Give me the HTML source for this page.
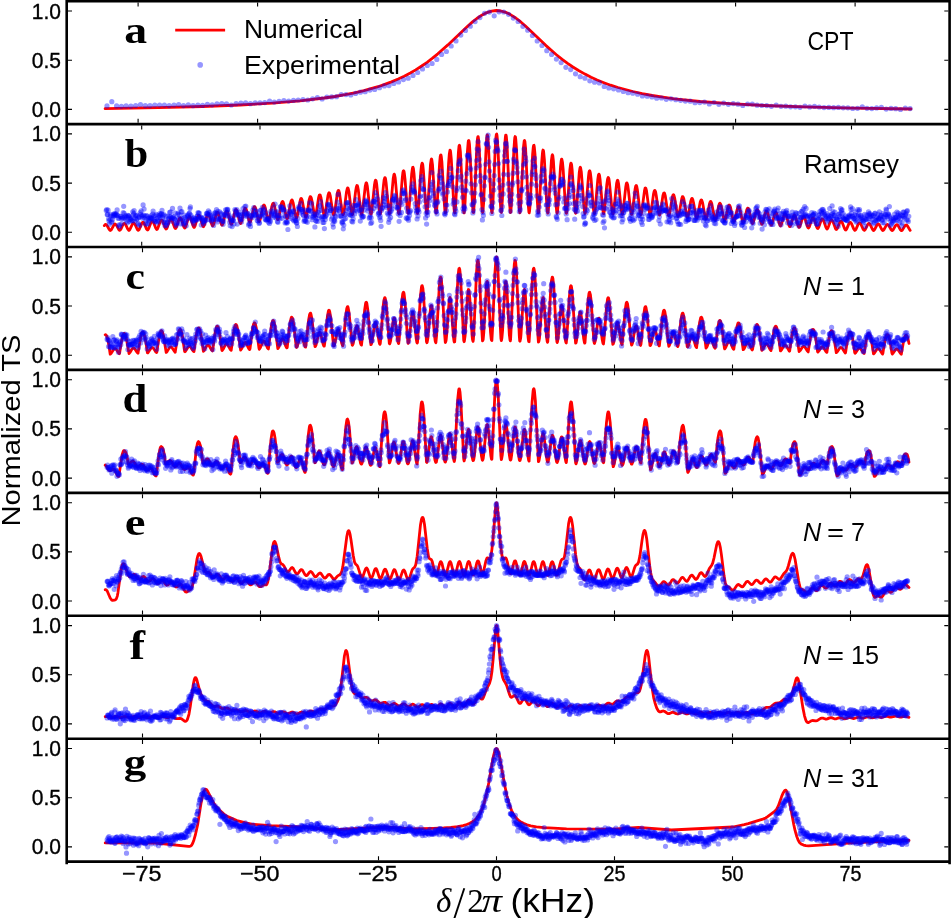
<!DOCTYPE html><html><head><meta charset="utf-8"><style>html,body{margin:0;padding:0;background:#fff;overflow:hidden;width:951px;height:918px}svg{display:block;will-change:transform}text{font-family:"Liberation Sans",sans-serif;}</style></head><body>
<svg width="951" height="918" viewBox="0 0 951 918">
<rect width="951" height="918" fill="#fff"/>
<defs>
<clipPath id="c0"><rect x="66.7" y="1.2" width="882.9" height="122.9"/></clipPath>
<clipPath id="c1"><rect x="66.7" y="124.1" width="882.9" height="122.9"/></clipPath>
<clipPath id="c2"><rect x="66.7" y="247.0" width="882.9" height="122.9"/></clipPath>
<clipPath id="c3"><rect x="66.7" y="369.9" width="882.9" height="122.9"/></clipPath>
<clipPath id="c4"><rect x="66.7" y="492.9" width="882.9" height="122.9"/></clipPath>
<clipPath id="c5"><rect x="66.7" y="615.8" width="882.9" height="122.9"/></clipPath>
<clipPath id="c6"><rect x="66.7" y="738.7" width="882.9" height="122.9"/></clipPath>
</defs>
<g clip-path="url(#c0)">
<g transform="scale(0.1)">
<path fill="none" stroke="#ff0000" stroke-width="28.0" stroke-linejoin="round" stroke-linecap="round" d="M1051 1087l531-10 444-12 376-15 323-19 275-23 242-28 108-15 101-18 94-19 94-21 141-40 67-23 68-25 67-29 60-28 61-32 54-31 60-39 54-37 54-41 53-44 101-89 202-192 47-41 40-31 54-36 47-23 47-15 47-6 47 5 47 13 47 23 54 34 47 37 47 41 208 198 101 89 61 48 54 40 53 37 61 37 60 34 61 31 60 28 68 27 67 25 74 23 148 40 94 21 100 19 108 17 114 16 256 27 295 22 343 18 404 14 483 12 585 9"/>
<path d="M1070 1059h0m574-8h0m574-14h0m573-24h0m574-46h0m573-133h0m574-374h0m574-317h0m573 530h0m574 242h0m573 88h0m574 39h0m574 26h0m573 17h0m574 1h0" stroke="#0000ff" stroke-opacity="0.410" stroke-width="52.0" stroke-linecap="round" fill="none"/>
<path d="M1118 1017h0m574 39h0m573-18h0m574-33h0m573-60h0m574-125h0m574-411h0m573-228h0m574 515h0m574 231h0m573 84h0m574 44h0m573 18h0m574 10h0" stroke="#0000ff" stroke-opacity="0.410" stroke-width="52.0" stroke-linecap="round" fill="none"/>
<path d="M1166 1059h0m574-9h0m573 0h0m574-39h0m573-65h0m574-150h0m574-445h0m573-136h0m574 523h0m573 194h0m574 80h0m574 28h0m573 20h0m574 9h0" stroke="#0000ff" stroke-opacity="0.410" stroke-width="52.0" stroke-linecap="round" fill="none"/>
<path d="M1214 1063h0m573-18h0m574-8h0m574-33h0m573-54h0m574-168h0m573-478h0m574-41h0m573 504h0m574 175h0m574 85h0m573 14h0m574 28h0m573 14h0" stroke="#0000ff" stroke-opacity="0.410" stroke-width="52.0" stroke-linecap="round" fill="none"/>
<path d="M1261 1059h0m574-3h0m574-24h0m573-32h0m574-66h0m574-180h0m573-492h0m574 40h0m573 480h0m574 178h0m574 66h0m573 26h0m574 12h0m573 22h0" stroke="#0000ff" stroke-opacity="0.410" stroke-width="52.0" stroke-linecap="round" fill="none"/>
<path d="M1309 1062h0m574-13h0m573-20h0m574-33h0m574-74h0m573-197h0m574-509h0m573 139h0m574 453h0m574 154h0m573 59h0m574 34h0m573 15h0m574 9h0" stroke="#0000ff" stroke-opacity="0.410" stroke-width="52.0" stroke-linecap="round" fill="none"/>
<path d="M1357 1055h0m574 2h0m573-20h0m574-37h0m574-83h0m573-228h0m574-513h0m573 234h0m574 412h0m574 147h0m573 70h0m574 17h0m573 20h0m574-3h0" stroke="#0000ff" stroke-opacity="0.410" stroke-width="52.0" stroke-linecap="round" fill="none"/>
<path d="M1405 1047h0m574 5h0m573-23h0m574-41h0m573-87h0m574-246h0m573-522h0m574 322h0m574 374h0m573 153h0m574 43h0m573 38h0m574 11h0m574 17h0" stroke="#0000ff" stroke-opacity="0.410" stroke-width="52.0" stroke-linecap="round" fill="none"/>
<path d="M1453 1057h0m573-3h0m574-25h0m574-53h0m573-82h0m574-259h0m573-514h0m574 386h0m574 357h0m573 116h0m574 63h0m573 9h0m574 25h0m574 7h0" stroke="#0000ff" stroke-opacity="0.410" stroke-width="52.0" stroke-linecap="round" fill="none"/>
<path d="M1500 1057h0m574-13h0m574-18h0m573-37h0m574-112h0m573-283h0m574-436h0m574 386h0m573 335h0m574 114h0m574 38h0m573 32h0m574 11h0m573 13h0" stroke="#0000ff" stroke-opacity="0.410" stroke-width="52.0" stroke-linecap="round" fill="none"/>
<path d="M1548 1050h0m574-2h0m574-36h0m573-42h0m574-111h0m573-315h0m574-426h0m574 473h0m573 297h0m574 100h0m573 55h0m574 19h0m574 16h0m573 17h0" stroke="#0000ff" stroke-opacity="0.410" stroke-width="52.0" stroke-linecap="round" fill="none"/>
<path d="M1596 1050h0m574-12h0m573-17h0m574-52h0m573-113h0m574-341h0m574-395h0m573 506h0m574 273h0m573 98h0m574 39h0m574 32h0m573 10h0m574 2h0" stroke="#0000ff" stroke-opacity="0.410" stroke-width="52.0" stroke-linecap="round" fill="none"/>
</g></g>
<g clip-path="url(#c1)">
<g transform="scale(0.1)">
<path fill="none" stroke="#ff0000" stroke-width="28.0" stroke-linejoin="round" stroke-linecap="round" d="M1043 2256l10-11 4 0 6 2 10 13 21 37 6 7 4 1 10-9 27-50 6-6 7 1 10 11 24 45 6 7 4 0 10-11 23-49 7-8 7-1 10 9 23 48 10 12 4-1 6-7 27-58 7-8 7 0 10 11 23 52 7 9 3 1 4-1 7-9 26-62 7-7 3-1 4 1 7 7 26 60 7 8 4 1 3-3 7-11 23-61 7-10 7-3 3 1 7 9 23 58 10 15 4-1 6-9 27-72 7-10 7-2 3 2 7 10 23 64 7 11 3 2 4-1 6-11 27-78 7-10 3-1 4 1 6 8 27 75 7 11 3 1 4-2 6-14 24-74 7-13 6-4 7 5 7 14 23 73 7 10 3 0 10-19 24-79 7-13 6-3 4 2 6 12 24 77 7 14 3 3 3-1 7-13 27-94 7-12 3-2 7 4 7 14 23 81 7 14 3 2 3-3 7-15 27-98 7-11 3-2 4 2 6 11 27 94 7 13 3 0 4-4 6-17 24-93 6-15 4-4 3-1 4 3 6 13 24 89 7 18 3 4 3-1 7-14 23-97 7-20 7-8 3 0 4 3 6 16 24 94 7 16 3 3 3-2 7-17 27-112 7-14 3-2 3 1 7 12 27 109 7 15 3 2 3-5 7-19 24-106 6-18 4-5 3-1 7 8 6 20 24 102 7 13 3 0 3-6 7-21 24-110 6-17 4-4 3 0 3 4 7 17 24 105 6 19 4 4 3-2 7-18 27-126 6-16 4-3 3 1 3 4 7 20 24 110 6 18 4 3 3-4 7-21 23-120 7-22 3-5 4-2 3 2 7 16 27 128 6 17 4 0 3-5 7-24 23-126 7-20 4-5 3 0 3 3 7 19 23 121 7 23 4 6 3-2 7-19 23-129 7-26 7-11 3 0 3 5 7 21 24 127 6 23 4 3 3-3 7-23 27-149 6-17 4-3 3 2 7 17 27 146 6 20 4 2 3-5 7-26 23-143 7-24 3-6 4-1 6 11 7 28 24 139 6 19 4-1 3-7 7-30 23-149 7-24 3-4 4 0 3 5 7 23 23 148 7 27 3 5 4-3 6-25 27-174 7-22 3-4 4 2 3 6 7 28 23 156 7 26 3 4 4-5 7-30 26-188 7-21 3-2 4 3 7 23 26 191 7 25 4 1 3-8 7-35 23-186 7-31 3-7 4 0 3 5 7 29 23 187 7 36 3 9 4-3 6-29 24-201 7-41 6-17 4 1 3 8 7 34 23 204 7 36 3 6 4-5 6-37 27-242 7-28 3-4 4 4 6 28 27 244 7 35 3 3 4-10 6-43 24-236 7-40 3-10 3-1 4 6 6 35 24 236 7 48 3 12 3-1 7-35 24-252 6-52 7-23 3 0 4 9 6 42 24 255 7 47 3 9 3-5 7-43 27-305 7-38 3-6 3 4 7 33 27 307 7 45 3 6 4-10 6-52 24-298 6-53 4-13 3-3 4 6 3 17 7 58 23 301 7 43 3 1 4-15 6-61 24-321 7-51 3-11 3-1 4 11 6 50 24 323 7 63 3 13 3-4 7-52 23-347 7-69 4-20 3-9 3 3 4 14 6 60 24 353 7 61 3 10 3-10 7-63 27-417 7-47 3-6 3 6 7 50 27 422 7 59 3 4 3-17 7-75 24-405 6-67 4-16 3-2 3 11 7 60 24 408 6 81 4 20 3-2 7-62 23-435 7-90 7-39 3 2 3 16 7 73 24 443 6 80 4 15 3-10 7-75 27-522 6-62 4-9 3 6 7 59 27 526 6 77 4 9 3-18 7-90 23-504 7-87 3-22 4-4 3 12 4 29 6 100 24 507 7 72 3 1 3-26 7-104 23-529 7-83 4-16 3 0 3 19 7 87 23 533 7 99 4 21 3-8 7-83 27-601 6-74 4-11 3 7 7 66 27 600 6 91 4 14 3-17 7-95 23-549 7-97 3-23 4-6 3 13 3 30 7 108 24 547 6 81 4 5 3-24 7-104 23-542 7-85 3-18 4 0 3 19 7 85 23 542 7 104 3 24 4-4 6-78 24-533 7-104 3-29 3-12 4 6 3 24 7 94 23 531 7 92 3 16 4-12 7-85 26-561 7-61 3-5 4 11 7 70 26 558 7 77 3 9 4-19 7-89 23-476 7-75 3-16 4-1 3 16 7 73 23 469 7 93 3 23 4 0 6-62 24-442 7-87 3-25 3-11 4 4 3 19 7 75 23 438 7 79 3 16 4-7 6-66 27-453 7-51 3-6 4 8 6 53 27 449 7 65 3 9 4-12 6-69 24-381 7-63 3-15 3-1 7 33 7 76 23 376 7 53 3 3 4-17 6-70 24-351 7-52 3-10 3 2 4 13 6 58 24 348 7 65 3 15 3-3 7-50 27-359 7-43 3-6 3 5 7 40 27 354 7 55 3 9 3-8 7-51 24-302 6-52 4-12 3-3 3 7 4 17 7 59 23 297 7 45 3 4 4-11 6-53 24-278 6-43 4-9 3 0 4 10 6 44 24 274 7 54 3 13 3-1 7-36 23-256 7-49 4-14 3-6 3 3 4 10 6 45 24 253 7 45 3 9 3-4 7-39 27-263 7-29 3-3 3 4 7 32 27 262 7 37 3 5 3-7 7-41 24-221 6-36 4-8 3 0 7 20 6 45 24 218 7 30 3 1 3-10 7-40 24-203 6-30 4-5 3 1 3 8 7 34 24 202 6 37 4 9 3-3 7-29 27-208 6-24 4-3 3 3 7 24 27 206 6 31 4 5 3-5 7-30 23-172 7-29 3-7 4-1 7 14 6 35 24 169 6 26 4 2 3-7 7-30 23-156 7-24 4-4 3 0 3 6 7 25 23 157 7 31 4 7 3 0 7-21 23-147 7-29 3-8 4-3 3 2 3 7 7 26 24 150 6 26 4 6 3-3 7-23 27-154 6-17 4-1 3 3 7 19 27 158 6 23 4 3 3-5 7-24 23-132 7-21 3-5 4 0 6 12 7 28 24 134 6 19 4 1 3-6 7-26 23-126 7-18 3-4 4 1 3 6 7 21 23 130 7 24 3 6 4-2 6-18 27-135 7-16 3-2 4 3 7 16 26 138 7 22 3 3 4-3 7-20 23-116 7-20 3-4 3-1 7 11 7 24 23 119 7 18 4 1 3-4 7-21 23-110 7-17 3-3 4 1 3 4 7 18 23 114 7 22 3 6 4-1 6-15 24-105 7-20 6-8 4 1 3 5 7 20 23 110 7 19 3 4 4-2 6-17 27-112 7-12 3-1 4 3 6 14 27 118 7 17 3 2 4-4 6-18 24-98 7-15 3-3 3 0 4 3 6 16 24 101 10 25 3 1 7-13 24-93 6-19 7-7 3 0 4 5 6 16 24 97 7 18 3 4 3-1 7-14 27-99 7-11 3-2 3 2 7 12 27 103 7 15 3 3 3-3 7-15 24-85 6-14 4-3 3-1 7 8 7 18 23 88 7 13 3 1 4-3 6-16 24-81 7-12 3-2 7 4 6 14 24 84 7 16 3 4 3-1 7-11 27-85 7-10 3-1 3 1 7 10 27 88 7 13 3 3 3-2 7-12 24-73 6-13 7-3 3 1 7 11 27 83 7 11 3 1 3-2 7-13 24-68 6-11 4-2 6 3 7 11 24 70 10 17 3 0 7-9 23-64 7-12 7-5 6 4 7 11 24 66 6 12 4 2 3-1 7-9 27-66 6-7 4 0 3 1 7 8 27 68 6 10 4 1 3-2 7-9 23-55 7-9 7-2 10 11 23 55 11 14 3 0 7-7 23-52 7-10 7-5 6 2 7 9 23 52 11 12 3-1 7-7 27-54 6-7 4-1 3 1 7 6 27 54 6 8 4 2 3-2 7-7 23-46 7-8 7-2 10 7 23 45 10 13 7-2 7-8 23-42 7-7 7-1 10 8 23 42 10 11 4 0 6-6 24-42 7-8 6-3 7 2 7 7 23 42 10 9 4-1 7-7 26-44 10-5 7 2 7 8 27 44"/>
<path d="M1062 2106h0m57 109h0m57-61h0m56-28h0m57 34h0m57 51h0m57-84h0m57 71h0m56-19h0m57 6h0m57-32h0m57 41h0m57-7h0m56-105h0m57 146h0m57-42h0m57-26h0m56 46h0m57-98h0m57 61h0m57-50h0m57-21h0m56 110h0m57-112h0m57 45h0m57-3h0m56-62h0m57 150h0m57-33h0m57-81h0m57 48h0m56 23h0m57 112h0m57-180h0m57-39h0m57 25h0m56-21h0m57 131h0m57-46h0m57-125h0m56 231h0m57-190h0m57 66h0m57-72h0m57-79h0m56 161h0m57-115h0m57-28h0m57 113h0m57-115h0m56 106h0m57-87h0m57 93h0m57 63h0m56-348h0m57 256h0m57-137h0m57 13h0m57 61h0m56-254h0m57 273h0m57-183h0m57-161h0m56 355h0m57-460h0m57 246h0m57 103h0m57-505h0m56 633h0m57-570h0m57 234h0m57 220h0m57-457h0m56 513h0m57-251h0m57-22h0m57 365h0m56-364h0m57 298h0m57-148h0m57-41h0m57 283h0m56-284h0m57 254h0m57 27h0m57-181h0m57 250h0m56-329h0m57 121h0m57 154h0m57-160h0m56 203h0m57-130h0m57 54h0m57 11h0m57-68h0m56 117h0m57-79h0m57-61h0m57 129h0m56-147h0m57 121h0m57 3h0m57-22h0m57 56h0m56-57h0m57 62h0m57-14h0m57-97h0m57 156h0m56-84h0m57 24h0m57 80h0m57-93h0m56 30h0m57-20h0m57-46h0m57 94h0m57-35h0m56-42h0m57 92h0m57-77h0m57 109h0m57-193h0m56 104h0m57 35h0m57-79h0m57 10h0m56-22h0m57 31h0m57 47h0m57-30h0m57-44h0m56 37h0m57 39h0m57-36h0m57 30h0m57 39h0m56-62h0m57 6h0m57 15h0m57-73h0" stroke="#0000ff" stroke-opacity="0.410" stroke-width="52.0" stroke-linecap="round" fill="none"/>
<path d="M1067 2095h0m57 99h0m56-12h0m57-119h0m57 152h0m57-32h0m57-38h0m56 11h0m57 30h0m57 17h0m57 21h0m56-43h0m57 16h0m57 41h0m57 20h0m57-86h0m56-11h0m57 59h0m57-25h0m57-61h0m57 60h0m56-37h0m57 37h0m57 47h0m57-155h0m56 165h0m57-101h0m57 6h0m57 42h0m57-56h0m56-25h0m57-43h0m57 65h0m57 70h0m56-124h0m57 121h0m57-95h0m57 32h0m57 49h0m56-133h0m57 152h0m57-101h0m57 29h0m57 12h0m56-92h0m57 115h0m57-65h0m57-25h0m56 46h0m57-147h0m57 191h0m57-180h0m57 49h0m56 72h0m57-223h0m57 227h0m57-113h0m57-109h0m56 219h0m57-292h0m57 95h0m57 122h0m56-398h0m57 431h0m57-395h0m57 87h0m57 176h0m56-510h0m57 594h0m57-391h0m57-21h0m56 398h0m57-506h0m57 396h0m57-31h0m57-155h0m56 407h0m57-421h0m57 296h0m57-65h0m57-105h0m56 274h0m57-137h0m57-6h0m57 213h0m56-224h0m57 188h0m57-60h0m57 12h0m57 83h0m56-250h0m57 205h0m57-50h0m57 113h0m57 0h0m56-115h0m57 91h0m57-99h0m57 40h0m56 111h0m57-74h0m57 13h0m57 58h0m57-152h0m56 140h0m57-60h0m57-43h0m57 133h0m57-94h0m56 67h0m57 30h0m57-74h0m57 60h0m56-103h0m57 30h0m57-10h0m57 21h0m57 85h0m56-59h0m57 10h0m57-29h0m57 19h0m56-51h0m57 0h0m57 31h0m57 76h0m57-147h0m56 107h0m57-6h0m57-56h0m57 57h0m57-128h0m56 153h0m57-47h0m57-16h0m57-4h0m56 36h0m57-9h0m57 72h0m57-55h0m57 61h0m56-153h0" stroke="#0000ff" stroke-opacity="0.410" stroke-width="52.0" stroke-linecap="round" fill="none"/>
<path d="M1072 2146h0m56 10h0m57 95h0m57-117h0m57 41h0m56-18h0m57-48h0m57 134h0m57-102h0m57 74h0m56-68h0m57-23h0m57 8h0m57-13h0m57 74h0m56 10h0m57-78h0m57 92h0m57-93h0m56 3h0m57 54h0m57-56h0m57 141h0m57-114h0m56 2h0m57 83h0m57-90h0m57-42h0m57 24h0m56 27h0m57 60h0m57-103h0m57 51h0m56-12h0m57-23h0m57 86h0m57-178h0m57 149h0m56 38h0m57-173h0m57 147h0m57-141h0m56 127h0m57-56h0m57-18h0m57 54h0m57-79h0m56-73h0m57 165h0m57-251h0m57 183h0m57-39h0m56-133h0m57 240h0m57-262h0m57 105h0m56 48h0m57-157h0m57 202h0m57-274h0m57 18h0m56 142h0m57-384h0m57 474h0m57-394h0m57-15h0m56 415h0m57-712h0m57 458h0m57-42h0m56-244h0m57 558h0m57-503h0m57 299h0m57 30h0m56-331h0m57 541h0m57-344h0m57 96h0m56 146h0m57-250h0m57 400h0m57-323h0m57 162h0m56 129h0m57-310h0m57 262h0m57-101h0m57-65h0m56 142h0m57-56h0m57 89h0m57 62h0m56-258h0m57 162h0m57-6h0m57 87h0m57-43h0m56-80h0m57 151h0m57-101h0m57 145h0m57-52h0m56-130h0m57 40h0m57 106h0m57-65h0m56 55h0m57-83h0m57 44h0m57-30h0m57 29h0m56 62h0m57-119h0m57 59h0m57 71h0m57-139h0m56 67h0m57-56h0m57 89h0m57-35h0m56 21h0m57 51h0m57-78h0m57 39h0m57 50h0m56-106h0m57 19h0m57 2h0m57 10h0m56-7h0m57-63h0m57 60h0m57 36h0m57-8h0m56 54h0m57-120h0m57 29h0m57 63h0m57-37h0m56 58h0m57-31h0" stroke="#0000ff" stroke-opacity="0.410" stroke-width="52.0" stroke-linecap="round" fill="none"/>
<path d="M1076 2144h0m57 22h0m57 16h0m57-11h0m56 21h0m57-34h0m57 6h0m57-3h0m57-50h0m56 46h0m57 64h0m57-54h0m57 73h0m56-55h0m57-17h0m57 50h0m57-88h0m57 106h0m56-93h0m57 1h0m57-11h0m57-39h0m57 113h0m56-67h0m57-3h0m57 57h0m57-84h0m56-9h0m57 101h0m57-73h0m57 94h0m57-126h0m56 15h0m57 73h0m57-152h0m57 145h0m57 19h0m56 17h0m57-45h0m57-122h0m57 166h0m56-50h0m57-59h0m57 108h0m57-163h0m57 21h0m56 3h0m57-58h0m57 147h0m57-105h0m56 5h0m57 12h0m57-165h0m57 293h0m57-288h0m56 56h0m57 209h0m57-334h0m57 295h0m57-197h0m56-89h0m57 171h0m57-387h0m57 262h0m56-62h0m57-233h0m57 594h0m57-848h0m57 549h0m56-23h0m57-366h0m57 533h0m57-411h0m57 258h0m56 94h0m57-340h0m57 426h0m57-191h0m56-44h0m57 328h0m57-372h0m57 251h0m57-139h0m56 46h0m57 296h0m57-286h0m57 236h0m57-157h0m56-117h0m57 204h0m57-115h0m57 88h0m56 87h0m57-220h0m57 256h0m57-171h0m57 101h0m56-34h0m57-16h0m57 61h0m57-100h0m56 52h0m57 32h0m57-48h0m57 53h0m57 20h0m56-45h0m57 64h0m57-122h0m57 95h0m57 32h0m56-76h0m57 107h0m57-114h0m57 7h0m56 48h0m57 24h0m57-58h0m57 44h0m57-64h0m56 68h0m57-9h0m57 8h0m57-97h0m57 41h0m56 63h0m57-93h0m57 89h0m57-30h0m56 38h0m57 4h0m57-62h0m57 75h0m57 3h0m56-94h0m57 106h0m57-41h0m57-37h0m56 42h0m57-67h0m57 33h0m57 61h0" stroke="#0000ff" stroke-opacity="0.410" stroke-width="52.0" stroke-linecap="round" fill="none"/>
<path d="M1081 2102h0m57 42h0m57 124h0m56-79h0m57 4h0m57 2h0m57-40h0m57 32h0m56 19h0m57-32h0m57 82h0m57-137h0m56 136h0m57-138h0m57 42h0m57 41h0m57-20h0m56 22h0m57-49h0m57 47h0m57-56h0m56-40h0m57 100h0m57-56h0m57-31h0m57 117h0m56-80h0m57 9h0m57 29h0m57-76h0m57 39h0m56-55h0m57-42h0m57 149h0m57-115h0m56 69h0m57 0h0m57-38h0m57 102h0m57-95h0m56 31h0m57-4h0m57-127h0m57 124h0m57-107h0m56 119h0m57 16h0m57-183h0m57 205h0m56-241h0m57 126h0m57-1h0m57-189h0m57 226h0m56-196h0m57 31h0m57 173h0m57-407h0m56 302h0m57-99h0m57-94h0m57 302h0m57-539h0m56 214h0m57 116h0m57-439h0m57 635h0m57-651h0m56 282h0m57 199h0m57-516h0m57 562h0m56-326h0m57 98h0m57 253h0m57-353h0m57 312h0m56-95h0m57-122h0m57 407h0m57-333h0m57 242h0m56-48h0m57-137h0m57 330h0m57-207h0m56 73h0m57-11h0m57-174h0m57 271h0m57-95h0m56-28h0m57 156h0m57-135h0m57 89h0m57-89h0m56 57h0m57 70h0m57-108h0m57 57h0m56 1h0m57-9h0m57 18h0m57-34h0m57 49h0m56-3h0m57-81h0m57 142h0m57-90h0m56-73h0m57 137h0m57-144h0m57 131h0m57-12h0m56-44h0m57 46h0m57-92h0m57 122h0m57-138h0m56 56h0m57 29h0m57-18h0m57 26h0m56-8h0m57 49h0m57 23h0m57-123h0m57 66h0m56-58h0m57-36h0m57 117h0m57-43h0m57-63h0m56 111h0m57-69h0m57-4h0m57 35h0m56-80h0m57 151h0m57-37h0m57-82h0m57 41h0" stroke="#0000ff" stroke-opacity="0.410" stroke-width="52.0" stroke-linecap="round" fill="none"/>
<path d="M1086 2188h0m57-53h0m56 114h0m57-94h0m57 27h0m57-30h0m56 30h0m57 52h0m57-76h0m57-21h0m57 62h0m56-28h0m57 57h0m57-22h0m57-57h0m57 92h0m56-111h0m57 72h0m57-40h0m57-65h0m56 113h0m57-117h0m57 108h0m57-79h0m57-56h0m56 199h0m57-153h0m57 29h0m57 49h0m56-114h0m57 99h0m57-17h0m57-36h0m57 84h0m56-110h0m57 127h0m57-49h0m57-19h0m57 131h0m56-201h0m57 86h0m57-12h0m57-132h0m56 192h0m57-158h0m57 40h0m57 72h0m57-248h0m56 338h0m57-187h0m57-67h0m57 129h0m57-201h0m56 218h0m57-118h0m57-232h0m57 436h0m56-373h0m57 148h0m57-139h0m57-64h0m57 334h0m56-346h0m57 107h0m57 136h0m57-504h0m57 614h0m56-536h0m57 27h0m57 361h0m57-574h0m56 511h0m57-217h0m57-3h0m57 311h0m57-452h0m56 427h0m57-85h0m57-153h0m57 422h0m56-345h0m57 131h0m57 112h0m57-240h0m57 383h0m56-175h0m57-33h0m57 121h0m57-171h0m57 132h0m56 18h0m57-43h0m57 69h0m57-122h0m56 215h0m57-89h0m57-65h0m57 77h0m57-63h0m56 122h0m57-43h0m57-76h0m57 95h0m57-90h0m56 3h0m57 69h0m57-129h0m57 138h0m56-61h0m57-1h0m57 82h0m57-58h0m57 119h0m56-82h0m57-106h0m57 108h0m57-59h0m56 109h0m57-70h0m57-1h0m57 50h0m57-97h0m56-10h0m57 102h0m57-69h0m57 47h0m57-69h0m56-42h0m57 134h0m57-91h0m57 73h0m56-115h0m57 80h0m57 58h0m57-75h0m57-18h0m56 21h0m57-53h0m57 128h0m57-75h0m57 11h0" stroke="#0000ff" stroke-opacity="0.410" stroke-width="52.0" stroke-linecap="round" fill="none"/>
<path d="M1090 2209h0m57-55h0m57 10h0m57 3h0m57 41h0m56-20h0m57-139h0m57 160h0m57-17h0m57-41h0m56 9h0m57 23h0m57 48h0m57-43h0m56-9h0m57 2h0m57 9h0m57-24h0m57 46h0m56-80h0m57 80h0m57-83h0m57 111h0m57-86h0m56-37h0m57 39h0m57-13h0m57-69h0m56 107h0m57-9h0m57-18h0m57 76h0m57-47h0m56 45h0m57-114h0m57 53h0m57-25h0m56-35h0m57 62h0m57-65h0m57-7h0m57 122h0m56-170h0m57 139h0m57-158h0m57 18h0m57 101h0m56-94h0m57 48h0m57 27h0m57-134h0m56 75h0m57-146h0m57 193h0m57-43h0m57-226h0m56 270h0m57-299h0m57 88h0m57 81h0m57-242h0m56 337h0m57-323h0m57-24h0m57 314h0m56-636h0m57 581h0m57-286h0m57-196h0m57 592h0m56-640h0m57 383h0m57-31h0m57-169h0m57 393h0m56-378h0m57 314h0m57 71h0m57-259h0m56 250h0m57-226h0m57 138h0m57 240h0m57-324h0m56 263h0m57-112h0m57 19h0m57 187h0m56-190h0m57 140h0m57-15h0m57-106h0m57 62h0m56-57h0m57 135h0m57 0h0m57-115h0m57 1h0m56 20h0m57 0h0m57 78h0m57-161h0m56 177h0m57 8h0m57-90h0m57 136h0m57-55h0m56-72h0m57 78h0m57-130h0m57 149h0m57-159h0m56 100h0m57 53h0m57-135h0m57 214h0m56-186h0m57 18h0m57 90h0m57-71h0m57 94h0m56 0h0m57-61h0m57-6h0m57-21h0m56 6h0m57-8h0m57 17h0m57 14h0m57-73h0m56 68h0m57-8h0m57-14h0m57 30h0m57-45h0m56 67h0m57-47h0m57 9h0m57 45h0m56-78h0m57-9h0" stroke="#0000ff" stroke-opacity="0.410" stroke-width="52.0" stroke-linecap="round" fill="none"/>
<path d="M1095 2242h0m57-98h0m57 20h0m57 47h0m56-6h0m57 38h0m57-93h0m57 49h0m56 15h0m57-32h0m57 75h0m57-45h0m57-68h0m56 99h0m57-108h0m57 69h0m57-32h0m57 30h0m56 4h0m57 14h0m57 23h0m57-74h0m56-15h0m57 39h0m57-132h0m57 105h0m57 39h0m56-78h0m57 95h0m57-65h0m57 29h0m57-23h0m56-27h0m57 93h0m57-118h0m57-10h0m56 59h0m57-102h0m57 136h0m57-91h0m57 27h0m56 102h0m57-147h0m57-31h0m57 46h0m57-88h0m56 223h0m57-276h0m57 125h0m57-29h0m56-59h0m57 217h0m57-274h0m57 166h0m57 4h0m56-344h0m57 388h0m57-194h0m57-68h0m56 244h0m57-323h0m57 300h0m57-243h0m57-319h0m56 580h0m57-628h0m57 356h0m57-56h0m57-400h0m56 699h0m57-488h0m57 216h0m57 129h0m56-467h0m57 535h0m57-279h0m57 16h0m57 287h0m56-271h0m57 349h0m57-108h0m57 16h0m57 64h0m56-222h0m57 214h0m57-33h0m57 22h0m56 71h0m57-148h0m57 123h0m57-59h0m57 29h0m56 55h0m57-88h0m57-8h0m57 105h0m56-138h0m57 218h0m57-135h0m57-121h0m57 230h0m56-82h0m57 56h0m57 15h0m57-53h0m57 28h0m56-37h0m57 19h0m57 46h0m57-101h0m56 87h0m57-97h0m57 124h0m57-48h0m57-48h0m56 82h0m57-24h0m57-70h0m57 56h0m57-13h0m56 4h0m57-25h0m57-24h0m57 135h0m56-99h0m57 0h0m57 15h0m57 30h0m57-1h0m56-95h0m57 113h0m57-20h0m57-78h0m56 33h0m57 22h0m57 44h0m57-6h0m57-56h0m56 32h0m57-1h0m57 3h0" stroke="#0000ff" stroke-opacity="0.410" stroke-width="52.0" stroke-linecap="round" fill="none"/>
<path d="M1100 2196h0m57-58h0m57 49h0m56-13h0m57-56h0m57 115h0m57-142h0m56 83h0m57-18h0m57-14h0m57 97h0m57-155h0m56 46h0m57 102h0m57-100h0m57 53h0m56-13h0m57-35h0m57 42h0m57-66h0m57 99h0m56-55h0m57-62h0m57 101h0m57-33h0m57-11h0m56 28h0m57-28h0m57 35h0m57-45h0m56-72h0m57 152h0m57-77h0m57 120h0m57-115h0m56-41h0m57 29h0m57-76h0m57 97h0m57 33h0m56-111h0m57 136h0m57-190h0m57 81h0m56-5h0m57-57h0m57 132h0m57-150h0m57 48h0m56 70h0m57-165h0m57 145h0m57-122h0m57-13h0m56 136h0m57-329h0m57 323h0m57-189h0m56-178h0m57 394h0m57-464h0m57 221h0m57 0h0m56-337h0m57 537h0m57-513h0m57 186h0m56 183h0m57-538h0m57 732h0m57-542h0m57 119h0m56 304h0m57-503h0m57 445h0m57-193h0m57 36h0m56 281h0m57-361h0m57 249h0m57-9h0m56-67h0m57 113h0m57-74h0m57 30h0m57 189h0m56-194h0m57 232h0m57-90h0m57-80h0m57 13h0m56-20h0m57 162h0m57-38h0m57-25h0m56 61h0m57-119h0m57 49h0m57-9h0m57 62h0m56-41h0m57 3h0m57 55h0m57-60h0m56-33h0m57 158h0m57-98h0m57 25h0m57 24h0m56-123h0m57 169h0m57-96h0m57 17h0m57 102h0m56-214h0m57 106h0m57 13h0m57-71h0m56 24h0m57-17h0m57 105h0m57-6h0m57-52h0m56-5h0m57-31h0m57-14h0m57 61h0m57-12h0m56 72h0m57-64h0m57 11h0m57-3h0m56-85h0m57 167h0m57-43h0m57-39h0m57 13h0m56-4h0m57 1h0m57-27h0m57-5h0" stroke="#0000ff" stroke-opacity="0.410" stroke-width="52.0" stroke-linecap="round" fill="none"/>
<path d="M1105 2144h0m56 10h0m57 81h0m57-7h0m57-78h0m57 18h0m56 12h0m57 2h0m57 31h0m57-78h0m57 86h0m56-46h0m57 10h0m57-35h0m57-65h0m56 107h0m57 58h0m57-119h0m57 58h0m57 0h0m56-32h0m57 65h0m57-114h0m57 67h0m57-31h0m56 31h0m57 35h0m57-105h0m57 130h0m56-195h0m57 23h0m57 152h0m57-98h0m57 67h0m56-31h0m57-54h0m57 170h0m57-254h0m56 136h0m57-66h0m57-63h0m57 266h0m57-192h0m56 43h0m57 72h0m57-209h0m57 222h0m57-236h0m56 59h0m57 176h0m57-270h0m57 202h0m56-165h0m57-63h0m57 263h0m57-305h0m57 170h0m56-41h0m57-127h0m57 244h0m57-349h0m57 237h0m56-46h0m57-422h0m57 474h0m57-369h0m56 114h0m57 293h0m57-644h0m57 648h0m57-320h0m56-155h0m57 524h0m57-481h0m57 317h0m56-98h0m57-44h0m57 168h0m57-212h0m57 205h0m56 116h0m57-243h0m57 271h0m57-106h0m57 97h0m56 79h0m57-264h0m57 357h0m57-151h0m56-20h0m57 48h0m57-76h0m57 18h0m57 50h0m56-100h0m57 104h0m57-78h0m57 9h0m57 136h0m56-179h0m57 203h0m57-200h0m57 25h0m56 136h0m57-100h0m57 108h0m57-34h0m57-32h0m56-33h0m57 55h0m57 66h0m57-108h0m56 27h0m57 6h0m57-42h0m57 97h0m57-125h0m56 2h0m57 97h0m57-54h0m57 120h0m57-28h0m56-133h0m57 64h0m57 39h0m57-21h0m56 11h0m57-37h0m57 47h0m57-62h0m57 26h0m56 27h0m57-3h0m57 8h0m57-40h0m57 18h0m56 58h0m57-88h0m57 71h0m57 11h0m56-74h0" stroke="#0000ff" stroke-opacity="0.410" stroke-width="52.0" stroke-linecap="round" fill="none"/>
<path d="M1109 2161h0m57-21h0m57 37h0m57-24h0m57-19h0m56 41h0m57-15h0m57 24h0m57-40h0m56-40h0m57 123h0m57-62h0m57 28h0m57-20h0m56-104h0m57 132h0m57-21h0m57-45h0m57 60h0m56-4h0m57-46h0m57 112h0m57-115h0m56 78h0m57-63h0m57-56h0m57 67h0m57-75h0m56 110h0m57-83h0m57-25h0m57 136h0m57-131h0m56-10h0m57 123h0m57-186h0m57 143h0m56-66h0m57 3h0m57 63h0m57-226h0m57 307h0m56-109h0m57-47h0m57 46h0m57-115h0m56 82h0m57-36h0m57-99h0m57 220h0m57-230h0m56 61h0m57 155h0m57-309h0m57 235h0m57-208h0m56 84h0m57 70h0m57-272h0m57 271h0m56-273h0m57 105h0m57 205h0m57-533h0m57 455h0m56-252h0m57-114h0m57 420h0m57-583h0m57 371h0m56-14h0m57-215h0m57 455h0m57-503h0m56 411h0m57-26h0m57-251h0m57 432h0m57-370h0m56 95h0m57 214h0m57-308h0m57 301h0m56-85h0m57 44h0m57 107h0m57-252h0m57 127h0m56 66h0m57-41h0m57 181h0m57-186h0m57 173h0m56-85h0m57-63h0m57 23h0m57 51h0m56-16h0m57-28h0m57-29h0m57 100h0m57-43h0m56 15h0m57 49h0m57-2h0m57-41h0m57 47h0m56-19h0m57 58h0m57-104h0m57 53h0m56 57h0m57-58h0m57 55h0m57-99h0m57 40h0m56 50h0m57-57h0m57 88h0m57-145h0m56 19h0m57 47h0m57-10h0m57 58h0m57-78h0m56 54h0m57-30h0m57-104h0m57 138h0m57-16h0m56-11h0m57-22h0m57 11h0m57 34h0m56-22h0m57 32h0m57-69h0m57 15h0m57-8h0m56 0h0m57-11h0" stroke="#0000ff" stroke-opacity="0.410" stroke-width="52.0" stroke-linecap="round" fill="none"/>
<path d="M1114 2225h0m57-126h0m57 81h0m57-21h0m56-52h0m57 147h0m57-18h0m57-79h0m56 72h0m57-52h0m57-16h0m57 24h0m57-36h0m56 67h0m57-64h0m57 46h0m57-10h0m56-44h0m57 110h0m57-76h0m57-35h0m57 37h0m56-59h0m57 70h0m57-57h0m57 4h0m57 96h0m56-84h0m57 65h0m57-36h0m57-100h0m56 141h0m57-23h0m57-131h0m57 133h0m57-86h0m56 95h0m57-30h0m57-67h0m57 130h0m57-142h0m56 93h0m57-42h0m57-96h0m57 42h0m56-81h0m57 15h0m57 112h0m57-125h0m57 121h0m56-128h0m57-15h0m57 86h0m57-178h0m56 257h0m57-264h0m57 111h0m57 54h0m57-349h0m56 393h0m57-335h0m57 0h0m57 344h0m57-534h0m56 350h0m57-116h0m57-379h0m57 700h0m56-636h0m57 440h0m57-40h0m57-405h0m57 604h0m56-488h0m57 231h0m57 312h0m57-467h0m57 331h0m56-147h0m57-22h0m57 232h0m57-246h0m56 242h0m57-10h0m57-139h0m57 221h0m57-76h0m56 8h0m57 80h0m57-94h0m57 90h0m56-68h0m57-41h0m57 107h0m57-62h0m57 61h0m56-126h0m57 52h0m57 60h0m57-60h0m57 161h0m56-167h0m57 91h0m57-12h0m57-45h0m56 100h0m57-6h0m57-97h0m57 126h0m57-105h0m56 38h0m57 90h0m57-81h0m57 63h0m57-59h0m56 72h0m57-26h0m57-91h0m57 52h0m56-52h0m57 45h0m57 27h0m57-57h0m57 64h0m56-32h0m57-71h0m57 113h0m57-85h0m57 128h0m56-79h0m57-36h0m57 52h0m57 3h0m56-52h0m57 44h0m57-53h0m57 28h0m57-105h0m56 116h0m57-27h0m57 45h0" stroke="#0000ff" stroke-opacity="0.410" stroke-width="52.0" stroke-linecap="round" fill="none"/>
</g></g>
<g clip-path="url(#c2)">
<g transform="scale(0.1)">
<path fill="none" stroke="#ff0000" stroke-width="28.0" stroke-linejoin="round" stroke-linecap="round" d="M1052 3348l3-2 7 5 7 13 7 23 13 66 13 89 10-10 24-38 7-6 6-2 7 3 7 6 23 36 7 7 3-6 14-91 13-68 10-30 7-8 3 0 3 2 7 11 10 35 27 153 10-12 20-33 7-7 7-3 6 1 7 5 23 36 10 10 27-163 10-36 7-11 3-2 4 0 6 10 10 32 14 72 13 93 4 1 6-8 24-37 7-7 6-2 7 2 7 6 23 36 7 7 3-2 14-97 13-75 10-34 7-10 3-1 3 2 7 12 10 38 27 165 10-10 23-38 7-5 7-2 7 3 6 7 20 32 10 11 21-134 10-54 10-33 6-7 4 0 3 3 7 16 10 42 23 159 4 4 3-3 27-42 6-7 7-2 7 1 7 7 23 36 7 7 3 0 17-125 10-60 10-39 7-11 3-2 3 2 7 13 10 40 27 180 10-11 23-43 7-6 7-2 6 3 7 8 20 36 10 11 4-11 16-129 10-60 11-38 6-9 4 0 6 10 10 38 10 61 17 128 3 6 11-13 20-41 6-9 7-4 7 2 6 8 24 45 7 9 3 1 27-198 10-44 7-14 3-2 3 1 7 14 10 45 27 195 3-2 7-10 23-51 7-9 7-3 3 1 7 7 23 50 10 13 4-7 26-205 10-44 7-11 4-1 6 11 10 42 27 203 3 9 10-15 24-57 7-9 3-2 7 3 6 9 24 56 7 9 3 2 30-233 10-43 7-9 3 2 3 5 11 40 30 234 3-2 7-11 27-75 6-9 4-1 3 1 7 9 23 66 10 16 4-3 20-182 10-74 10-42 3-6 3 0 7 11 10 50 27 231 3 11 4-3 6-15 24-84 7-14 3-3 3 0 4 3 6 14 24 82 6 14 4 2 3-16 27-256 10-55 7-13 3 1 3 6 10 49 31 278 3 0 7-13 23-101 7-20 7-8 3 2 7 14 23 99 7 19 3 4 3 0 4-27 27-269 10-54 3-7 3-2 4 4 3 10 10 59 24 240 3 31 3 14 4-4 6-17 27-129 7-13 3 0 4 4 6 19 24 116 6 17 4 4 3-12 3-31 24-263 10-68 7-17 3 1 3 7 10 57 31 320 3 2 7-16 26-155 7-21 3-3 4 2 3 7 7 27 23 138 4 11 3 6 3 2 7-63 24-285 10-68 3-10 3-3 4 4 3 11 10 71 23 286 7 53 4-3 3-9 7-31 23-158 7-20 3-1 3 5 7 26 24 158 6 24 4 5 3-9 3-35 27-349 7-51 7-22 3 0 3 8 10 67 30 381 4 5 3-6 7-29 23-187 7-30 3-5 4 1 3 9 7 36 23 183 4 14 3 9 3 2 7-66 23-344 10-85 4-13 3-5 4 4 3 13 10 85 23 343 7 66 3-4 4-10 3-17 27-249 7-30 3-3 3 6 7 36 24 226 6 35 4 7 3-6 3-39 27-431 10-86 3-10 4-1 7 27 6 64 30 470 4 10 3-7 7-39 23-271 7-46 3-9 4 1 6 34 24 269 6 50 4 12 3 5 7-74 27-489 6-68 4-18 3-7 3 4 4 15 10 108 23 440 7 87 3-3 4-13 3-22 7-73 20-287 7-47 3-5 3 7 7 51 23 326 7 51 3 10 4-2 3-45 20-430 10-175 7-67 3-15 4-3 3 10 3 23 7 81 30 604 4 16 3-8 7-50 23-380 7-69 3-15 4 1 3 15 7 71 23 377 3 30 4 18 3 7 3-22 4-57 27-607 6-88 4-25 3-11 3 4 4 18 10 131 23 542 7 109 3-1 4-14 6-67 24-436 6-67 4-9 3 8 7 65 23 435 7 67 3 14 4 2 6-109 24-563 10-140 3-19 4-5 3 10 3 26 7 90 27 629 3 58 4 24 3-7 3-19 7-77 23-433 7-53 3-1 4 15 7 79 23 433 7 57 3 9 3-15 31-660 6-91 4-26 3-12 3 2 4 16 6 73 10 193 20 471 4 48 3 4 7-33 3-34 24-381 6-61 4-9 3 5 7 54 20 335 7 85 3 26 3 15 4 4 6-93 24-495 10-124 3-18 4-6 3 8 3 20 7 76 27 552 6 84 4-5 3-14 4-24 26-359 7-42 3-2 4 10 6 55 24 327 7 47 3 9 3-9 30-536 7-74 7-33 3 0 4 12 10 98 26 492 4 44 3 8 3-8 7-40 24-270 6-45 4-8 3 3 7 35 27 299 3 20 3 13 4 4 6-70 24-385 10-98 3-15 3-5 4 5 3 14 10 96 24 385 6 75 4-3 3-10 3-17 27-248 7-30 3-3 4 6 6 36 24 226 7 36 3 7 3-4 30-418 10-76 4-9 3-1 7 24 7 56 26 383 4 38 3 11 3-5 7-27 24-185 6-31 4-6 3 1 7 22 23 185 7 36 3 10 4 4 6-54 24-312 10-80 3-12 3-5 4 3 3 10 10 74 24 311 6 69 4-2 6-18 27-174 7-22 3-2 4 3 6 24 27 176 7 17 3-1 30-348 10-64 4-8 3-2 7 19 6 44 27 318 4 34 3 14 3-4 7-20 23-139 7-25 4-5 3 0 7 16 26 155 7 21 3 4 4-13 3-31 24-261 10-67 3-11 3-5 4 1 3 8 10 58 27 294 3 28 4 1 3-5 7-21 23-115 7-16 3-3 4 2 3 7 7 23 23 115 7 15 3 1 30-294 10-53 4-8 3-2 3 4 4 10 10 59 23 240 7 48 3-3 7-15 27-110 6-11 4 0 3 3 7 17 23 101 7 17 3 4 4-10 3-28 24-226 10-57 6-14 4 1 3 6 10 46 10 83 17 170 3 29 4 4 3-3 7-16 23-82 7-12 3-1 3 1 7 10 27 94 7 13 3 2 30-251 10-45 4-7 3-2 3 3 4 7 10 47 30 252 3-2 7-10 27-73 6-8 4 0 3 2 7 10 23 68 10 17 4-7 26-214 10-46 7-12 4 0 3 4 10 36 10 66 20 170 3 8 10-14 24-55 7-8 3-2 7 3 6 10 24 58 7 10 3 2 30-219 10-38 3-6 4-2 3 2 7 14 10 48 27 205 3-2 7-8 23-51 7-8 7-3 6 4 7 10 20 45 7 12 3 3 4-5 26-196 10-41 7-12 3 0 7 10 10 39 10 64 17 133 3 12 10-12 24-45 10-8 7 2 6 7 24 47 10 12 27-185 10-43 6-14 4-2 3 1 7 12 10 40 10 63 17 130 3 0 10-12 20-36 7-7 7-2 6 3 7 7 27 47 3 4 3-3 17-123 10-59 10-37 7-11 3-1 4 3 6 14 10 42 27 179 10-10 24-36 6-5 7-1 7 3 7 8 20 33 10 11 27-171 10-39 6-13 4-2 3 0 7 10 10 36 10 56 17 121 3 4 10-12 20-31 7-7 6-2 7 3 7 6 23 38 7 7 3 1 17-117 10-54 10-35 7-10 3-1 4 2 6 12 10 37 27 169 10-9 24-36 6-6 7-1 7 3 7 7 20 33 10 12 3-11 13-92 10-55 11-36 6-13 4-2 3 0 7 9 10 31 13 71 13 93 4 7 7-6 23-37 7-6 6-2 7 2 7 6 23 37 10 10 14-89 13-70 10-32 7-9 3-2 4 2 6 10 10 33 10 50 17 110 10-10 24-36 6-5 7-2 7 3 6 7 24 37 7 8 3-8 13-87 10-51 10-34 7-12 3-2 4 0 7 7 10 27 10 45 16 105 4 10 6-7 24-35 7-7 6-2 7 1 7 5 27 40 6 6 24-136 10-36 10-17 6-1 11 16 6 21 10 46"/>
<path d="M1071 3393h0m57-28h0m56 158h0m57-160h0m57 88h0m56-34h0m57-103h0m56 114h0m57-18h0m57-77h0m56 81h0m57 45h0m57-30h0m56-80h0m57 108h0m57-71h0m56-50h0m57 90h0m57-26h0m56 10h0m57-37h0m56-46h0m57 113h0m57-129h0m56 141h0m57-42h0m57-121h0m56 126h0m57-14h0m57-85h0m56 49h0m57-47h0m56 33h0m57-65h0m57 131h0m56-18h0m57-159h0m57 170h0m56-6h0m57-163h0m57 209h0m56-127h0m57-3h0m57-61h0m56 3h0m57 53h0m56-175h0m57 181h0m57 20h0m56-259h0m57 262h0m57-36h0m56-206h0m57 230h0m57-214h0m56 150h0m57-180h0m56 81h0m57 135h0m57-415h0m56 376h0m57-168h0m57-338h0m56 521h0m57-352h0m57 19h0m56 83h0m57-195h0m57 414h0m56-602h0m57 406h0m56 171h0m57-514h0m57 506h0m56-125h0m57-203h0m57 288h0m56-243h0m57 267h0m57-248h0m56 183h0m57 244h0m56-462h0m57 418h0m57-48h0m56-181h0m57 287h0m57-177h0m56-32h0m57 17h0m57 32h0m56 111h0m57-190h0m57 128h0m56 64h0m57-192h0m56 251h0m57 28h0m57-247h0m56 159h0m57-23h0m57 58h0m56-151h0m57 139h0m57 24h0m56-119h0m57 144h0m56-15h0m57-118h0m57 121h0m56-9h0m57-79h0m57 55h0m56 29h0m57 6h0m57-56h0m56 122h0m57-23h0m57-106h0m56 89h0m57-59h0m56-66h0m57 89h0m57 0h0m56-51h0m57-9h0m57 137h0m56-4h0m57-116h0m57 10h0m56 78h0m57-61h0m56 95h0m57-14h0m57-89h0m56 29h0m57 43h0m57 4h0m56-37h0m57 6h0m57 60h0m56-101h0" stroke="#0000ff" stroke-opacity="0.410" stroke-width="52.0" stroke-linecap="round" fill="none"/>
<path d="M1076 3375h0m56 100h0m57-36h0m57-54h0m56 61h0m57-26h0m57-71h0m56 140h0m57-88h0m56-56h0m57 73h0m57 20h0m56 4h0m57-104h0m57 9h0m56 110h0m57-133h0m57 128h0m56-54h0m57-28h0m57 59h0m56 1h0m57-46h0m56-69h0m57 129h0m57-28h0m56-120h0m57 89h0m57 39h0m56-134h0m57 40h0m57 14h0m56 12h0m57-56h0m56 51h0m57 27h0m57-102h0m56 68h0m57 8h0m57-145h0m56 257h0m57-189h0m57-74h0m56 167h0m57-164h0m57 91h0m56-76h0m57 42h0m56 66h0m57-311h0m57 272h0m56 46h0m57-301h0m57 335h0m56-201h0m57-5h0m57-50h0m56 33h0m57 161h0m56-436h0m57 332h0m57 6h0m56-407h0m57 522h0m57-283h0m56-257h0m57 331h0m57-306h0m56 295h0m57-415h0m57 290h0m56 199h0m57-587h0m56 646h0m57-127h0m57-257h0m56 446h0m57-461h0m57 293h0m56-106h0m57-21h0m57 355h0m56-373h0m57 301h0m56 38h0m57-330h0m57 376h0m56-167h0m57-60h0m57 115h0m56-34h0m57 115h0m57-133h0m56 97h0m57 96h0m57-222h0m56 161h0m57 37h0m56-169h0m57 168h0m57-50h0m56-7h0m57-12h0m57-2h0m56 117h0m57-175h0m57 156h0m56 9h0m57-138h0m56 163h0m57-21h0m57-101h0m56 9h0m57 71h0m57 34h0m56-147h0m57 152h0m57-23h0m56-88h0m57 70h0m57 15h0m56-36h0m57 15h0m56 48h0m57-48h0m57-42h0m56 53h0m57 28h0m57-98h0m56 136h0m57-28h0m57-114h0m56 157h0m57-64h0m56-58h0m57 59h0m57 43h0m56-17h0m57-15h0m57 62h0m56-20h0m57-79h0" stroke="#0000ff" stroke-opacity="0.410" stroke-width="52.0" stroke-linecap="round" fill="none"/>
<path d="M1080 3401h0m57 3h0m57 71h0m56-133h0m57 112h0m57-55h0m56-57h0m57 96h0m57-3h0m56-88h0m57 11h0m56 59h0m57 13h0m57-142h0m56 137h0m57 60h0m57-145h0m56 57h0m57 26h0m57-126h0m56 133h0m57-21h0m57-19h0m56-45h0m57 57h0m56 22h0m57-203h0m57 190h0m56-14h0m57-154h0m57 152h0m56-11h0m57-94h0m57-2h0m56 82h0m57 30h0m56-109h0m57 57h0m57 62h0m56-253h0m57 257h0m57-66h0m56-171h0m57 217h0m57-106h0m56 48h0m57-105h0m57 25h0m56 85h0m57-306h0m56 269h0m57 36h0m57-339h0m56 341h0m57-212h0m57 4h0m56 43h0m57-126h0m57 208h0m56-322h0m57 190h0m56 118h0m57-464h0m57 529h0m56-219h0m57-295h0m57 482h0m56-384h0m57 76h0m57-116h0m56 28h0m57 385h0m57-579h0m56 495h0m57-84h0m56-318h0m57 487h0m57-268h0m56 90h0m57 71h0m57-106h0m56 277h0m57-274h0m57 153h0m56 99h0m57-297h0m56 361h0m57-56h0m57-259h0m56 254h0m57-77h0m57 27h0m56-73h0m57 65h0m57 91h0m56-216h0m57 209h0m57 47h0m56-115h0m57 140h0m56-51h0m57 5h0m57-16h0m56 7h0m57 9h0m57-141h0m56 160h0m57 51h0m57-215h0m56 127h0m57 43h0m56-99h0m57 112h0m57-2h0m56-42h0m57-27h0m57 93h0m56-16h0m57-101h0m57 137h0m56-55h0m57-120h0m57 157h0m56 7h0m57-118h0m56 158h0m57-61h0m57 25h0m56-112h0m57 94h0m57 51h0m56-137h0m57 105h0m57 23h0m56-88h0m57 19h0m56 30h0m57 39h0m57-88h0m56 33h0m57 94h0m57-175h0" stroke="#0000ff" stroke-opacity="0.410" stroke-width="52.0" stroke-linecap="round" fill="none"/>
<path d="M1085 3466h0m57-71h0m56 32h0m57-74h0m57 58h0m56-4h0m57-66h0m57 84h0m56 2h0m57-72h0m57 58h0m56-18h0m57-46h0m56 38h0m57 23h0m57 12h0m56-111h0m57 176h0m57-79h0m56-62h0m57 63h0m57-43h0m56-20h0m57-6h0m57 35h0m56 44h0m57-100h0m56 93h0m57 28h0m57-125h0m56 86h0m57-42h0m57-44h0m56 44h0m57-50h0m57 11h0m56-118h0m57 106h0m56 87h0m57-195h0m57 139h0m56 16h0m57-109h0m57 167h0m56-139h0m57-24h0m57 36h0m56-32h0m57 120h0m57-289h0m56 265h0m57-69h0m56-265h0m57 400h0m57-199h0m56-209h0m57 194h0m57-136h0m56 155h0m57-262h0m57 155h0m56 239h0m57-600h0m56 468h0m57-133h0m57-345h0m56 479h0m57-364h0m57 102h0m56 48h0m57-195h0m57 434h0m56-516h0m57 356h0m57 150h0m56-457h0m57 560h0m56-270h0m57-40h0m57 195h0m56-156h0m57 156h0m57-149h0m56 165h0m57 97h0m57-305h0m56 298h0m57-87h0m56-66h0m57 174h0m57-76h0m56-21h0m57 54h0m57-60h0m56 88h0m57-183h0m57 197h0m56 31h0m57-200h0m57 230h0m56-99h0m57-28h0m56 94h0m57-70h0m57 67h0m56-99h0m57 85h0m57 31h0m56-132h0m57 133h0m57-37h0m56-32h0m57 48h0m56 56h0m57-76h0m57-13h0m56 41h0m57 91h0m57-151h0m56 84h0m57-18h0m57-113h0m56 137h0m57 10h0m57-105h0m56 73h0m57 39h0m56 20h0m57-64h0m57 12h0m56 23h0m57-71h0m57 96h0m56-6h0m57-69h0m57 53h0m56 16h0m57-48h0m56-23h0m57 56h0m57-32h0m56-19h0" stroke="#0000ff" stroke-opacity="0.410" stroke-width="52.0" stroke-linecap="round" fill="none"/>
<path d="M1090 3401h0m57 80h0m56-67h0m57-58h0m56 84h0m57 18h0m57-134h0m56 116h0m57-77h0m57 2h0m56 53h0m57 7h0m57-37h0m56-71h0m57 129h0m56 23h0m57-181h0m57 131h0m56 1h0m57-98h0m57 129h0m56-46h0m57-93h0m57 72h0m56-7h0m57-2h0m57-60h0m56 75h0m57 4h0m56-158h0m57 125h0m57 0h0m56-118h0m57 106h0m57 12h0m56 34h0m57-26h0m57-81h0m56 109h0m57-215h0m56 159h0m57 44h0m57-248h0m56 241h0m57-136h0m57-32h0m56 117h0m57-117h0m57 162h0m56-247h0m57 174h0m57 98h0m56-385h0m57 346h0m56-104h0m57-261h0m57 350h0m56-212h0m57-52h0m57-50h0m56 77h0m57 200h0m57-511h0m56 385h0m57-40h0m56-387h0m57 479h0m57-390h0m56-26h0m57 178h0m57-170h0m56 405h0m57-411h0m57 213h0m56 293h0m57-591h0m57 501h0m56-68h0m57-260h0m56 317h0m57-139h0m57 74h0m56-69h0m57 87h0m57 136h0m56-288h0m57 278h0m57 28h0m56-236h0m57 308h0m56-192h0m57 21h0m57 68h0m56-72h0m57 141h0m57-208h0m56 183h0m57 36h0m57-174h0m56 185h0m57-12h0m57-107h0m56 146h0m57-69h0m56-22h0m57 32h0m57 1h0m56 49h0m57-160h0m57 164h0m56-25h0m57-77h0m57 67h0m56-29h0m57-16h0m56 63h0m57 27h0m57 18h0m56-96h0m57 67h0m57-13h0m56-71h0m57 90h0m57-39h0m56-38h0m57 128h0m57-33h0m56-19h0m57-54h0m56 53h0m57-22h0m57-21h0m56 111h0m57-35h0m57-106h0m56 80h0m57-45h0m57-16h0m56-15h0m57 91h0m56-38h0m57-42h0" stroke="#0000ff" stroke-opacity="0.410" stroke-width="52.0" stroke-linecap="round" fill="none"/>
<path d="M1095 3411h0m56 63h0m57-27h0m57-56h0m56 51h0m57 7h0m56-120h0m57 141h0m57-46h0m56-79h0m57 61h0m57 13h0m56-24h0m57 15h0m57 15h0m56 7h0m57-60h0m56-22h0m57 33h0m57-84h0m56 101h0m57 29h0m57-140h0m56 105h0m57-33h0m57 6h0m56-51h0m57 44h0m57 75h0m56-225h0m57 233h0m56-16h0m57-180h0m57 211h0m56-120h0m57 23h0m57-36h0m56 13h0m57-5h0m57-133h0m56 146h0m57 47h0m56-250h0m57 247h0m57-63h0m56-171h0m57 146h0m57-71h0m56 57h0m57-85h0m57 93h0m56 18h0m57-281h0m57 326h0m56-149h0m57-203h0m56 306h0m57-189h0m57-105h0m56 18h0m57-84h0m57 366h0m56-518h0m57 277h0m57 179h0m56-652h0m57 670h0m56-334h0m57-125h0m57 299h0m56-393h0m57 451h0m57-354h0m56 175h0m57 239h0m57-484h0m56 501h0m57-107h0m57-286h0m56 396h0m57-200h0m56 86h0m57 55h0m57 34h0m56 79h0m57-256h0m57 150h0m56 84h0m57-246h0m57 345h0m56-79h0m57-198h0m56 227h0m57-149h0m57 89h0m56-66h0m57 99h0m57 54h0m56-162h0m57 214h0m57-78h0m56-117h0m57 144h0m57 14h0m56-25h0m57-25h0m56 50h0m57 81h0m57-208h0m56 143h0m57 51h0m57-142h0m56 136h0m57 29h0m57-183h0m56 103h0m57 0h0m56 36h0m57-110h0m57 117h0m56-24h0m57-74h0m57 76h0m56 6h0m57-105h0m57 120h0m56-108h0m57 69h0m57-13h0m56 22h0m57-14h0m56-45h0m57 108h0m57-25h0m56-106h0m57 176h0m57-20h0m56-87h0m57 34h0m57 18h0m56-34h0" stroke="#0000ff" stroke-opacity="0.410" stroke-width="52.0" stroke-linecap="round" fill="none"/>
<path d="M1099 3471h0m57-64h0m57-65h0m56 7h0m57 95h0m57 35h0m56-83h0m57 57h0m56-45h0m57-90h0m57 84h0m56-13h0m57-49h0m57 63h0m56 45h0m57-74h0m57-62h0m56 110h0m57-14h0m56-139h0m57 142h0m57 38h0m56-111h0m57 119h0m57-107h0m56-6h0m57 31h0m57-2h0m56 16h0m57-129h0m57 169h0m56-38h0m57-171h0m56 163h0m57-10h0m57-51h0m56-23h0m57 71h0m57 16h0m56-136h0m57 76h0m57 21h0m56-162h0m57 153h0m56 15h0m57-191h0m57 214h0m56-151h0m57 23h0m57-59h0m56 58h0m57 66h0m57-277h0m56 272h0m57-41h0m57-313h0m56 400h0m57-230h0m56-112h0m57 145h0m57-153h0m56 175h0m57-348h0m57 160h0m56 283h0m57-620h0m57 555h0m56-147h0m57-306h0m56 436h0m57-339h0m57 187h0m56-82h0m57-28h0m57 343h0m56-521h0m57 406h0m57 138h0m56-456h0m57 538h0m57-278h0m56 17h0m57 133h0m56-65h0m57 132h0m57-258h0m56 264h0m57 17h0m57-220h0m56 208h0m57-49h0m57-116h0m56 225h0m57-109h0m56-50h0m57 56h0m57-3h0m56 92h0m57-203h0m57 240h0m56 32h0m57-246h0m57 214h0m56-68h0m57-46h0m57 25h0m56 41h0m57 23h0m56-60h0m57 38h0m57 62h0m56-151h0m57 151h0m57-4h0m56-125h0m57 103h0m57 24h0m56-10h0m57-89h0m56 87h0m57 48h0m57-136h0m56 96h0m57 9h0m57-97h0m56 132h0m57-35h0m57-89h0m56 69h0m57 2h0m57-30h0m56-8h0m57 39h0m56 105h0m57-171h0m57 80h0m56 60h0m57-152h0m57 104h0m56-64h0m57 24h0" stroke="#0000ff" stroke-opacity="0.410" stroke-width="52.0" stroke-linecap="round" fill="none"/>
<path d="M1104 3432h0m57 8h0m56-91h0m57 45h0m57 10h0m56-29h0m57-51h0m57 139h0m56-13h0m57-93h0m56 94h0m57-71h0m57-91h0m56 99h0m57-7h0m57 26h0m56-16h0m57 16h0m57 32h0m56-129h0m57 99h0m56-10h0m57-136h0m57 162h0m56-48h0m57-52h0m57 32h0m56 2h0m57-2h0m57-84h0m56 125h0m57-12h0m57-135h0m56 162h0m57-65h0m56-76h0m57 85h0m57-47h0m56 33h0m57-29h0m57-23h0m56 108h0m57-259h0m57 236h0m56 4h0m57-223h0m56 204h0m57-132h0m57-67h0m56 87h0m57-64h0m57 151h0m56-220h0m57 128h0m57 69h0m56-326h0m57 321h0m57-201h0m56-121h0m57 259h0m56-249h0m57 143h0m57-208h0m56 129h0m57 211h0m57-697h0m56 565h0m57-46h0m57-496h0m56 657h0m57-378h0m56 59h0m57 92h0m57-112h0m56 381h0m57-449h0m57 262h0m56 195h0m57-473h0m57 493h0m56-118h0m57-208h0m57 332h0m56-205h0m57 129h0m56-96h0m57 38h0m57 124h0m56-228h0m57 240h0m57 4h0m56-195h0m57 235h0m57-103h0m56-33h0m57 56h0m56-20h0m57 105h0m57-175h0m56 109h0m57 111h0m57-178h0m56 99h0m57 40h0m57-119h0m56 119h0m57-34h0m57 45h0m56-136h0m57 90h0m56 38h0m57-107h0m57 127h0m56-18h0m57-130h0m57 175h0m56-104h0m57 41h0m57-27h0m56 102h0m57-43h0m56-106h0m57 145h0m57 9h0m56-104h0m57 83h0m57 41h0m56-135h0m57 56h0m57-1h0m56 38h0m57-94h0m57 122h0m56 50h0m57-173h0m56 119h0m57-13h0m57-80h0m56 117h0m57-98h0m57 24h0" stroke="#0000ff" stroke-opacity="0.410" stroke-width="52.0" stroke-linecap="round" fill="none"/>
<path d="M1109 3470h0m56-53h0m57-71h0m57 149h0m56-60h0m57-40h0m57-14h0m56 35h0m57 23h0m57-131h0m56 85h0m57 9h0m56-70h0m57 80h0m57 7h0m56-78h0m57 51h0m57-8h0m56 112h0m57-177h0m57 74h0m56-3h0m57-81h0m56 140h0m57-52h0m57-63h0m56-6h0m57 110h0m57-1h0m56-132h0m57 93h0m57 8h0m56-112h0m57 108h0m57-55h0m56-108h0m57 185h0m56-154h0m57 78h0m57-90h0m56 58h0m57 102h0m57-183h0m56 143h0m57-33h0m57-207h0m56 274h0m57-136h0m56-100h0m57 109h0m57-100h0m56 103h0m57-191h0m57 96h0m56 116h0m57-366h0m57 331h0m56-105h0m57-345h0m57 432h0m56-246h0m57 36h0m56-34h0m57-87h0m57 416h0m56-654h0m57 357h0m57 209h0m56-671h0m57 580h0m57-247h0m56-62h0m57 353h0m56-352h0m57 297h0m57-208h0m56 146h0m57 199h0m57-422h0m56 408h0m57-72h0m57-139h0m56 305h0m57-248h0m57 84h0m56-6h0m57 0h0m56 144h0m57-315h0m57 224h0m56 137h0m57-228h0m57 242h0m56-103h0m57-39h0m57 35h0m56 14h0m57 40h0m56-98h0m57 103h0m57 13h0m56-197h0m57 234h0m57-65h0m56-49h0m57 77h0m57 50h0m56-126h0m57 21h0m57 52h0m56 72h0m57-147h0m56 143h0m57 23h0m57-178h0m56 147h0m57-39h0m57-19h0m56 25h0m57 27h0m57-2h0m56-65h0m57 72h0m56-15h0m57-74h0m57 59h0m56 59h0m57-97h0m57 43h0m56-18h0m57-36h0m57 0h0m56 105h0m57 32h0m57-123h0m56 101h0m57-20h0m56-124h0m57 104h0m57-44h0m56 20h0" stroke="#0000ff" stroke-opacity="0.410" stroke-width="52.0" stroke-linecap="round" fill="none"/>
<path d="M1113 3473h0m57-75h0m57 0h0m56 50h0m57 22h0m57-117h0m56 37h0m57 5h0m57 97h0m56-124h0m57 49h0m57-25h0m56-99h0m57 135h0m56-31h0m57-25h0m57 64h0m56-9h0m57-44h0m57-41h0m56 50h0m57-9h0m57-59h0m56 109h0m57-1h0m56-98h0m57 40h0m57-30h0m56 1h0m57 13h0m57-7h0m56 15h0m57-166h0m57 188h0m56 14h0m57-171h0m57 173h0m56-91h0m57-61h0m56 62h0m57-27h0m57 175h0m56-221h0m57 91h0m57 21h0m56-173h0m57 179h0m57-54h0m56-168h0m57 214h0m56-127h0m57 36h0m57-113h0m56-12h0m57 176h0m57-371h0m56 287h0m57-8h0m57-333h0m56 438h0m57-256h0m57-97h0m56 130h0m57-285h0m56 409h0m57-472h0m57 245h0m56 237h0m57-655h0m57 641h0m56-171h0m57-320h0m57 436h0m56-311h0m57 285h0m56-123h0m57 1h0m57 341h0m56-508h0m57 352h0m57 99h0m56-270h0m57 280h0m57-95h0m56-13h0m57 43h0m57-20h0m56 66h0m57-215h0m56 228h0m57 6h0m57-168h0m56 255h0m57 37h0m57-286h0m56 220h0m57-84h0m57-25h0m56-23h0m57 98h0m56 73h0m57-162h0m57 217h0m56-106h0m57-90h0m57 127h0m56 0h0m57-59h0m57-11h0m56 17h0m57 62h0m57-154h0m56 180h0m57-28h0m56-73h0m57 157h0m57-138h0m56 20h0m57-23h0m57 116h0m56-43h0m57-33h0m57 30h0m56 13h0m57-72h0m56 123h0m57-40h0m57-101h0m56 70h0m57 18h0m57-29h0m56 37h0m57-61h0m57 26h0m56-25h0m57 83h0m57-18h0m56-91h0m57 86h0m56 32h0m57-109h0" stroke="#0000ff" stroke-opacity="0.410" stroke-width="52.0" stroke-linecap="round" fill="none"/>
<path d="M1118 3440h0m57 6h0m56-77h0m57 78h0m57-44h0m56-13h0m57-52h0m57 49h0m56 42h0m57-31h0m57 26h0m56 21h0m57-106h0m57 144h0m56-46h0m57-141h0m56 43h0m57 63h0m57-39h0m56-73h0m57 137h0m57-2h0m56-124h0m57 117h0m57 17h0m56-156h0m57 123h0m56-90h0m57 42h0m57-27h0m56 50h0m57-13h0m57-93h0m56 96h0m57 29h0m57-172h0m56 147h0m57-33h0m57-80h0m56 59h0m57-23h0m56 50h0m57-69h0m57 20h0m56 89h0m57-261h0m57 282h0m56-100h0m57-228h0m57 286h0m56-158h0m57-14h0m56 42h0m57-109h0m57 251h0m56-396h0m57 253h0m57 118h0m56-550h0m57 515h0m57-195h0m56-205h0m57 233h0m57-299h0m56 217h0m57-160h0m56-49h0m57 375h0m57-625h0m56 547h0m57-95h0m57-267h0m56 466h0m57-337h0m57 149h0m56-13h0m57-22h0m56 204h0m57-284h0m57 283h0m56 78h0m57-398h0m57 402h0m56-87h0m57-86h0m57 71h0m56-14h0m57 87h0m57-98h0m56 165h0m57 102h0m56-361h0m57 197h0m57 86h0m56-197h0m57 100h0m57-7h0m56 33h0m57-30h0m57 51h0m56 86h0m57-112h0m56 46h0m57 44h0m57-131h0m56 134h0m57 3h0m57-86h0m56 85h0m57-67h0m57 37h0m56-93h0m57 129h0m57-21h0m56-99h0m57 92h0m56 62h0m57-129h0m57 60h0m56-35h0m57 63h0m57-43h0m56 17h0m57 58h0m57-112h0m56 99h0m57 25h0m56-115h0m57 117h0m57-30h0m56-49h0m57 56h0m57-42h0m56 37h0m57-20h0m57-5h0m56 31h0m57-34h0m57 70h0m56-5h0m57-65h0" stroke="#0000ff" stroke-opacity="0.410" stroke-width="52.0" stroke-linecap="round" fill="none"/>
<path d="M1123 3456h0m57 14h0m56-101h0m57 47h0m56 29h0m57-16h0m57-53h0m56 62h0m57-62h0m57 8h0m56 23h0m57 38h0m57-105h0m56 80h0m57 15h0m57-145h0m56 127h0m57-42h0m56 19h0m57-73h0m57 87h0m56-11h0m57-52h0m57 58h0m56 24h0m57-153h0m57 130h0m56-57h0m57 9h0m56-3h0m57-41h0m57 92h0m56-166h0m57 78h0m57 134h0m56-253h0m57 155h0m57-73h0m56-71h0m57 236h0m57-69h0m56-18h0m57-63h0m56 20h0m57 66h0m57-224h0m56 187h0m57 9h0m57-250h0m56 269h0m57-111h0m57-140h0m56 52h0m57-74h0m56 185h0m57-184h0m57 61h0m56 152h0m57-542h0m57 421h0m56-64h0m57-240h0m57 434h0m56-480h0m57 111h0m57-87h0m56 3h0m57 366h0m56-602h0m57 548h0m57-51h0m56-426h0m57 556h0m57-360h0m56 47h0m57 125h0m57-93h0m56 225h0m57-255h0m56 192h0m57 223h0m57-445h0m56 445h0m57-154h0m57-169h0m56 255h0m57-73h0m57 58h0m56-130h0m57 118h0m57 138h0m56-291h0m57 201h0m56 35h0m57-173h0m57 220h0m56-107h0m57-39h0m57 70h0m56 0h0m57 39h0m57-28h0m56 48h0m57 5h0m56-162h0m57 192h0m57-24h0m56-105h0m57 86h0m57 42h0m56-1h0m57-59h0m57 11h0m56 85h0m57-166h0m57 162h0m56-50h0m57-105h0m56 151h0m57-81h0m57-23h0m56 105h0m57-82h0m57 48h0m56-67h0m57 81h0m57 14h0m56-164h0m57 158h0m56-5h0m57-125h0m57 132h0m56 34h0m57-18h0m57-76h0m56 27h0m57-14h0m57-7h0m56 38h0m57-6h0m57-83h0" stroke="#0000ff" stroke-opacity="0.410" stroke-width="52.0" stroke-linecap="round" fill="none"/>
</g></g>
<g clip-path="url(#c3)">
<g transform="scale(0.1)">
<path fill="none" stroke="#ff0000" stroke-width="28.0" stroke-linejoin="round" stroke-linecap="round" d="M1052 4651l10 9 24 36 10 9 10 0 23-13 10 2 10 13 27 51 7 6 6-1 21-145 13-76 10-30 3-5 7 0 10 8 10 24 10 43 10 59 7-2 7-4 20-20 10-3 7 2 6 7 24 38 6 7 7 4 10-2 27-24 10 0 10 9 24 38 10 10 10 0 20-14 6-2 11 4 10 14 23 48 7 7 6 1 31-232 10-47 3-8 7-7 10 8 10 23 10 45 13 93 4 4 10-6 20-23 10-5 6 3 7 6 24 39 6 9 7 4 7 0 6-5 24-26 10-2 7 5 6 9 24 41 10 8 10-2 23-21 7 0 3 2 10 14 24 53 7 8 6 2 4-15 26-244 11-56 3-11 7-9 6 5 4 5 10 30 10 54 13 108 4 14 10-7 20-29 10-8 6 1 7 7 27 51 10 11 3 0 7-3 27-37 7-4 3 1 10 8 23 48 7 10 7 6 3 0 7-3 23-28 7-2 7 4 10 17 20 52 7 11 6 4 4-5 16-185 14-120 6-40 4-13 7-13 6 5 7 15 10 45 23 194 10-7 24-40 7-6 3-1 3 1 7 7 27 58 7 10 6 4 4-1 6-6 24-41 6-5 7 0 10 13 24 55 10 12 3 1 7-3 27-40 6-2 4 2 10 17 23 68 7 10 3 2 4-1 20-243 10-101 10-63 3-11 3-4 4-1 6 11 4 11 10 55 10 87 13 151 7-4 7-11 23-58 7-6 3 0 7 7 7 15 23 71 7 10 3 2 4-1 10-16 20-58 6-11 4-2 3 0 3 3 7 13 27 87 7 10 3 2 3-2 7-10 23-66 7-8 4 0 6 9 7 19 23 91 7 13 3 1 4-25 27-350 10-75 3-13 3-7 4-2 6 13 4 13 10 66 10 102 13 171 4 11 3-4 7-16 23-87 7-12 3-1 7 6 7 19 23 98 7 14 3 3 3-1 4-4 6-17 24-95 7-12 3-1 7 8 6 21 24 103 7 14 3 2 3-1 7-14 23-97 7-16 3-3 4 1 7 13 26 126 7 19 3 3 4-11 20-300 10-116 10-67 3-9 4-3 6 14 4 16 10 76 23 308 4 25 3-4 7-19 23-117 7-19 3-4 3 1 4 5 6 21 21 108 6 27 7 13 3 0 4-5 6-21 24-124 7-19 3-4 3 2 4 5 6 24 24 129 6 20 4 4 3-1 4-6 6-24 24-128 6-18 4-2 3 3 3 7 7 28 24 136 6 18 4 1 26-417 10-97 4-19 3-12 4-4 3 3 7 28 10 88 26 392 4-4 7-21 26-164 7-17 3-1 4 4 6 23 27 167 7 18 3 1 4-4 10-44 20-138 6-27 4-6 3 0 4 5 6 26 24 160 6 27 4 5 3 0 3-5 7-28 24-167 6-27 4-5 3 0 7 19 27 184 6 26 4 4 3-34 27-469 10-96 3-16 3-6 4 2 7 29 10 104 26 467 4 4 6-24 24-183 7-37 3-10 3-4 4 3 3 10 7 35 23 183 7 24 3 3 4-3 10-50 23-192 7-25 3-3 3 4 7 28 27 211 7 24 3 2 3-6 7-30 27-224 7-24 3-2 3 6 7 31 23 200 7 35 3 8 4-19 20-430 10-172 10-94 3-12 4 0 6 31 10 121 27 550 4 20 3-9 7-39 23-225 7-36 3-7 4 1 3 9 7 40 23 222 7 34 3 6 3-2 4-11 7-44 23-238 7-36 3-6 3 3 4 11 6 45 24 235 7 34 3 5 3-5 4-12 6-49 24-252 6-35 4-4 3 4 4 14 6 49 24 249 6 32 4 0 30-659 10-116 3-16 4-4 3 9 3 20 10 129 27 602 4 38 3-7 7-38 26-276 7-28 3-1 4 8 7 40 23 253 7 44 3 9 3 1 4-8 6-40 24-236 7-39 3-8 3 1 4 9 6 41 20 210 10 67 4 8 3-1 7-25 27-246 6-34 4-6 3 2 7 27 27 249 6 33 4 6 30-591 10-110 3-17 4-6 3 5 3 15 10 105 30 604 4-3 3-11 7-39 23-199 7-26 3-3 4 4 6 30 24 202 7 38 3 9 3 3 4-5 6-28 24-191 7-35 3-8 3-2 4 6 6 30 24 194 6 34 4 8 3 1 7-17 7-40 20-161 6-32 4-7 3 0 3 6 7 31 24 184 6 31 4 6 3-25 27-464 10-95 6-23 4 1 3 10 10 82 10 145 20 370 4 12 3-7 7-30 23-166 7-26 3-4 4 2 6 21 24 164 7 34 3 10 3 3 4-2 6-21 24-158 6-32 4-8 3-4 3 3 7 21 24 156 6 30 4 8 3 2 3-3 7-22 24-150 6-29 4-8 3-2 3 4 7 21 23 148 7 27 4 6 3-9 17-265 10-130 10-82 6-22 4 0 6 21 11 86 26 414 4 27 3-3 7-22 27-151 6-16 4-1 3 4 7 21 23 129 7 21 3 4 3-1 7-15 27-143 7-20 3-4 3 0 4 5 6 22 21 109 10 33 3 3 3-1 7-16 27-136 7-19 3-3 3 1 7 15 23 115 7 23 3 7 4 2 17-233 10-112 10-71 6-21 4 0 3 4 7 30 10 92 27 378 3-1 7-14 26-127 7-17 4-3 3 0 7 13 23 97 7 17 3 4 3 0 7-11 7-22 20-91 7-19 3-4 3-1 4 2 6 15 24 95 7 15 3 3 3-1 4-4 6-17 24-97 6-17 4-4 3 0 7 8 27 96 6 14 4 3 16-198 11-98 10-60 3-11 7-10 6 13 10 65 10 109 21 278 3 7 3-3 7-14 27-102 6-12 4-2 3 1 7 10 20 58 7 13 3 3 3 0 4-2 6-12 24-78 7-16 6-6 4 1 6 8 24 65 6 11 4 3 6-3 7-12 24-72 6-13 7-6 3 1 7 8 24 58 10 13 3-15 13-149 10-83 10-50 4-10 7-9 6 10 4 12 10 70 26 313 4 20 6-3 7-12 20-59 10-21 7-4 7 3 23 37 7 5 3 0 10-10 27-60 10-12 4 0 6 4 24 40 10 10 6-2 7-8 24-53 6-11 7-5 7 1 6 7 24 39 7 6 3-3 13-128 10-70 10-41 4-8 6-8 7 7 3 10 11 58 30 300 6-2 7-9 24-59 10-16 3-2 7 1 6 6 17 21 7 5 7-1 10-11 23-48 10-12 3-1 7 3 27 36 7 5 3 0 7-4 6-9 27-51 10-6 10 6 24 32 10 6 13-108 10-59 10-35 7-11 7-3 6 13 4 12 6 37 14 108 17 164 3 1 7-3 6-10 20-46 11-16 6-5 7 2 23 21 10 1 10-9 24-42 10-11 7-1 6 3 24 26 7 4 6 0 10-10 27-44 7-5 7-1 10 6 20 22 10 5 13-85 10-50 10-27 7-8 7-3 6 9 4 10 6 31 14 93 17 140 3 11 7-2 6-8 24-48 10-13 10-3 23 16 10 0 10-8 24-37 7-9 6-4 7 0 7 3 23 22 10 1 7-4 7-8 23-37 7-6 6-2 10 4 21 20 10 5 3-6 10-60 10-41 10-20 10-7 4 0 6 7 10 34 34 216 7-1 6-6 24-47 10-14 10-4 6 2 21 12 10-2 10-9 23-36 10-9 10 0 27 21 10 2 7-4 7-8 23-35 7-6 6-3 10 3 21 17 13 6 7-37 10-40 6-16 10-11 10-1 7 5 4 7 6 22 10 50"/>
<path d="M1071 4673h0m57 14h0m56 63h0m57-180h0m57 88h0m56 4h0m57-3h0m56 36h0m57 32h0m57-119h0m56-49h0m57 67h0m57 38h0m56 10h0m57 38h0m57-11h0m56-200h0m57 120h0m57-3h0m56 21h0m57 28h0m56-25h0m57-3h0m57-134h0m56 85h0m57 47h0m57-48h0m56 76h0m57 5h0m57-196h0m56 120h0m57-38h0m56 65h0m57-32h0m57-18h0m56 122h0m57-274h0m57 167h0m56 19h0m57-51h0m57 36h0m56 10h0m57-159h0m57 25h0m56 25h0m57 41h0m56-9h0m57-36h0m57 161h0m56-422h0m57 341h0m57-85h0m56-23h0m57 73h0m57-126h0m56 10h0m57-148h0m56 150h0m57 135h0m57-185h0m56 100h0m57-9h0m57-419h0m56 447h0m57-170h0m57 66h0m56 108h0m57-295h0m57 231h0m56-475h0m57 445h0m56 45h0m57-173h0m57 285h0m56-223h0m57-188h0m57 256h0m56-71h0m57 195h0m57-91h0m56 33h0m57 99h0m56-432h0m57 422h0m57 1h0m56-51h0m57 90h0m57-117h0m56-15h0m57-79h0m57 85h0m56 137h0m57-45h0m57-29h0m56-1h0m57-242h0m56 372h0m57-122h0m57 59h0m56 54h0m57-138h0m57 12h0m56-104h0m57 217h0m57-51h0m56-90h0m57 88h0m56 65h0m57-237h0m57 220h0m56-16h0m57 50h0m57-38h0m56-28h0m57 19h0m57-174h0m56 225h0m57-18h0m57 17h0m56 8h0m57-52h0m56-118h0m57 128h0m57 1h0m56-14h0m57 29h0m57 2h0m56 22h0m57-162h0m57 219h0m56-32h0m57 16h0m56-79h0m57 1h0m57-8h0m56-17h0m57 44h0m57 30h0m56-97h0m57 115h0m57-136h0m56 8h0" stroke="#0000ff" stroke-opacity="0.410" stroke-width="52.0" stroke-linecap="round" fill="none"/>
<path d="M1076 4651h0m56 0h0m57 82h0m57-178h0m56 102h0m57 16h0m57 6h0m56 26h0m57-30h0m56-28h0m57-70h0m57 44h0m56 30h0m57-19h0m57 44h0m56-14h0m57-166h0m57 138h0m56 3h0m57-3h0m57 40h0m56-36h0m57-41h0m56-65h0m57 22h0m57 102h0m56-32h0m57-58h0m57 128h0m56-250h0m57 183h0m57-42h0m56 35h0m57 20h0m56-56h0m57 41h0m57-278h0m56 225h0m57 29h0m57-50h0m56 60h0m57-55h0m57-153h0m56 108h0m57 11h0m57 12h0m56-5h0m57-38h0m56 61h0m57-278h0m57 289h0m56-102h0m57 20h0m57 125h0m56-185h0m57-14h0m57-92h0m56 119h0m57 135h0m56-224h0m57 136h0m57 40h0m56-510h0m57 494h0m57-130h0m56 46h0m57 62h0m57-225h0m56 100h0m57-423h0m57 344h0m56 232h0m57-207h0m56 187h0m57-83h0m57-278h0m56 334h0m57-133h0m57 207h0m56-30h0m57-74h0m57 123h0m56-360h0m57 303h0m56 26h0m57-39h0m57 118h0m56-179h0m57-46h0m57 151h0m56-56h0m57 82h0m57-29h0m56-41h0m57 98h0m57-302h0m56 418h0m57-195h0m56 90h0m57 13h0m57-79h0m56-59h0m57-45h0m57 191h0m56 43h0m57-132h0m57 86h0m56-60h0m57-81h0m56 261h0m57-90h0m57-30h0m56 67h0m57-102h0m57-23h0m56-37h0m57 163h0m57-31h0m56-32h0m57 24h0m57-31h0m56-124h0m57 163h0m56 11h0m57-27h0m57-36h0m56 89h0m57-36h0m57-156h0m56 266h0m57-73h0m57-30h0m56 52h0m57-113h0m56-103h0m57 197h0m57-4h0m56 36h0m57-100h0m57 43h0m56-39h0m57-17h0" stroke="#0000ff" stroke-opacity="0.410" stroke-width="52.0" stroke-linecap="round" fill="none"/>
<path d="M1080 4673h0m57 7h0m57 68h0m56-185h0m57 89h0m57 32h0m56-9h0m57 38h0m57 11h0m56-144h0m57 43h0m56 36h0m57-10h0m57 21h0m56-38h0m57 93h0m57-244h0m56 139h0m57 10h0m57 42h0m56 0h0m57-25h0m57-47h0m56-73h0m57 23h0m56 70h0m57-15h0m57 42h0m56 19h0m57-260h0m57 219h0m56-44h0m57-1h0m57 37h0m56-16h0m57-33h0m56-173h0m57 146h0m57 58h0m56-82h0m57 160h0m57-44h0m56-253h0m57 198h0m57-70h0m56 91h0m57-30h0m57-83h0m56 156h0m57-330h0m56 242h0m57 7h0m57-81h0m56 64h0m57-85h0m57-105h0m56 37h0m57 15h0m57 134h0m56-153h0m57 140h0m56 7h0m57-399h0m57 430h0m56-133h0m57-120h0m57 202h0m56-310h0m57-7h0m57-149h0m56 212h0m57 216h0m57-256h0m56 265h0m57-15h0m56-371h0m57 446h0m57-224h0m56 158h0m57 34h0m57-97h0m56 6h0m57-208h0m57 287h0m56 49h0m57-223h0m56 325h0m57-153h0m57-170h0m56 206h0m57-94h0m57 144h0m56-71h0m57 75h0m57-1h0m56-222h0m57 253h0m57-30h0m56 0h0m57 32h0m56-91h0m57 14h0m57-65h0m56 182h0m57-22h0m57-42h0m56 7h0m57-14h0m57-143h0m56 261h0m57-72h0m56-39h0m57 18h0m57-46h0m56-32h0m57-34h0m57 164h0m56 20h0m57-80h0m57 4h0m56-1h0m57-93h0m57 190h0m56 8h0m57-31h0m56-77h0m57-2h0m57 79h0m56-167h0m57 172h0m57 23h0m56-92h0m57 43h0m57-41h0m56-44h0m57 79h0m56 7h0m57 53h0m57-19h0m56-67h0m57 24h0m57-23h0" stroke="#0000ff" stroke-opacity="0.410" stroke-width="52.0" stroke-linecap="round" fill="none"/>
<path d="M1085 4677h0m57-16h0m56-15h0m57-129h0m57 125h0m56 36h0m57-38h0m57 14h0m56 42h0m57-149h0m57 85h0m56 67h0m57-30h0m56-10h0m57-9h0m57 60h0m56-227h0m57 167h0m57-4h0m56-32h0m57 71h0m57-6h0m56-117h0m57-18h0m57 40h0m56 64h0m57-38h0m56 21h0m57 84h0m57-312h0m56 155h0m57 28h0m57 26h0m56 21h0m57-52h0m57-37h0m56-47h0m57 83h0m56 83h0m57-171h0m57 106h0m56-34h0m57-258h0m57 313h0m56-145h0m57 86h0m57 15h0m56-142h0m57 156h0m57-251h0m56 143h0m57 84h0m56-144h0m57 131h0m57-124h0m56-149h0m57 194h0m57-173h0m56 194h0m57-26h0m57-99h0m56 200h0m57-550h0m56 502h0m57-110h0m57-127h0m56 230h0m57-321h0m57-101h0m56 94h0m57 23h0m57 253h0m56-145h0m57 161h0m57 5h0m56-413h0m57 468h0m56-85h0m57-88h0m57 162h0m56-128h0m57 28h0m57-136h0m56 205h0m57 90h0m57-142h0m56 78h0m57 33h0m56-263h0m57 279h0m57-91h0m56 57h0m57 43h0m57-87h0m56 139h0m57-297h0m57 266h0m56 52h0m57-117h0m57 50h0m56-49h0m57-105h0m56 117h0m57 21h0m57 92h0m56-66h0m57-1h0m57 35h0m56-170h0m57 231h0m57-12h0m56-81h0m57 19h0m56-34h0m57-26h0m57-4h0m56 102h0m57 41h0m57-71h0m56 71h0m57-82h0m57-166h0m56 269h0m57-67h0m57 34h0m56-27h0m57-31h0m56 6h0m57-91h0m57 148h0m56 9h0m57-31h0m57 35h0m56-100h0m57-69h0m57 169h0m56-11h0m57-22h0m56-5h0m57-33h0m57 21h0m56-44h0" stroke="#0000ff" stroke-opacity="0.410" stroke-width="52.0" stroke-linecap="round" fill="none"/>
<path d="M1090 4700h0m57-52h0m56 2h0m57-92h0m56 34h0m57 69h0m57 35h0m56-19h0m57-1h0m57-132h0m56 139h0m57-71h0m57 9h0m56 92h0m57-36h0m56 26h0m57-163h0m57 107h0m56-50h0m57 30h0m57 65h0m56 18h0m57-206h0m57 87h0m56-28h0m57 35h0m57 33h0m56 20h0m57 61h0m56-287h0m57 236h0m57-47h0m56-54h0m57 95h0m57-77h0m56-38h0m57-80h0m57 79h0m56 63h0m57-63h0m56 103h0m57-24h0m57-285h0m56 230h0m57-5h0m57-14h0m56 15h0m57-117h0m57 57h0m56-184h0m57 230h0m57 65h0m56-186h0m57 163h0m56-103h0m57-244h0m57 308h0m56-192h0m57 207h0m57-118h0m56-95h0m57 183h0m57-503h0m56 439h0m57-83h0m56-112h0m57 228h0m57-300h0m56-111h0m57 121h0m57 10h0m56 280h0m57-155h0m57-18h0m56 215h0m57-471h0m57 379h0m56-77h0m57 34h0m56 152h0m57-170h0m57-22h0m56-150h0m57 247h0m57 137h0m56-143h0m57 129h0m57-49h0m56-251h0m57 336h0m56-149h0m57 5h0m57 91h0m56-15h0m57-37h0m57-197h0m56 247h0m57 13h0m57-36h0m56 96h0m57-69h0m57-151h0m56 167h0m57 0h0m56 12h0m57 20h0m57-41h0m56 76h0m57-266h0m57 290h0m56-60h0m57-31h0m57 85h0m56-72h0m57-95h0m56 57h0m57 103h0m57-51h0m56 23h0m57-4h0m57-37h0m56-91h0m57 239h0m57-4h0m56-123h0m57 34h0m57-36h0m56-6h0m57-56h0m56 167h0m57-47h0m57-20h0m56 11h0m57-44h0m57-88h0m56 192h0m57-114h0m57 39h0m56 23h0m57-33h0m56 13h0m57-57h0" stroke="#0000ff" stroke-opacity="0.410" stroke-width="52.0" stroke-linecap="round" fill="none"/>
<path d="M1095 4690h0m56 19h0m57-119h0m57 29h0m56 42h0m57-29h0m56 48h0m57 3h0m57 20h0m56-138h0m57 75h0m57-45h0m56 37h0m57 0h0m57 19h0m56 24h0m57-191h0m56 125h0m57 53h0m57-72h0m56 79h0m57-8h0m57-155h0m56 90h0m57-45h0m57 49h0m56 25h0m57-35h0m57 76h0m56-216h0m57 139h0m56 4h0m57 14h0m57 51h0m56-32h0m57-168h0m57 63h0m56 17h0m57 97h0m57-57h0m56-68h0m57 152h0m56-271h0m57 194h0m57-95h0m56 44h0m57 60h0m57-126h0m56 57h0m57-208h0m57 131h0m56 133h0m57-105h0m57 21h0m56-25h0m57-174h0m56 216h0m57-52h0m57 89h0m56-22h0m57-180h0m57 160h0m56-454h0m57 358h0m57 80h0m56-252h0m57 258h0m56-242h0m57-325h0m57 459h0m56-212h0m57 268h0m57-39h0m56 31h0m57 82h0m57-398h0m56 389h0m57-50h0m57-47h0m56 140h0m57-142h0m56-46h0m57-14h0m57 92h0m56 154h0m57-142h0m57 76h0m56-4h0m57-251h0m57 287h0m56-32h0m57-20h0m56 92h0m57-136h0m57 65h0m56-209h0m57 221h0m57 38h0m56-28h0m57 65h0m57-47h0m56-166h0m57 221h0m57-35h0m56 40h0m57-31h0m56 18h0m57-38h0m57-98h0m56 221h0m57-87h0m57-17h0m56 32h0m57-18h0m57-107h0m56 116h0m57 55h0m56-42h0m57-22h0m57-34h0m56 32h0m57-115h0m57 224h0m56-63h0m57-6h0m57-8h0m56-59h0m57-22h0m57 57h0m56 56h0m57 65h0m56-121h0m57 4h0m57-5h0m56 10h0m57 77h0m57 19h0m56-36h0m57-15h0m57 52h0m56-98h0" stroke="#0000ff" stroke-opacity="0.410" stroke-width="52.0" stroke-linecap="round" fill="none"/>
<path d="M1099 4695h0m57 2h0m57-52h0m56-75h0m57 92h0m57-22h0m56 37h0m57-26h0m56 87h0m57-232h0m57 122h0m56 49h0m57-58h0m57 43h0m56 6h0m57-38h0m57-75h0m56 101h0m57 50h0m56-66h0m57 39h0m57-17h0m56-118h0m57 65h0m57-11h0m56 61h0m57 9h0m57-29h0m56 64h0m57-238h0m57 112h0m56-4h0m57 28h0m56 87h0m57-59h0m57-185h0m56 61h0m57 43h0m57 65h0m56-48h0m57-11h0m57 139h0m56-424h0m57 229h0m56 30h0m57 27h0m57 0h0m56-32h0m57-129h0m57 55h0m56 3h0m57 127h0m57-95h0m56-4h0m57-37h0m57-289h0m56 383h0m57-99h0m56-52h0m57 193h0m57-155h0m56-35h0m57-149h0m57 104h0m56 195h0m57-239h0m57 172h0m56-151h0m57-432h0m56 505h0m57-171h0m57 208h0m56-18h0m57-134h0m57 198h0m56-323h0m57 337h0m57 4h0m56-173h0m57 258h0m57-125h0m56-173h0m57 132h0m56 36h0m57 47h0m57-52h0m56-3h0m57 158h0m57-308h0m56 275h0m57-4h0m57-74h0m56 87h0m57-97h0m56 23h0m57-24h0m57 78h0m56 102h0m57-38h0m57-22h0m56 32h0m57-198h0m57 230h0m56-82h0m57 66h0m57-32h0m56-70h0m57 34h0m56-91h0m57 198h0m57-46h0m56 5h0m57-29h0m57-5h0m56-123h0m57 156h0m57 17h0m56 43h0m57-65h0m56 23h0m57-45h0m57-173h0m56 303h0m57-65h0m57-40h0m56-18h0m57-3h0m57-91h0m56 109h0m57 37h0m57 88h0m56-106h0m57-39h0m56 45h0m57-95h0m57 64h0m56 34h0m57 24h0m57 13h0m56-54h0m57-17h0" stroke="#0000ff" stroke-opacity="0.410" stroke-width="52.0" stroke-linecap="round" fill="none"/>
<path d="M1104 4671h0m57 40h0m56-77h0m57 14h0m57-35h0m56 67h0m57-17h0m57 32h0m56 29h0m57-158h0m56 91h0m57 5h0m57-9h0m56 28h0m57-21h0m57-21h0m56-99h0m57 94h0m57 18h0m56 14h0m57-11h0m56 27h0m57-217h0m57 145h0m56-13h0m57-5h0m57 41h0m56-32h0m57-6h0m57-126h0m56 110h0m57 17h0m57-21h0m56 79h0m57-25h0m56-224h0m57 168h0m57-58h0m56 84h0m57-20h0m57 8h0m56 0h0m57-271h0m57 266h0m56-7h0m57-108h0m56 156h0m57-63h0m57-209h0m56 117h0m57 1h0m57 116h0m56-128h0m57 77h0m57 17h0m56-369h0m57 375h0m57-55h0m56-84h0m57 104h0m56-105h0m57-90h0m57-90h0m56 121h0m57 197h0m57-264h0m56 216h0m57-71h0m57-625h0m56 615h0m57-193h0m56 221h0m57 27h0m57-112h0m56 128h0m57-355h0m57 362h0m56 24h0m57-122h0m57 165h0m56-177h0m57-214h0m57 245h0m56-28h0m57 169h0m56-25h0m57-46h0m57 50h0m56-253h0m57 291h0m57-34h0m56-59h0m57 77h0m57-84h0m56-28h0m57 62h0m56 42h0m57 113h0m57-179h0m56 21h0m57 87h0m57-232h0m56 313h0m57-88h0m57-28h0m56 35h0m57-17h0m57-48h0m56-73h0m57 211h0m56-34h0m57-18h0m57 15h0m56-17h0m57-140h0m57 194h0m56-16h0m57 46h0m57-33h0m56-52h0m57 44h0m56-95h0m57 117h0m57 27h0m56-64h0m57 2h0m57 10h0m56-102h0m57 90h0m57 31h0m56-15h0m57 21h0m57-78h0m56 50h0m57-137h0m56 197h0m57-48h0m57 17h0m56-5h0m57-26h0m57-46h0" stroke="#0000ff" stroke-opacity="0.410" stroke-width="52.0" stroke-linecap="round" fill="none"/>
<path d="M1109 4695h0m56 12h0m57-128h0m57 48h0m56 47h0m57 8h0m57 25h0m56-49h0m57 75h0m57-216h0m56 144h0m57-19h0m56-29h0m57 57h0m57 56h0m56-96h0m57-134h0m57 96h0m56 62h0m57-18h0m57 27h0m56 28h0m57-166h0m56 125h0m57-61h0m57 37h0m56 58h0m57-28h0m57-67h0m56-135h0m57 56h0m57 112h0m56-2h0m57 28h0m57 25h0m56-304h0m57 244h0m56-30h0m57-24h0m57 40h0m56-80h0m57 37h0m57-162h0m56 121h0m57 21h0m57-47h0m56 97h0m57-57h0m56-173h0m57 197h0m57-72h0m56 103h0m57-97h0m57-89h0m56 261h0m57-471h0m57 413h0m56-56h0m57-199h0m57 151h0m56-162h0m57-20h0m56-36h0m57 14h0m57 155h0m56-118h0m57 10h0m57 39h0m56-578h0m57 702h0m57-261h0m56 118h0m57 164h0m56-219h0m57 104h0m57-252h0m56 242h0m57 151h0m57-167h0m56 144h0m57-88h0m57-228h0m56 336h0m57-135h0m57 136h0m56-37h0m57-67h0m56 106h0m57-269h0m57 278h0m56 96h0m57-167h0m57 59h0m56-66h0m57-45h0m57 62h0m56 67h0m57 48h0m56-27h0m57 25h0m57 11h0m56-273h0m57 291h0m57-12h0m56-60h0m57 56h0m57-63h0m56-32h0m57-26h0m57 111h0m56 30h0m57 9h0m56-52h0m57 5h0m57-123h0m56 282h0m57-177h0m57 84h0m56-29h0m57 6h0m57-33h0m56-98h0m57 213h0m56-56h0m57-3h0m57-2h0m56 11h0m57-114h0m57 102h0m56 59h0m57-50h0m57-4h0m56-33h0m57 41h0m57-50h0m56 76h0m57-30h0m56-85h0m57 107h0m57-56h0m56-73h0" stroke="#0000ff" stroke-opacity="0.410" stroke-width="52.0" stroke-linecap="round" fill="none"/>
<path d="M1113 4660h0m57 103h0m57-144h0m56 63h0m57-38h0m57-4h0m56 6h0m57 29h0m57 55h0m56-235h0m57 150h0m57-16h0m56 39h0m57 4h0m56 42h0m57-201h0m57 73h0m56 41h0m57 20h0m57 23h0m56 42h0m57-18h0m57-281h0m56 263h0m57-56h0m56-46h0m57 65h0m57-10h0m56-61h0m57-88h0m57 57h0m56 146h0m57-97h0m57-15h0m56 79h0m57-234h0m57 185h0m56-36h0m57-17h0m56 85h0m57-67h0m57 31h0m56-204h0m57 130h0m57 10h0m56-44h0m57 139h0m57-70h0m56-207h0m57 167h0m56-98h0m57 176h0m57-46h0m56-61h0m57 100h0m57-397h0m56 338h0m57-28h0m57-123h0m56 137h0m57-155h0m57-210h0m56 210h0m57 13h0m56 140h0m57-204h0m57 52h0m56 54h0m57-601h0m57 611h0m56-96h0m57-42h0m57 226h0m56-287h0m57 71h0m56-125h0m57 227h0m57 159h0m56-152h0m57 137h0m57-50h0m56-331h0m57 409h0m57-129h0m56 44h0m57 55h0m57-80h0m56 5h0m57-172h0m56 207h0m57 65h0m57-85h0m56 90h0m57-61h0m57-122h0m56 178h0m57 26h0m57-5h0m56-14h0m57-29h0m56 68h0m57-254h0m57 316h0m56-116h0m57 51h0m57 60h0m56-32h0m57-122h0m57-33h0m56 141h0m57-25h0m57 19h0m56-7h0m57 1h0m56-114h0m57 198h0m57-95h0m56 37h0m57 46h0m57-74h0m56-110h0m57 95h0m57 74h0m56 18h0m57-39h0m56 15h0m57-31h0m57-148h0m56 213h0m57 11h0m57-17h0m56 4h0m57-64h0m57 25h0m56-103h0m57 167h0m57-1h0m56-75h0m57 16h0m56 10h0m57-101h0" stroke="#0000ff" stroke-opacity="0.410" stroke-width="52.0" stroke-linecap="round" fill="none"/>
<path d="M1118 4732h0m57-4h0m56-169h0m57 111h0m57-62h0m56 97h0m57-17h0m57 14h0m56 0h0m57-102h0m57 29h0m56 12h0m57-11h0m57 10h0m56 40h0m57-147h0m56 36h0m57 67h0m57 55h0m56-50h0m57 10h0m57 53h0m56-255h0m57 164h0m57 26h0m56-45h0m57 49h0m56 11h0m57-150h0m57 10h0m56 31h0m57 52h0m57-18h0m56 0h0m57 87h0m57-277h0m56 199h0m57 4h0m57-88h0m56 192h0m57-169h0m56-65h0m57-24h0m57 98h0m56 40h0m57-125h0m57 119h0m56 15h0m57-277h0m57 264h0m56-169h0m57 165h0m56-35h0m57-64h0m57 100h0m56-305h0m57 278h0m57-100h0m56-118h0m57 259h0m57-185h0m56-192h0m57 158h0m57 63h0m56 40h0m57-67h0m56-95h0m57 146h0m57-641h0m56 601h0m57-67h0m57-17h0m56 226h0m57-146h0m57-208h0m56 104h0m57-3h0m56 333h0m57-221h0m57 54h0m56 22h0m57-347h0m57 455h0m56-88h0m57-24h0m57 51h0m56-109h0m57 89h0m57-192h0m56 216h0m57 20h0m56-71h0m57 114h0m57-42h0m56-243h0m57 315h0m57-75h0m56 77h0m57-16h0m57-54h0m56 22h0m57-181h0m56 263h0m57-29h0m57-94h0m56 105h0m57-83h0m57-120h0m56 80h0m57 111h0m57 7h0m56 4h0m57-68h0m57 42h0m56-97h0m57 177h0m56-37h0m57-44h0m57 4h0m56 46h0m57-170h0m57 87h0m56 103h0m57-67h0m57 40h0m56-48h0m57 49h0m56-143h0m57 190h0m57-22h0m56-48h0m57 3h0m57-22h0m56 10h0m57-23h0m57 121h0m56-11h0m57-64h0m57 9h0m56-15h0m57-72h0" stroke="#0000ff" stroke-opacity="0.410" stroke-width="52.0" stroke-linecap="round" fill="none"/>
<path d="M1123 4651h0m57 83h0m56-153h0m57 29h0m56 34h0m57 20h0m57 26h0m56-29h0m57-15h0m57-98h0m56 76h0m57 2h0m57 88h0m56-44h0m57 41h0m57-227h0m56 164h0m57-2h0m56-33h0m57 75h0m57-76h0m56 54h0m57-208h0m57 167h0m56 27h0m57-45h0m57 29h0m56-8h0m57-163h0m56 50h0m57 76h0m57 2h0m56 48h0m57-2h0m57 49h0m56-285h0m57 187h0m57-27h0m56-21h0m57 97h0m57-88h0m56-84h0m57-27h0m56 17h0m57 134h0m57-65h0m56 47h0m57 17h0m57-250h0m56 157h0m57 0h0m57 37h0m56 25h0m57-116h0m56 29h0m57-208h0m57 138h0m56 87h0m57-88h0m57 85h0m56-32h0m57-355h0m57 411h0m56-180h0m57 83h0m57-16h0m56-105h0m57 169h0m56-650h0m57 552h0m57 53h0m56-61h0m57 116h0m57-69h0m56-170h0m57 127h0m57 13h0m56 150h0m57-122h0m56 63h0m57 66h0m57-370h0m56 397h0m57-87h0m57-27h0m56 122h0m57-114h0m57-25h0m56-78h0m57 175h0m57 73h0m56-135h0m57 97h0m56-14h0m57-226h0m57 308h0m56-107h0m57 79h0m57-14h0m56-56h0m57 37h0m57-161h0m56 220h0m57-17h0m56-37h0m57 15h0m57-41h0m56-65h0m57 119h0m57 36h0m56 48h0m57-65h0m57-19h0m56 27h0m57-163h0m57 300h0m56-93h0m57-28h0m56 0h0m57 12h0m57-131h0m56 80h0m57 81h0m57 8h0m56-8h0m57-111h0m57 59h0m56-115h0m57 207h0m56-91h0m57 6h0m57 74h0m56-99h0m57-24h0m57 27h0m56 84h0m57-2h0m57-70h0m56 75h0m57-42h0m57-112h0" stroke="#0000ff" stroke-opacity="0.410" stroke-width="52.0" stroke-linecap="round" fill="none"/>
</g></g>
<g clip-path="url(#c4)">
<g transform="scale(0.1)">
<path fill="none" stroke="#ff0000" stroke-width="28.0" stroke-linejoin="round" stroke-linecap="round" d="M1052 5897l7-1 3 2 10 12 30 70 14 19 10 5 17-2 13-5 7-8 10-28 6-32 27-196 10-59 7-24 3-8 7-6 7 5 6 12 34 92 10 18 7 5 6 1 7-2 24-20 10-3 6 3 7 7 23 32 7 6 7 1 10-4 23-23 10-1 10 7 27 37 10 5 10-2 27-25 10-1 10 8 24 33 6 6 7 2 10-4 24-23 10-4 10 6 27 36 10 6 10-2 23-23 7-4 7-1 6 3 7 7 23 32 10 6 11-3 23-22 10-1 7 4 6 9 21 40 10 16 6 6 10 1 44-30 7-10 6-17 14-60 33-211 7-29 7-19 3-6 7-4 6 6 10 24 31 119 6 20 7 14 10 8 20-2 10 5 27 37 10 8 10 0 7-4 20-21 7-3 6 0 10 8 24 33 10 7 10-1 27-25 10-3 10 6 27 36 10 7 10-2 23-23 7-4 7-1 6 4 7 7 23 32 7 5 7 0 10-5 20-21 7-4 6 0 10 7 27 36 10 5 10-4 24-23 10-4 7 3 6 6 27 36 7 4 10 0 30-19 7-1 13 2 7-1 6-8 7-17 14-71 33-269 10-49 3-10 7-9 4 0 3 4 10 26 27 130 13 46 10 16 17 9 10 11 27 52 10 11 3 1 7-3 27-38 10-5 10 8 23 43 7 9 7 4 6-1 7-6 24-33 6-3 4 0 10 8 23 42 10 10 7 1 7-5 23-31 7-5 6-1 10 8 24 38 10 8 10-2 27-33 10-5 10 6 23 35 10 9 7 2 7-3 23-28 7-5 7-2 6 4 7 7 24 32 6 5 7 1 10-7 23-26 21-12 6-6 7-11 7-18 10-43 6-41 34-263 10-47 7-12 3 0 3 4 10 34 10 61 21 148 13 66 10 21 17 16 6 11 27 85 10 20 4 2 3-1 7-8 23-68 7-13 7-4 3 2 7 10 26 79 7 9 4 1 3-2 10-18 20-61 7-12 6-2 4 2 6 12 24 72 7 12 6 2 4-2 6-12 24-69 7-10 3-2 7 4 6 13 24 71 6 11 4 2 3-1 10-16 24-68 6-10 4-1 6 5 7 15 24 70 6 9 4 1 3-1 7-10 26-76 7-8 4-1 3 2 7 11 26 78 7 8 3 0 4-3 6-12 27-83 10-16 17-15 10-26 14-82 33-315 10-54 7-17 3-2 4 2 6 15 10 54 27 237 13 83 4 11 7 12 16 7 10 19 27 114 7 19 3 4 4 1 6-8 7-21 20-85 7-17 3-4 3 0 4 3 7 16 23 98 7 16 3 4 3-1 7-11 27-108 7-15 3-3 3 1 7 12 27 108 6 14 4 2 3-1 7-13 23-97 7-20 3-5 4-2 3 2 7 14 23 97 7 19 3 4 4 1 3-2 7-15 23-98 7-18 3-4 4-1 3 3 7 15 23 97 7 17 3 3 3 0 4-4 7-17 23-100 7-16 3-4 3 0 7 10 27 103 7 13 3 1 3-2 7-14 23-106 10-29 4-5 7-1 13 13 3 1 4-2 6-15 4-14 10-65 10-95 27-327 6-43 4-4 3 9 7 51 27 328 10 91 6 45 7 28 7 12 6-1 14-12 6 3 4 5 10 32 20 94 7 18 3 5 3 0 4-2 6-16 24-93 7-14 3-2 3 1 4 5 6 19 24 100 6 14 4 2 3-1 4-5 6-18 24-97 6-13 4-1 6 7 7 20 24 98 6 12 4 1 3-2 7-15 27-108 6-11 4 0 3 3 7 15 23 99 7 16 3 4 3 0 4-4 7-16 23-98 7-16 3-3 3 1 7 11 27 108 7 15 3 3 3-1 7-12 23-98 7-19 7-8 3 2 4 5 6 19 24 97 6 12 4 1 3-2 10-27 17-77 10-36 10-16 13-4 4-3 6-15 4-13 10-61 30-262 10-49 7-13 3 0 3 4 7 20 10 59 30 288 14 90 10 32 7 8 13 11 7 11 6 16 20 66 7 15 7 5 3-1 7-9 23-70 7-14 7-5 3 1 7 10 23 69 7 13 3 3 4 0 6-6 7-15 20-63 7-12 7-4 3 2 7 11 23 69 7 11 3 2 4 0 3-3 7-12 23-72 7-12 3-2 7 3 6 12 24 68 7 10 3 1 3-1 10-17 24-72 7-10 3-2 7 5 6 13 24 68 6 8 4 1 3-2 7-11 27-79 6-9 4-1 3 2 7 10 27 75 6 6 4 0 3-3 7-13 20-66 10-26 7-9 16-11 10-20 14-66 20-148 10-62 10-35 3-4 4 0 3 4 7 20 10 58 30 270 10 70 7 33 6 23 10 20 24 25 20 28 7 7 6 3 7-2 7-5 23-34 7-6 7-3 10 4 23 27 7 4 7 0 10-9 23-38 10-8 7 0 6 5 24 28 7 3 6-1 10-10 24-40 10-7 7 0 6 6 24 30 10 3 7-5 6-9 24-41 10-7 10 5 27 35 6 3 4-1 10-10 26-49 11-8 10 5 23 30 7 4 6-3 10-14 27-62 24-34 10-21 13-51 27-133 10-27 3-4 4 0 3 3 7 15 10 45 10 67 27 215 13 73 7 19 7 10 26 11 20 21 10 7 7 1 10-7 27-41 10-9 7-1 7 3 23 19 7 2 6-2 10-11 24-36 10-6 7 1 6 4 24 25 10 2 10-6 23-31 10-7 7 0 7 3 23 25 10 5 7-2 7-5 23-31 10-7 7 0 7 4 20 22 10 6 6-1 7-5 27-39 10-8 7 0 6 3 24 21 7 1 6-3 10-11 27-43 24-24 10-17 13-39 27-100 10-20 7-4 6 6 4 6 13 50 34 208 10 49 6 22 10 17 27 12 20 21 10 7 7 1 10-7 24-34 6-8 7-3 10 1 27 24 7 1 6-2 10-11 20-30 7-7 7-3 10 3 23 21 7 3 7-1 10-8 23-33 10-7 10 2 27 25 10 3 10-5 24-33 6-7 7-3 10 2 24 24 10 5 6-2 7-5 23-33 7-6 7-3 10 3 27 26 6 2 7-2 34-34 10-3 20 4 10-8 13-31 24-82 6-16 7-8 3 1 4 3 3 6 10 35 37 220 10 42 10 19 4 2 6-2 14-10 10-4 10 3 16 10 11 1 6-5 7-8 23-42 10-12 7-3 7 1 23 18 7 2 7-1 10-9 23-35 10-9 10 1 27 22 10 2 7-4 7-7 23-33 7-6 6-1 10 5 17 19 10 8"/>
<path d="M1071 5815h0m57-12h0m56-9h0m57-175h0m57 124h0m56 60h0m57 21h0m56-10h0m57 36h0m57-23h0m56-8h0m57-14h0m57 45h0m56 16h0m57-9h0m57-69h0m56-112h0m57 11h0m57 46h0m56 18h0m57 38h0m56-33h0m57 59h0m57-45h0m56 58h0m57-30h0m57-19h0m56 69h0m57-46h0m57-180h0m56-41h0m57 149h0m56 22h0m57 30h0m57 68h0m56-28h0m57 5h0m57 24h0m56-5h0m57 6h0m57-38h0m56 14h0m57-92h0m57-104h0m56 170h0m57 1h0m56 32h0m57 4h0m57-27h0m56 11h0m57 0h0m57-10h0m56 35h0m57-27h0m57-61h0m56-58h0m57-210h0m56 157h0m57 30h0m57 60h0m56-5h0m57-11h0m57 60h0m56-76h0m57 73h0m57-40h0m56 8h0m57 9h0m57-314h0m56-269h0m57 474h0m56 70h0m57 5h0m57 21h0m56 19h0m57-42h0m57 34h0m56-1h0m57-29h0m57 5h0m56-40h0m57-70h0m56-256h0m57 340h0m57 38h0m56 70h0m57-5h0m57 16h0m56 20h0m57-34h0m57 4h0m56-14h0m57 9h0m57-16h0m56-44h0m57-188h0m56 211h0m57 168h0m57-16h0m56-20h0m57 26h0m57-34h0m56-9h0m57 2h0m57-13h0m56-24h0m57-47h0m56-27h0m57-130h0m57 236h0m56 88h0m57-5h0m57-21h0m56 10h0m57-13h0m57 9h0m56-12h0m57 37h0m57-74h0m56-12h0m57-89h0m56-101h0m57 190h0m57 47h0m56 9h0m57-58h0m57-76h0m56 29h0m57 45h0m57-58h0m56 17h0m57-23h0m56 37h0m57-46h0m57-71h0m56 147h0m57 39h0m57-14h0m56-59h0m57 39h0m57-66h0m56-12h0" stroke="#0000ff" stroke-opacity="0.410" stroke-width="52.0" stroke-linecap="round" fill="none"/>
<path d="M1076 5811h0m56 27h0m57-40h0m57-144h0m56 100h0m57 29h0m57 25h0m56-15h0m57-22h0m56 34h0m57-7h0m57-29h0m56 60h0m57-20h0m57 51h0m56-37h0m57-143h0m57-26h0m56 64h0m57 20h0m57 69h0m56-55h0m57 51h0m56-4h0m57-46h0m57 66h0m56-2h0m57 9h0m57-62h0m56-225h0m57 65h0m57 141h0m56-12h0m57 32h0m56 77h0m57 43h0m57-61h0m56 12h0m57 31h0m57-22h0m56 11h0m57 44h0m57-206h0m56-21h0m57 142h0m57 21h0m56-37h0m57 7h0m56 27h0m57-44h0m57 75h0m56-63h0m57 70h0m57-41h0m56-60h0m57-153h0m57-123h0m56 185h0m57 75h0m56 36h0m57-34h0m57-44h0m56 22h0m57 10h0m57 15h0m56-36h0m57 2h0m57 16h0m56-311h0m57-238h0m57 445h0m56 104h0m57 11h0m56 3h0m57-15h0m57-24h0m56 24h0m57 4h0m57-4h0m56-7h0m57-24h0m57-84h0m56-243h0m57 295h0m56 94h0m57 5h0m57 49h0m56 34h0m57-28h0m57-31h0m56 0h0m57 34h0m57-9h0m56-27h0m57-32h0m57-196h0m56 246h0m57 91h0m56 15h0m57-33h0m57 40h0m56-54h0m57 27h0m57 11h0m56 34h0m57-84h0m57-131h0m56 7h0m57-83h0m56 229h0m57 71h0m57-8h0m56 18h0m57 1h0m57-48h0m56-1h0m57 49h0m57-65h0m56-8h0m57-51h0m57-32h0m56-104h0m57 202h0m56 36h0m57-22h0m57-61h0m56-24h0m57-40h0m57 35h0m56 45h0m57-37h0m57-15h0m56 17h0m57-23h0m56-103h0m57 152h0m57 76h0m56-43h0m57-20h0m57 10h0m56-38h0m57 16h0" stroke="#0000ff" stroke-opacity="0.410" stroke-width="52.0" stroke-linecap="round" fill="none"/>
<path d="M1080 5817h0m57-13h0m57-55h0m56-90h0m57 100h0m57 5h0m56 40h0m57-8h0m57 8h0m56 10h0m57 35h0m56-30h0m57-14h0m57 4h0m56 43h0m57-59h0m57-92h0m56 1h0m57 53h0m57 16h0m56-32h0m57 39h0m57-14h0m56 34h0m57-11h0m56-13h0m57 3h0m57 31h0m56-19h0m57-206h0m57 94h0m56 32h0m57 63h0m57 35h0m56 17h0m57 7h0m56 16h0m57 32h0m57 4h0m56 22h0m57-84h0m57 52h0m56-188h0m57 43h0m57 44h0m56 42h0m57 38h0m57-22h0m56 34h0m57-39h0m56 0h0m57 9h0m57-31h0m56-9h0m57 2h0m57-223h0m56-43h0m57 168h0m57 45h0m56-6h0m57 17h0m56 5h0m57-31h0m57-2h0m56 17h0m57-42h0m57 50h0m56 5h0m57-391h0m57-86h0m56 388h0m57 40h0m57 23h0m56 8h0m57 3h0m56 22h0m57-15h0m57 29h0m56-78h0m57 39h0m57 20h0m56-171h0m57-174h0m57 300h0m56 73h0m57 11h0m56-27h0m57 75h0m57-20h0m56 6h0m57 35h0m57-57h0m56-21h0m57-11h0m57-51h0m56-151h0m57 243h0m57 77h0m56-7h0m57 46h0m56 6h0m57-15h0m57-28h0m56-15h0m57-34h0m57-35h0m56-14h0m57-22h0m57-55h0m56 135h0m57 122h0m56-22h0m57-14h0m57-17h0m56 87h0m57-44h0m57-50h0m56-1h0m57-43h0m57-61h0m56-65h0m57-39h0m57 210h0m56 18h0m57-33h0m56-28h0m57-36h0m57 11h0m56 15h0m57-10h0m57 10h0m56-3h0m57-74h0m57 33h0m56-83h0m57 125h0m56 43h0m57-20h0m57-3h0m56-38h0m57 24h0m57-56h0" stroke="#0000ff" stroke-opacity="0.410" stroke-width="52.0" stroke-linecap="round" fill="none"/>
<path d="M1085 5847h0m57 46h0m56-115h0m57-75h0m57 73h0m56-23h0m57 51h0m57 20h0m56-5h0m57-13h0m57-23h0m56 38h0m57 7h0m56 27h0m57 11h0m57-78h0m56-161h0m57 73h0m57 78h0m56-22h0m57 17h0m57-5h0m56 29h0m57 40h0m57-2h0m56-14h0m57-31h0m56 11h0m57-49h0m57-211h0m56 122h0m57 65h0m57 36h0m56 26h0m57 71h0m57 21h0m56-82h0m57 98h0m56-11h0m57-26h0m57-7h0m56-8h0m57-158h0m57 42h0m56 41h0m57 96h0m57-39h0m56-9h0m57 6h0m57-33h0m56 47h0m57-11h0m56 0h0m57 35h0m57-82h0m56-196h0m57-5h0m57 105h0m56 45h0m57 22h0m57 26h0m56-15h0m57-5h0m56 0h0m57-23h0m57 21h0m56-11h0m57-42h0m57-388h0m56 47h0m57 370h0m57-26h0m56 32h0m57 0h0m57-6h0m56 14h0m57 8h0m56-2h0m57 5h0m57-43h0m56-2h0m57-195h0m57-96h0m56 281h0m57 69h0m57 5h0m56 33h0m57 34h0m56-11h0m57-21h0m57 24h0m56-113h0m57 114h0m57-50h0m56-45h0m57-154h0m57 218h0m56 66h0m57-23h0m57-1h0m56 72h0m57-7h0m56 10h0m57 21h0m57-97h0m56 42h0m57-64h0m57-67h0m56-92h0m57 223h0m57 47h0m56 17h0m57-27h0m56 18h0m57-26h0m57 24h0m56-53h0m57-19h0m57 22h0m56-11h0m57-84h0m57-120h0m56 239h0m57 50h0m57-46h0m56-22h0m57-85h0m56 33h0m57-43h0m57 112h0m56-71h0m57-7h0m57 24h0m56-47h0m57-54h0m57 148h0m56 19h0m57 1h0m56-42h0m57-3h0m57-25h0m56-51h0" stroke="#0000ff" stroke-opacity="0.410" stroke-width="52.0" stroke-linecap="round" fill="none"/>
<path d="M1090 5860h0m57-71h0m56-66h0m57-44h0m56 58h0m57 57h0m57 3h0m56-41h0m57 20h0m57 4h0m56 24h0m57 11h0m57-8h0m56 19h0m57 52h0m56-74h0m57-199h0m57 122h0m56-10h0m57 44h0m57 68h0m56-43h0m57-28h0m57 39h0m56 8h0m57-6h0m57-32h0m56 87h0m57-74h0m56-254h0m57 146h0m57 23h0m56 59h0m57 61h0m57-15h0m56 64h0m57 8h0m57-3h0m56 14h0m57-49h0m56 55h0m57-41h0m57-239h0m56 141h0m57 61h0m57-9h0m56 32h0m57-20h0m57 6h0m56-13h0m57 25h0m57-48h0m56 46h0m57 69h0m56-95h0m57-278h0m57 34h0m56 187h0m57 14h0m57-27h0m56 45h0m57-29h0m57 6h0m56-8h0m57-15h0m56 55h0m57-59h0m57-29h0m56-423h0m57 91h0m57 304h0m56 54h0m57-3h0m57-29h0m56 29h0m57 13h0m57-25h0m56 26h0m57-20h0m56 1h0m57-23h0m57-155h0m56-51h0m57 225h0m57 77h0m56 12h0m57 17h0m57-12h0m56 9h0m57-24h0m56 35h0m57-51h0m57 60h0m56-32h0m57-108h0m57 8h0m56 143h0m57 62h0m57-5h0m56 25h0m57-110h0m57 41h0m56 8h0m57 9h0m56-32h0m57 28h0m57-93h0m56-73h0m57-35h0m57 204h0m56 64h0m57-12h0m57 9h0m56 5h0m57 6h0m56 35h0m57-77h0m57 51h0m56-53h0m57-79h0m57-39h0m56-33h0m57 149h0m57 21h0m56-48h0m57-104h0m57 68h0m56 6h0m57 4h0m56-8h0m57 7h0m57 20h0m56-5h0m57-34h0m57-67h0m56 159h0m57 1h0m57-31h0m56-29h0m57 3h0m56-39h0m57-16h0" stroke="#0000ff" stroke-opacity="0.410" stroke-width="52.0" stroke-linecap="round" fill="none"/>
<path d="M1095 5852h0m56-41h0m57-85h0m57-43h0m56 81h0m57 11h0m56-31h0m57 87h0m57-7h0m56-10h0m57-11h0m57 16h0m56-17h0m57 82h0m57-3h0m56-81h0m57-164h0m56 91h0m57 25h0m57-14h0m56 69h0m57-12h0m57 25h0m56-28h0m57-8h0m57 41h0m56 14h0m57-11h0m57-84h0m56-266h0m57 218h0m56 59h0m57 24h0m57 20h0m56 78h0m57-28h0m57-12h0m56 25h0m57-31h0m57 59h0m56-7h0m57-60h0m56-216h0m57 146h0m57 20h0m56 25h0m57 26h0m57-6h0m56-4h0m57-42h0m57 55h0m56 5h0m57-10h0m57-26h0m56-25h0m57-302h0m56 184h0m57 81h0m57 15h0m56-35h0m57 67h0m57-23h0m56-40h0m57 37h0m57-64h0m56 27h0m57 28h0m56-132h0m57-408h0m57 218h0m56 234h0m57 68h0m57-54h0m56 52h0m57 38h0m57-30h0m56 5h0m57-8h0m57-11h0m56 32h0m57-42h0m56-230h0m57 79h0m57 151h0m56 25h0m57 138h0m57-22h0m56-32h0m57 47h0m57-20h0m56-29h0m57 0h0m56 0h0m57-19h0m57-102h0m56-55h0m57 187h0m57 77h0m56-37h0m57 79h0m57-36h0m56 14h0m57-24h0m57-49h0m56 35h0m57-21h0m56-61h0m57-84h0m57 6h0m56 195h0m57 35h0m57 38h0m56-47h0m57-10h0m57-35h0m56 21h0m57 2h0m56-31h0m57-54h0m57 4h0m56-68h0m57-17h0m57 143h0m56 52h0m57-61h0m57-67h0m56-11h0m57-29h0m57 10h0m56 41h0m57 28h0m56 0h0m57-35h0m57 6h0m56-131h0m57 181h0m57 64h0m56-60h0m57-4h0m57-36h0m56 19h0" stroke="#0000ff" stroke-opacity="0.410" stroke-width="52.0" stroke-linecap="round" fill="none"/>
<path d="M1099 5845h0m57-35h0m57-120h0m56 37h0m57 37h0m57 13h0m56 41h0m57-24h0m56-12h0m57 74h0m57-31h0m56-3h0m57-13h0m57 68h0m56 26h0m57-89h0m57-141h0m56 5h0m57 92h0m56-22h0m57 65h0m57 2h0m56 10h0m57-60h0m57 27h0m56 24h0m57-43h0m57 43h0m56-77h0m57-271h0m57 226h0m56 21h0m57 77h0m56-28h0m57 87h0m57 2h0m56-4h0m57-51h0m57 61h0m56 13h0m57-5h0m57-47h0m56-274h0m57 205h0m56 27h0m57 10h0m57 54h0m56 3h0m57 8h0m57-22h0m56 8h0m57-47h0m57 33h0m56-4h0m57-46h0m57-317h0m56 207h0m57 85h0m56-18h0m57-10h0m57 4h0m56-1h0m57 22h0m57-22h0m56-3h0m57-2h0m57 13h0m56-103h0m57-439h0m56 268h0m57 227h0m57-12h0m56 32h0m57 40h0m57 29h0m56-30h0m57 7h0m57-18h0m56 21h0m57 12h0m57-78h0m56-221h0m57 111h0m56 196h0m57 76h0m57-11h0m56-9h0m57-3h0m57-32h0m56 97h0m57-73h0m57 25h0m56-59h0m57 18h0m56-123h0m57-30h0m57 218h0m56-2h0m57-8h0m57 42h0m56 1h0m57 11h0m57-53h0m56 0h0m57-14h0m57 59h0m56-130h0m57-68h0m56 27h0m57 213h0m57 14h0m56-32h0m57 13h0m57-12h0m56 0h0m57 54h0m57-89h0m56 38h0m57-38h0m56-69h0m57-67h0m57 31h0m56 138h0m57 5h0m57-33h0m56-15h0m57-51h0m57 26h0m56-28h0m57 15h0m57-50h0m56 53h0m57-51h0m56 40h0m57-57h0m57 144h0m56 4h0m57-42h0m57-7h0m56-25h0m57-18h0" stroke="#0000ff" stroke-opacity="0.410" stroke-width="52.0" stroke-linecap="round" fill="none"/>
<path d="M1104 5833h0m57 25h0m56-124h0m57 8h0m57 62h0m56 9h0m57-17h0m57-45h0m56 70h0m57-2h0m56-4h0m57 32h0m57-7h0m56 23h0m57-40h0m57-41h0m56-143h0m57 65h0m57 66h0m56-9h0m57 15h0m56 4h0m57 10h0m57 40h0m56-20h0m57 7h0m57 5h0m56-19h0m57-81h0m57-249h0m56 285h0m57 8h0m57 7h0m56 30h0m57 65h0m56-38h0m57 25h0m57 8h0m56 7h0m57-8h0m57 7h0m56-41h0m57-287h0m57 255h0m56 20h0m57 86h0m56-91h0m57 44h0m57-5h0m56-16h0m57-28h0m57 5h0m56 18h0m57 40h0m57-85h0m56-347h0m57 263h0m57 43h0m56 19h0m57-13h0m56 38h0m57-44h0m57 42h0m56-16h0m57-45h0m57 18h0m56-5h0m57-144h0m57-476h0m56 401h0m57 207h0m56-12h0m57 2h0m57 4h0m56 14h0m57 10h0m57-27h0m56-29h0m57 27h0m57 18h0m56-50h0m57-276h0m57 193h0m56 114h0m57 80h0m56 48h0m57-23h0m57 38h0m56 1h0m57-8h0m57-21h0m56-15h0m57-3h0m57-36h0m56-146h0m57 41h0m56 171h0m57 20h0m57 70h0m56-58h0m57-17h0m57 37h0m56 23h0m57-55h0m57-11h0m56 2h0m57-31h0m57-153h0m56 72h0m57 142h0m56 100h0m57-51h0m57 27h0m56-9h0m57 1h0m57 8h0m56-46h0m57 0h0m57-32h0m56 8h0m57-141h0m56 66h0m57 133h0m57-62h0m56-37h0m57-3h0m57-27h0m56 5h0m57 16h0m57 10h0m56 14h0m57-27h0m57 28h0m56-59h0m57 8h0m56 173h0m57-56h0m57-8h0m56 5h0m57-52h0m57-39h0" stroke="#0000ff" stroke-opacity="0.410" stroke-width="52.0" stroke-linecap="round" fill="none"/>
<path d="M1109 5835h0m56-80h0m57-93h0m57 78h0m56 24h0m57 74h0m57-20h0m56 3h0m57-26h0m57 15h0m56 23h0m57 14h0m56-6h0m57 15h0m57 21h0m56-100h0m57-145h0m57 113h0m56 25h0m57 16h0m57-30h0m56 34h0m57-15h0m56 45h0m57 5h0m57 2h0m56-48h0m57 7h0m57-40h0m56-239h0m57 194h0m57 58h0m56 13h0m57 60h0m57 17h0m56 12h0m57-18h0m56-9h0m57 32h0m57-26h0m56 9h0m57-88h0m57-215h0m56 209h0m57 5h0m57 59h0m56-10h0m57 7h0m56 8h0m57-23h0m57 19h0m56 21h0m57-22h0m57 21h0m56-55h0m57-394h0m57 264h0m56 82h0m57-6h0m57 37h0m56-44h0m57 16h0m56 31h0m57-29h0m57 7h0m56-2h0m57 14h0m57-136h0m56-576h0m57 415h0m57 212h0m56 47h0m57 5h0m56 20h0m57-30h0m57 1h0m56 38h0m57-33h0m57-10h0m56 10h0m57-17h0m57-345h0m56 248h0m57 223h0m57 18h0m56-65h0m57 37h0m56 17h0m57-11h0m57-35h0m56 20h0m57 9h0m57-8h0m56-43h0m57-180h0m57 119h0m56 142h0m57 57h0m56 6h0m57 0h0m57 4h0m56-16h0m57-5h0m57-11h0m56 21h0m57-72h0m57 25h0m56-198h0m57 131h0m57 80h0m56 90h0m57-19h0m56 11h0m57 8h0m57-50h0m56 11h0m57-27h0m57 30h0m56-39h0m57-64h0m57-60h0m56 50h0m57 131h0m56-55h0m57-25h0m57 21h0m56-67h0m57 56h0m57-18h0m56 4h0m57-95h0m57-8h0m56 70h0m57-18h0m57 10h0m56 115h0m57 63h0m56-114h0m57 0h0m57-53h0m56 23h0" stroke="#0000ff" stroke-opacity="0.410" stroke-width="52.0" stroke-linecap="round" fill="none"/>
<path d="M1113 5805h0m57 16h0m57-148h0m56 20h0m57 96h0m57 45h0m56-19h0m57-43h0m57 62h0m56-46h0m57 15h0m57 32h0m56 44h0m57-16h0m56 27h0m57-145h0m57-33h0m56 36h0m57 22h0m57 31h0m56 5h0m57-8h0m57 12h0m56 14h0m57-38h0m56 20h0m57 11h0m57-1h0m56-98h0m57-241h0m57 226h0m56 80h0m57-16h0m57 36h0m56 12h0m57-13h0m57 67h0m56-30h0m57 56h0m56-44h0m57 4h0m57-123h0m56-161h0m57 206h0m57 34h0m56 13h0m57 40h0m57-50h0m56 29h0m57 1h0m56-8h0m57 28h0m57-27h0m56-21h0m57-115h0m57-303h0m56 282h0m57 41h0m57-8h0m56 147h0m57-99h0m57-31h0m56-14h0m57 21h0m56-18h0m57-47h0m57 62h0m56-143h0m57-555h0m57 553h0m56 131h0m57 8h0m57 12h0m56-26h0m57 80h0m56-42h0m57-7h0m57-4h0m56-1h0m57-18h0m57-3h0m56-395h0m57 369h0m57 53h0m56 28h0m57 23h0m57 34h0m56-17h0m57 4h0m56-21h0m57 81h0m57-82h0m56-14h0m57 15h0m57-230h0m56 160h0m57 148h0m57 1h0m56-8h0m57 39h0m56 20h0m57-12h0m57-39h0m56-9h0m57 29h0m57-31h0m56-35h0m57-134h0m57 89h0m56 153h0m57-20h0m57 27h0m56 44h0m57-82h0m56 7h0m57 25h0m57-28h0m56-10h0m57-8h0m57-75h0m56-70h0m57 88h0m57 64h0m56 31h0m57-52h0m56-55h0m57-6h0m57 35h0m56-2h0m57 1h0m57-28h0m56 4h0m57 26h0m57-90h0m56 63h0m57 97h0m57-29h0m56 15h0m57-26h0m56-65h0m57 8h0" stroke="#0000ff" stroke-opacity="0.410" stroke-width="52.0" stroke-linecap="round" fill="none"/>
<path d="M1118 5833h0m57-16h0m56-196h0m57 111h0m57 54h0m56-11h0m57 46h0m57-51h0m56 48h0m57-30h0m57 61h0m56-21h0m57 24h0m57 29h0m56-16h0m57-120h0m56-86h0m57 81h0m57 54h0m56-1h0m57-41h0m57 39h0m56-27h0m57 15h0m57 28h0m56-26h0m57-21h0m56 72h0m57-123h0m57-190h0m56 197h0m57 33h0m57 19h0m56 41h0m57 12h0m57 8h0m56 2h0m57-21h0m57 58h0m56 2h0m57-47h0m56-10h0m57-221h0m57 211h0m56 4h0m57 97h0m57-98h0m56 18h0m57 10h0m57 9h0m56-14h0m57-13h0m56 75h0m57-39h0m57-115h0m56-291h0m57 276h0m57-8h0m56 80h0m57-2h0m57-64h0m56 23h0m57 9h0m57-34h0m56-5h0m57 26h0m56 16h0m57-218h0m57-471h0m56 530h0m57 96h0m57 12h0m56 14h0m57-6h0m57 56h0m56-21h0m57-8h0m56-8h0m57-66h0m57 55h0m56-91h0m57-337h0m57 352h0m56 103h0m57 61h0m57-7h0m56 13h0m57-17h0m57-1h0m56 29h0m57-82h0m56 93h0m57-51h0m57-12h0m56-237h0m57 231h0m57 117h0m56-19h0m57 8h0m57 48h0m56-37h0m57-33h0m56 25h0m57 1h0m57-32h0m56-29h0m57-35h0m57-126h0m56 155h0m57 133h0m57 3h0m56-3h0m57-1h0m57-5h0m56 4h0m57-9h0m56-22h0m57-10h0m57 33h0m56-156h0m57-90h0m57 173h0m56 52h0m57 12h0m57-96h0m56 11h0m57 36h0m56-45h0m57 1h0m57-11h0m56 66h0m57-83h0m57-22h0m56 33h0m57 25h0m57 63h0m56 2h0m57-43h0m57 8h0m56-2h0m57-51h0" stroke="#0000ff" stroke-opacity="0.410" stroke-width="52.0" stroke-linecap="round" fill="none"/>
<path d="M1123 5786h0m57-12h0m56-102h0m57 48h0m56 30h0m57 38h0m57 18h0m56-9h0m57 34h0m57-41h0m56 4h0m57 56h0m57-24h0m56-11h0m57 64h0m57-198h0m56 44h0m57-36h0m56 9h0m57 92h0m57 0h0m56 4h0m57-21h0m57 89h0m56-74h0m57-19h0m57 42h0m56-23h0m57-121h0m56-57h0m57 125h0m57 31h0m56 40h0m57-17h0m57 25h0m56 2h0m57-3h0m57 45h0m56 10h0m57-15h0m57-9h0m56-65h0m57-133h0m56 115h0m57 111h0m57-22h0m56 0h0m57-13h0m57-27h0m56 16h0m57-19h0m57 40h0m56-34h0m57-9h0m56-48h0m57-238h0m57 188h0m56 13h0m57 76h0m57-36h0m56-24h0m57-21h0m57-5h0m56 79h0m57-66h0m57 43h0m56-51h0m57-163h0m56-417h0m57 454h0m57 101h0m56 26h0m57 32h0m57-75h0m56 42h0m57 39h0m57 5h0m56-22h0m57-28h0m56-10h0m57-46h0m57-285h0m56 297h0m57 49h0m57 50h0m56 37h0m57 47h0m57 20h0m56-58h0m57 10h0m57-18h0m56 18h0m57-11h0m56-40h0m57-242h0m57 250h0m56 115h0m57-3h0m57 3h0m56 17h0m57 23h0m57-24h0m56-7h0m57-24h0m56-9h0m57-66h0m57-31h0m56-32h0m57 142h0m57 39h0m56-1h0m57 13h0m57-7h0m56 40h0m57-34h0m57 21h0m56-16h0m57-48h0m56-34h0m57-89h0m57-71h0m56 182h0m57 84h0m57-32h0m56-82h0m57 5h0m57-55h0m56 51h0m57 48h0m56-28h0m57-25h0m57 20h0m56-56h0m57-54h0m57 143h0m56 60h0m57-40h0m57-68h0m56-10h0m57 21h0m57-42h0" stroke="#0000ff" stroke-opacity="0.410" stroke-width="52.0" stroke-linecap="round" fill="none"/>
</g></g>
<g clip-path="url(#c5)">
<g transform="scale(0.1)">
<path fill="none" stroke="#ff0000" stroke-width="28.0" stroke-linejoin="round" stroke-linecap="round" d="M1052 7167l20-1 27 8 13 2 14-2 23-8 10-1 10 1 27 9 10 1 10-1 24-9 13-1 44 11 10-1 27-9 10-1 10 1 23 8 14 3 13-3 23-8 10-2 10 2 27 10 10 1 10-2 27-10 10-1 10 2 24 9 13 2 44-13 10 1 27 10 10 2 13-2 23-10 11-1 13 4 23 14 10 4 11 1 26-3 10 2 10 5 27 20 7 2 7-1 10-9 6-14 14-48 13-79 30-218 10-48 7-17 3-3 4 0 3 3 7 15 33 124 14 37 13 25 10 13 10 9 10 5 24 8 10 6 33 35 14 8 10 2 23-4 10 1 10 4 24 15 13 5 10 0 24-6 10 0 13 5 24 15 13 5 10-1 24-6 10-1 10 3 26 15 10 2 11-1 26-11 10-1 10 3 27 14 10 2 10-2 24-10 13-2 10 3 24 13 10 3 10-1 27-12 10-2 13 3 24 12 13 2 10-3 23-11 10-1 11 2 26 14 10 2 10-3 27-12 10-1 10 2 24 13 13 3 10-2 24-12 10-2 10 2 23 13 14 4 10-2 27-14 10-3 13 3 23 10 10 0 11-3 26-18 10-2 10 1 24 10 13 1 10-5 24-19 13-7 10 0 24 5 13-3 10-6 24-22 10-5 10-2 27 4 10-3 13-12 17-26 17-42 13-59 13-94 30-266 11-47 3-7 3-1 7 11 7 30 36 281 11 55 6 25 7 17 10 12 7 3 16 2 10 4 37 32 14 3 23-7 14 1 10 6 26 25 11 5 10 0 26-11 10 1 10 6 27 25 10 4 10-1 24-10 10-1 13 7 24 22 10 4 10-2 27-18 10-3 13 6 24 19 6 3 7 0 10-4 23-17 11-2 10 4 26 22 10 3 10-3 24-19 10-3 7 1 6 4 27 23 10 2 10-4 24-19 10-3 10 3 23 22 7 4 7 2 10-4 23-22 7-5 7-2 6 2 7 4 23 23 11 3 10-4 26-30 10-3 11 5 26 29 10 3 10-6 24-30 7-5 6-1 10 6 24 30 10 5 7-2 6-6 24-34 6-6 7-1 10 6 24 29 10 2 10-8 23-42 10-11 7-1 7 4 23 32 10 5 7-3 7-8 23-48 7-10 6-5 10 2 24 22 7 0 3-2 10-18 30-80 30-58 14-51 10-65 13-131 24-287 6-40 4-4 3 6 7 45 30 344 10 74 10 48 10 28 20 32 10 21 30 93 10 21 4 3 6 2 7-3 17-14 7-1 3 1 7 6 6 12 24 50 10 10 3 0 7-3 23-33 7-6 7-1 10 7 27 44 10 6 10-5 23-32 10-5 7 2 7 6 23 36 10 7 10-2 27-31 10-4 10 5 24 32 6 6 7 3 10-3 23-25 7-4 7-1 10 5 23 28 10 7 10-1 27-23 7-4 7 0 10 5 23 25 10 6 7 0 7-3 23-19 10-3 10 3 24 20 13 6 10-3 27-23 10-4 10 3 23 18 14 5 13-5 24-20 10-3 10 3 23 18 10 3 14-3 23-19 10-5 10 1 24 14 13 2 10-4 27-26 10-6 10 0 24 11 10 1 13-5 23-22 14-8 10 0 27 10 10-2 10-7 23-27 10-8 14-5 23 3 10-2 10-7 30-31 11-5 23-2 7-6 6-11 10-31 10-51 37-273 10-42 4-6 3-1 7 14 10 55 33 300 17 105 14 54 16 48 17 30 7 6 6 3 7 0 20-8 10-1 14 5 23 17 10 4 14-1 23-11 10-2 10 2 24 13 13 3 10-2 24-12 13-4 13 4 24 12 10 2 10-2 27-14 10-2 10 3 23 12 10 3 14-3 23-12 10-3 10 2 27 14 10 2 10-2 24-12 13-3 10 1 24 12 13 4 13-4 24-12 10-1 10 2 23 12 10 2 14-2 23-12 10-2 10 1 27 13 10 2 10-1 27-13 10-2 10 2 24 11 10 3 13-1 24-12 13-3 13 3 24 12 17 0 40-19 33-1 10-3 10-6 27-25 10-7 10-3 27-1 10-3 10-6 34-29 13-4 24-1 13-3 10-6 23-20 10-6 14-1 23 5 7-1 7-4 13-16 14-31 13-45 27-103 6-16 7-6 7 7 3 7 10 42 37 241 17 84 13 44 7 13 10 9 7 2 6-2 24-15 13-4 34 3 10-2 10-4 27-18 13-3 10 1 24 8 10 1 10-2 23-10 14-2 10 2 23 9 10 1 10-1 24-9 13-3 13 2 24 9 10 1 10-2 27-10 10-2 10 2 27 9 10 0 43-13 10 0 27 9 10 1 10-2 27-10 10-1 10 0 24 8 13 1 10-1 34-11 13 0 23 8 14 1 43-13 14 2 23 7 10 1 47-11 10 1 34 10 13-1 24-7 13-2 10 2 30 9"/>
<path d="M1071 7180h0m57-8h0m56-42h0m57 0h0m57 34h0m56 9h0m57-56h0m56 81h0m57 4h0m57-27h0m56-16h0m57 58h0m57-84h0m56 10h0m57-88h0m57-114h0m56-21h0m57 51h0m57 84h0m56 19h0m57 86h0m56-25h0m57 25h0m57-20h0m56 24h0m57-55h0m57 45h0m56 3h0m57-42h0m57-3h0m56 59h0m57 9h0m56 37h0m57-80h0m57 48h0m56-23h0m57-36h0m57-4h0m56 19h0m57-72h0m57-27h0m56-153h0m57-212h0m57 142h0m56 77h0m57 87h0m56 47h0m57 4h0m57 66h0m56-37h0m57 33h0m57-12h0m56-7h0m57 1h0m57 6h0m56-33h0m57 49h0m56 9h0m57-53h0m57 6h0m56-13h0m57-12h0m57 40h0m56-35h0m57-38h0m57 8h0m56-44h0m57-76h0m57-402h0m56-184h0m57 354h0m56 155h0m57 100h0m57 2h0m56 47h0m57-26h0m57 61h0m56 52h0m57-12h0m57 9h0m56 20h0m57-63h0m56 50h0m57-2h0m57 6h0m56 24h0m57 7h0m57 15h0m56-20h0m57 2h0m57-16h0m56-52h0m57-3h0m57-27h0m56-169h0m57-135h0m56 153h0m57 151h0m57 12h0m56 21h0m57 23h0m57 41h0m56 36h0m57-46h0m57 57h0m56 37h0m57-42h0m56-3h0m57 10h0m57 10h0m56 41h0m57-24h0m57-36h0m56 41h0m57-69h0m57 38h0m56 18h0m57-37h0m57-19h0m56-11h0m57-112h0m56-25h0m57-62h0m57 9h0m56 152h0m57 2h0m57 38h0m56-19h0m57 20h0m57 9h0m56 24h0m57-12h0m56 27h0m57 12h0m57-26h0m56 10h0m57-5h0m57-2h0m56 13h0m57-13h0m57-8h0m56 3h0" stroke="#0000ff" stroke-opacity="0.410" stroke-width="52.0" stroke-linecap="round" fill="none"/>
<path d="M1076 7150h0m56 16h0m57-19h0m57-2h0m56 27h0m57 0h0m57 6h0m56-30h0m57 9h0m56 2h0m57-6h0m57-7h0m56-26h0m57-63h0m57-9h0m56-134h0m57 5h0m57 108h0m56 28h0m57-19h0m57 74h0m56-32h0m57 12h0m56 10h0m57-10h0m57 48h0m56-2h0m57-14h0m57 58h0m56-32h0m57-15h0m57 33h0m56-26h0m57 35h0m56-30h0m57-31h0m57 26h0m56-22h0m57 4h0m57-46h0m56-65h0m57-88h0m57-236h0m56 111h0m57 130h0m57 69h0m56 54h0m57-7h0m56 22h0m57 8h0m57-5h0m56 18h0m57-31h0m57 50h0m56 33h0m57-39h0m57-35h0m56 0h0m57 14h0m56 26h0m57-28h0m57-3h0m56-43h0m57 4h0m57-40h0m56-35h0m57-47h0m57-109h0m56-341h0m57-69h0m57 302h0m56 203h0m57 4h0m56-8h0m57 91h0m57 11h0m56 4h0m57 9h0m57 27h0m56 16h0m57-26h0m57 44h0m56-20h0m57 29h0m56 33h0m57-31h0m57 32h0m56-48h0m57-8h0m57 44h0m56-81h0m57-10h0m57-34h0m56-67h0m57-68h0m57-136h0m56 156h0m57 62h0m56 61h0m57 39h0m57 39h0m56 61h0m57-8h0m57-33h0m56 80h0m57-36h0m57 12h0m56-17h0m57 6h0m56-12h0m57 4h0m57 14h0m56 11h0m57-5h0m57-27h0m56-1h0m57 37h0m57-57h0m56-34h0m57-11h0m57-31h0m56-84h0m57-68h0m56 80h0m57 56h0m57 53h0m56 41h0m57 4h0m57-23h0m56 53h0m57 23h0m57-49h0m56 9h0m57 1h0m56 35h0m57-62h0m57 34h0m56-37h0m57 43h0m57 5h0m56 23h0m57 8h0" stroke="#0000ff" stroke-opacity="0.410" stroke-width="52.0" stroke-linecap="round" fill="none"/>
<path d="M1080 7155h0m57 15h0m57-32h0m56 68h0m57-21h0m57-14h0m56 18h0m57-38h0m57 26h0m56-3h0m57-27h0m56 55h0m57-84h0m57-41h0m56-45h0m57-122h0m57-6h0m56 99h0m57 37h0m57 82h0m56 7h0m57-13h0m57-9h0m56 81h0m57-43h0m56 0h0m57 14h0m57-41h0m56 1h0m57 45h0m57 28h0m56 6h0m57-19h0m57 27h0m56-17h0m57 80h0m56-119h0m57 32h0m57-83h0m56-48h0m57-4h0m57-162h0m56-215h0m57 217h0m57 58h0m56 6h0m57 64h0m57 48h0m56 19h0m57 11h0m56-32h0m57 24h0m57 7h0m56 15h0m57 7h0m57-39h0m56 28h0m57-32h0m57 27h0m56 5h0m57-50h0m56-7h0m57-24h0m57 3h0m56 8h0m57-57h0m57-50h0m56-116h0m57-413h0m57 10h0m56 307h0m57 162h0m57 27h0m56 31h0m57 48h0m56 13h0m57 39h0m57 7h0m56-15h0m57 25h0m57 6h0m56 36h0m57-15h0m57-24h0m56 26h0m57-26h0m56 68h0m57-16h0m57-30h0m56 15h0m57-53h0m57-27h0m56-55h0m57-14h0m57-138h0m56-157h0m57 181h0m57 125h0m56 48h0m57-11h0m56 77h0m57 41h0m57-6h0m56 21h0m57-33h0m57 61h0m56 27h0m57-25h0m57-7h0m56 5h0m57-6h0m56-36h0m57 26h0m57 7h0m56-28h0m57-27h0m57 35h0m56 26h0m57-85h0m57 7h0m56-96h0m57-51h0m57-16h0m56 40h0m57 59h0m56 99h0m57-12h0m57-31h0m56 10h0m57 16h0m57 38h0m56 3h0m57 5h0m57 60h0m56-70h0m57 36h0m56-20h0m57 10h0m57-48h0m56 10h0m57 25h0m57-18h0" stroke="#0000ff" stroke-opacity="0.410" stroke-width="52.0" stroke-linecap="round" fill="none"/>
<path d="M1085 7151h0m57 41h0m56-2h0m57-100h0m57 110h0m56-43h0m57 3h0m57-22h0m56 27h0m57 10h0m57-43h0m56-16h0m57-4h0m56-54h0m57 24h0m57-186h0m56 15h0m57 69h0m57 85h0m56-24h0m57 93h0m57 1h0m56-3h0m57-6h0m57-24h0m56 71h0m57-16h0m56-13h0m57-4h0m57 21h0m56 32h0m57-73h0m57 57h0m56 36h0m57-65h0m57-4h0m56-21h0m57-23h0m56 6h0m57-38h0m57-33h0m56-100h0m57-265h0m57 205h0m56 92h0m57 35h0m57-2h0m56 57h0m57 21h0m57 0h0m56 40h0m57-50h0m56 47h0m57-24h0m57-10h0m56 24h0m57-33h0m57 28h0m56-26h0m57-17h0m57-30h0m56 38h0m57-32h0m56 25h0m57-19h0m57-60h0m56-73h0m57-127h0m57-386h0m56-5h0m57 311h0m57 171h0m56 87h0m57 17h0m57-6h0m56 39h0m57-44h0m56 77h0m57 7h0m57 0h0m56 11h0m57-37h0m57 66h0m56 53h0m57-77h0m57 26h0m56 3h0m57-18h0m56 15h0m57-14h0m57-51h0m56-12h0m57-67h0m57-60h0m56-105h0m57-44h0m57 116h0m56 140h0m57 19h0m57 73h0m56 12h0m57-27h0m56-24h0m57 59h0m57 41h0m56 6h0m57 19h0m57-50h0m56 14h0m57-21h0m57-8h0m56 21h0m57-25h0m56 66h0m57-34h0m57-6h0m56 22h0m57-7h0m57-3h0m56-31h0m57-155h0m57-48h0m56-62h0m57 111h0m57 107h0m56-38h0m57 44h0m56 37h0m57-39h0m57 67h0m56-1h0m57 25h0m57-22h0m56-50h0m57 18h0m57 17h0m56 5h0m57 29h0m56-17h0m57-19h0m57-6h0m56 23h0" stroke="#0000ff" stroke-opacity="0.410" stroke-width="52.0" stroke-linecap="round" fill="none"/>
<path d="M1090 7159h0m57-41h0m56 120h0m57-72h0m56 27h0m57-48h0m57 32h0m56 2h0m57-18h0m57 39h0m56-12h0m57-37h0m57-45h0m56-30h0m57-74h0m56-94h0m57 18h0m57 108h0m56-10h0m57 63h0m57 46h0m56-14h0m57 5h0m57-15h0m56 30h0m57-29h0m57 62h0m56-22h0m57-21h0m56 53h0m57-55h0m57 50h0m56-2h0m57-15h0m57-5h0m56-9h0m57 7h0m57-9h0m56-66h0m57-4h0m56-60h0m57-147h0m57-162h0m56 139h0m57 72h0m57 122h0m56 81h0m57-19h0m57-34h0m56 8h0m57-16h0m57 40h0m56-69h0m57 64h0m56 44h0m57-58h0m57-23h0m56 46h0m57-33h0m57 7h0m56-27h0m57 14h0m57-75h0m56 85h0m57-103h0m56 36h0m57-66h0m57-212h0m56-359h0m57 30h0m57 341h0m56 132h0m57 33h0m57 80h0m56 13h0m57 20h0m57-2h0m56-8h0m57 51h0m56 13h0m57 4h0m57 2h0m56 37h0m57-25h0m57 14h0m56-25h0m57-18h0m57 8h0m56 13h0m57 3h0m56-29h0m57-44h0m57-69h0m56-59h0m57-100h0m57-82h0m56 153h0m57 126h0m57 16h0m56 55h0m57-5h0m57 3h0m56 36h0m57 49h0m56-17h0m57 11h0m57 36h0m56 10h0m57-24h0m57 22h0m56-43h0m57 13h0m57 31h0m56 36h0m57-77h0m56 10h0m57-30h0m57 2h0m56-67h0m57 8h0m57-58h0m56-115h0m57-10h0m57 116h0m56 44h0m57 29h0m57 43h0m56-28h0m57 18h0m56 37h0m57-4h0m57-32h0m56 28h0m57 15h0m57 12h0m56 1h0m57-28h0m57 22h0m56-48h0m57 24h0m56-30h0m57 45h0" stroke="#0000ff" stroke-opacity="0.410" stroke-width="52.0" stroke-linecap="round" fill="none"/>
<path d="M1095 7172h0m56-74h0m57 38h0m57 21h0m56 24h0m57-32h0m56 37h0m57-19h0m57-2h0m56-42h0m57 32h0m57 13h0m56-51h0m57-29h0m57-125h0m56-104h0m57 91h0m56 95h0m57 19h0m57 3h0m56 116h0m57-52h0m57-34h0m56 67h0m57-23h0m57-28h0m56 26h0m57 6h0m57 13h0m56 13h0m57-22h0m56 6h0m57 43h0m57-63h0m56 36h0m57-24h0m57 10h0m56-50h0m57 4h0m57-40h0m56-123h0m57-94h0m56-155h0m57 150h0m57 93h0m56 63h0m57 40h0m57-44h0m56 61h0m57 8h0m57 45h0m56-20h0m57-21h0m57-24h0m56 74h0m57-6h0m56-72h0m57 21h0m57 25h0m56-27h0m57-4h0m57-5h0m56 25h0m57-72h0m57 13h0m56-44h0m57-47h0m56-234h0m57-323h0m57 125h0m56 276h0m57 67h0m57 114h0m56 26h0m57-49h0m57 51h0m56 13h0m57 28h0m57-17h0m56 18h0m57 22h0m56 46h0m57-26h0m57 24h0m56-35h0m57-9h0m57 16h0m56 64h0m57-59h0m57 17h0m56-30h0m57-17h0m56-61h0m57-49h0m57-115h0m56-90h0m57 135h0m57 91h0m56 108h0m57-2h0m57-36h0m56 67h0m57 20h0m57 38h0m56-20h0m57 23h0m56 22h0m57-18h0m57-27h0m56 78h0m57-54h0m57 2h0m56-22h0m57 10h0m57 6h0m56-3h0m57 33h0m56-81h0m57 26h0m57-86h0m56-75h0m57-55h0m57-60h0m56 132h0m57 30h0m57 62h0m56-12h0m57 53h0m57-1h0m56 20h0m57 37h0m56-1h0m57-42h0m57 46h0m56-47h0m57-31h0m57 27h0m56 31h0m57-24h0m57-8h0m56 14h0" stroke="#0000ff" stroke-opacity="0.410" stroke-width="52.0" stroke-linecap="round" fill="none"/>
<path d="M1099 7177h0m57-7h0m57-8h0m56 22h0m57-17h0m57-7h0m56-24h0m57 33h0m56-5h0m57 30h0m57-65h0m56 22h0m57-52h0m57 5h0m56-102h0m57-112h0m57 95h0m56 45h0m57 31h0m56 52h0m57-33h0m57-15h0m56 122h0m57-11h0m57-81h0m56 36h0m57 29h0m57-23h0m56 10h0m57 43h0m57 5h0m56-52h0m57 82h0m56-47h0m57-10h0m57-41h0m56 11h0m57 8h0m57-10h0m56-101h0m57-82h0m57-146h0m56-80h0m57 176h0m56 41h0m57 82h0m57 3h0m56 33h0m57-23h0m57 20h0m56-34h0m57 93h0m57-65h0m56 40h0m57-29h0m57 56h0m56 14h0m57-72h0m56 6h0m57 41h0m57-31h0m56 24h0m57-28h0m57-31h0m56-4h0m57-84h0m57-55h0m56-260h0m57-350h0m56 227h0m57 241h0m57 70h0m56 76h0m57 76h0m57-9h0m56 45h0m57-1h0m57 1h0m56-23h0m57 81h0m57 40h0m56-74h0m57 57h0m56 29h0m57-37h0m57-9h0m56-31h0m57 48h0m57 32h0m56-31h0m57-34h0m57-101h0m56-13h0m57-55h0m56-90h0m57-125h0m57 208h0m56 80h0m57 19h0m57 31h0m56 49h0m57 43h0m57-14h0m56 23h0m57 27h0m57-21h0m56-6h0m57 23h0m56 28h0m57-35h0m57 17h0m56 2h0m57-82h0m57 50h0m56 1h0m57-6h0m57 23h0m56-44h0m57-15h0m56-39h0m57-33h0m57-64h0m56-69h0m57 119h0m57 50h0m56 27h0m57 12h0m57 48h0m56-27h0m57 41h0m57-13h0m56 11h0m57-26h0m56 3h0m57-13h0m57-14h0m56 65h0m57-71h0m57 47h0m56 16h0m57-48h0" stroke="#0000ff" stroke-opacity="0.410" stroke-width="52.0" stroke-linecap="round" fill="none"/>
<path d="M1104 7177h0m57 11h0m56-20h0m57-43h0m57 28h0m56 0h0m57-30h0m57 82h0m56-35h0m57-42h0m56 6h0m57 28h0m57-37h0m56-17h0m57-127h0m57-128h0m56 109h0m57 74h0m57 48h0m56-39h0m57 40h0m56 30h0m57-21h0m57 32h0m56 28h0m57-33h0m57 34h0m56 0h0m57-18h0m57 13h0m56-24h0m57 22h0m57 60h0m56-23h0m57-17h0m56-13h0m57-20h0m57-42h0m56 17h0m57-91h0m57-29h0m56-108h0m57-111h0m57 136h0m56 43h0m57 81h0m56 26h0m57 4h0m57 13h0m56 13h0m57 16h0m57-13h0m56-62h0m57 63h0m57 28h0m56-7h0m57-66h0m57 22h0m56 30h0m57 8h0m56-72h0m57 47h0m57-27h0m56-2h0m57-7h0m57-81h0m56-59h0m57-340h0m57-255h0m56 272h0m57 138h0m56 154h0m57 31h0m57 26h0m56 57h0m57-3h0m57 34h0m56 11h0m57 15h0m57 28h0m56-26h0m57 90h0m57-70h0m56 36h0m57-42h0m56 16h0m57-11h0m57-8h0m56 53h0m57-6h0m57-95h0m56-7h0m57-23h0m57-111h0m56-102h0m57-58h0m56 187h0m57 130h0m57-25h0m56 48h0m57 18h0m57 15h0m56 18h0m57 8h0m57-11h0m56 58h0m57 5h0m57-23h0m56 15h0m57-48h0m56 36h0m57 23h0m57-52h0m56 44h0m57-44h0m57 32h0m56-17h0m57-34h0m57-45h0m56-5h0m57-78h0m56-75h0m57 3h0m57 133h0m56-5h0m57 41h0m57-4h0m56 2h0m57 76h0m57 9h0m56 31h0m57-39h0m57 0h0m56-16h0m57-4h0m56 37h0m57-25h0m57 2h0m56-10h0m57 26h0m57-47h0" stroke="#0000ff" stroke-opacity="0.410" stroke-width="52.0" stroke-linecap="round" fill="none"/>
<path d="M1109 7146h0m56 21h0m57-38h0m57 28h0m56 44h0m57-17h0m57-26h0m56-48h0m57 47h0m57-9h0m56 41h0m57-15h0m56-61h0m57-68h0m57-79h0m56-75h0m57 80h0m57 54h0m56 48h0m57 47h0m57 25h0m56-15h0m57-2h0m56-23h0m57-1h0m57 112h0m56-105h0m57 95h0m57-80h0m56 31h0m57-34h0m57 30h0m56-10h0m57 33h0m57-57h0m56 30h0m57-20h0m56-1h0m57-38h0m57-70h0m56-63h0m57-169h0m57 4h0m56 94h0m57 66h0m57 77h0m56-13h0m57 33h0m56 64h0m57-26h0m57-26h0m56 51h0m57-6h0m57-15h0m56-4h0m57 15h0m57 27h0m56-35h0m57-22h0m57-5h0m56 30h0m57-31h0m56 4h0m57-47h0m57-25h0m56-58h0m57-79h0m57-271h0m56-277h0m57 283h0m57 186h0m56 100h0m57 99h0m56-29h0m57 2h0m57 55h0m56 1h0m57-2h0m57 3h0m56-7h0m57 103h0m57 37h0m56-86h0m57 6h0m57 2h0m56-17h0m57 71h0m56-53h0m57 20h0m57-18h0m56-11h0m57-90h0m57 8h0m56-81h0m57-152h0m57 22h0m56 120h0m57 125h0m56 16h0m57 40h0m57-33h0m56 26h0m57 58h0m57 8h0m56 0h0m57 27h0m57 16h0m56-56h0m57-1h0m57-12h0m56 26h0m57 22h0m56 8h0m57-33h0m57 24h0m56-37h0m57 54h0m57-98h0m56-1h0m57-68h0m57-47h0m56-58h0m57 14h0m56 133h0m57 26h0m57 22h0m56 2h0m57 11h0m57-7h0m56 45h0m57-2h0m57 13h0m56 18h0m57-45h0m57 48h0m56-55h0m57 5h0m56 13h0m57-47h0m57 69h0m56 1h0" stroke="#0000ff" stroke-opacity="0.410" stroke-width="52.0" stroke-linecap="round" fill="none"/>
<path d="M1113 7133h0m57 60h0m57-5h0m56-51h0m57 53h0m57-2h0m56-7h0m57 32h0m57-65h0m56-5h0m57 16h0m57 2h0m56-74h0m57-41h0m56-60h0m57-72h0m57 59h0m56 29h0m57 111h0m57-14h0m56 18h0m57 0h0m57-8h0m56-7h0m57 50h0m56 0h0m57-7h0m57-44h0m56 38h0m57 11h0m57-18h0m56 40h0m57-33h0m57 51h0m56-13h0m57-61h0m57 41h0m56-38h0m57-49h0m56 16h0m57-139h0m57-183h0m56-11h0m57 112h0m57 82h0m56 107h0m57 15h0m57-40h0m56 30h0m57-29h0m56 63h0m57-27h0m57 14h0m56 45h0m57-45h0m57 22h0m56-48h0m57 31h0m57 6h0m56-17h0m57 14h0m57-86h0m56 43h0m57-10h0m56-25h0m57-51h0m57-103h0m56-360h0m57-239h0m57 371h0m56 157h0m57 94h0m57 40h0m56 42h0m57 42h0m56-32h0m57 26h0m57 29h0m56 4h0m57 2h0m57 8h0m56 63h0m57-21h0m57-7h0m56 6h0m57 4h0m57 37h0m56-38h0m57-25h0m56-2h0m57 12h0m57-38h0m56-82h0m57-45h0m57-164h0m56 73h0m57 100h0m57 71h0m56 54h0m57 3h0m56 24h0m57 26h0m57 19h0m56-4h0m57 35h0m57-46h0m56 56h0m57-5h0m57 9h0m56 2h0m57-10h0m57-18h0m56 2h0m57-15h0m56-2h0m57 11h0m57 7h0m56-32h0m57-48h0m57-28h0m56-24h0m57-109h0m57 55h0m56 44h0m57 68h0m56-13h0m57 16h0m57 12h0m56 21h0m57 89h0m57-32h0m56-51h0m57 38h0m57-58h0m56 45h0m57 7h0m57 34h0m56-43h0m57 14h0m56 2h0m57-14h0" stroke="#0000ff" stroke-opacity="0.410" stroke-width="52.0" stroke-linecap="round" fill="none"/>
<path d="M1118 7123h0m57 51h0m56 14h0m57 1h0m57-9h0m56-28h0m57 9h0m57 31h0m56-20h0m57-12h0m57-1h0m56-20h0m57-67h0m57-19h0m56-110h0m57-47h0m56 93h0m57 50h0m57 40h0m56-15h0m57 61h0m57-40h0m56 41h0m57 20h0m57 10h0m56-20h0m57 9h0m56-24h0m57 20h0m57 44h0m56 23h0m57-50h0m57 7h0m56 19h0m57-56h0m57 17h0m56-58h0m57-10h0m57-14h0m56-43h0m57-86h0m56-164h0m57-6h0m57 141h0m56 26h0m57 139h0m57-13h0m56-7h0m57 3h0m57 59h0m56-42h0m57 1h0m56 61h0m57-33h0m57 13h0m56-17h0m57-8h0m57-25h0m56-36h0m57 74h0m57-38h0m56-28h0m57 0h0m57-13h0m56 14h0m57-91h0m56-117h0m57-287h0m57-271h0m56 372h0m57 171h0m57 50h0m56 67h0m57 12h0m57 14h0m56 102h0m57-16h0m56 14h0m57 0h0m57-38h0m56 82h0m57-10h0m57 45h0m56-34h0m57-6h0m57-16h0m56 21h0m57 14h0m57-51h0m56-17h0m57-2h0m56-64h0m57-19h0m57-94h0m56-119h0m57 8h0m57 173h0m56 21h0m57 100h0m57-11h0m56 19h0m57 11h0m56 54h0m57-15h0m57 44h0m56 5h0m57-15h0m57 21h0m56-25h0m57 0h0m57-66h0m56 91h0m57-22h0m57-23h0m56 26h0m57-55h0m56 62h0m57-56h0m57-52h0m56-38h0m57-8h0m57-143h0m56 77h0m57 52h0m57 49h0m56 43h0m57 31h0m56-13h0m57 12h0m57-24h0m56 65h0m57-23h0m57 72h0m56-43h0m57-11h0m57 29h0m56-74h0m57-1h0m57 5h0m56 37h0m57 19h0" stroke="#0000ff" stroke-opacity="0.410" stroke-width="52.0" stroke-linecap="round" fill="none"/>
<path d="M1123 7190h0m57-41h0m56 53h0m57-51h0m56 52h0m57-62h0m57 27h0m56 6h0m57 2h0m57-21h0m56 5h0m57 11h0m57-50h0m56-44h0m57-117h0m57-35h0m56 70h0m57 31h0m56 86h0m57 21h0m57-44h0m56 54h0m57-90h0m57 69h0m56 33h0m57-17h0m57 43h0m56-29h0m57 14h0m56 0h0m57-9h0m57 12h0m56 25h0m57-31h0m57-32h0m56 34h0m57-55h0m57-22h0m56-40h0m57 21h0m57-120h0m56-235h0m57 109h0m56 144h0m57 35h0m57-22h0m56 65h0m57 30h0m57 40h0m56-21h0m57 11h0m57-1h0m56-29h0m57 44h0m56 8h0m57-50h0m57 2h0m56-15h0m57-16h0m57 39h0m56 8h0m57-59h0m57 10h0m56-23h0m57-11h0m57-66h0m56-113h0m57-339h0m56-199h0m57 402h0m57 125h0m56 102h0m57 27h0m57 12h0m56 16h0m57 10h0m57 38h0m56-2h0m57 36h0m56-15h0m57 1h0m57 74h0m56-14h0m57-27h0m57 23h0m56-34h0m57 25h0m57 10h0m56 2h0m57-30h0m57-115h0m56 55h0m57-81h0m56-103h0m57-84h0m57 46h0m56 123h0m57 59h0m57 41h0m56-5h0m57 84h0m57-3h0m56 1h0m57 16h0m56 53h0m57-37h0m57 52h0m56-45h0m57-9h0m57 24h0m56-17h0m57-34h0m57-28h0m56 104h0m57-69h0m57 40h0m56-29h0m57-8h0m56-54h0m57-42h0m57-64h0m56-68h0m57 51h0m57 59h0m56 68h0m57-8h0m57 59h0m56 30h0m57-7h0m56-12h0m57 19h0m57-32h0m56 32h0m57-14h0m57-22h0m56 54h0m57-59h0m57 26h0m56-5h0m57 22h0m57 0h0" stroke="#0000ff" stroke-opacity="0.410" stroke-width="52.0" stroke-linecap="round" fill="none"/>
</g></g>
<g clip-path="url(#c6)">
<g transform="scale(0.1)">
<path fill="none" stroke="#ff0000" stroke-width="28.0" stroke-linejoin="round" stroke-linecap="round" d="M1052 8429l509 1 322 33 13 0 11-3 10-9 10-18 13-36 13-45 24-107 33-211 14-69 10-37 7-17 6-12 4-4 6-3 10 6 10 15 54 107 23 38 27 30 64 58 33 20 91 40 100 26 47 10 188 15 369 15 214 26 33 2 322-19 225-9 33 1 215 16 217-5 104-4 74-5 67-9 54-10 36-11 31-12 23-13 24-17 20-19 16-21 17-26 17-34 27-73 26-105 21-102 36-214 14-66 13-43 7-12 7-3 6 5 7 13 7 20 10 41 50 284 24 112 23 85 23 61 17 33 17 26 20 24 20 18 24 16 26 13 31 12 36 10 57 10 74 8 97 6 131 6 469 3 248-18 332 27 613-30 114-23 40-10 154-48 20-9 20-13 67-50 14-13 10-13 17-34 33-93 13-32 14-23 10-8 7 3 6 10 7 17 10 36 17 80 37 201 13 59 17 58 13 36 14 23 16 15 24 12 23 6 27 1 436-30 355-18 214-6"/>
<path d="M1071 8398h0m57 3h0m56 10h0m57 5h0m57-20h0m56 43h0m57-34h0m56 14h0m57-36h0m57 6h0m56-3h0m57-7h0m57-32h0m56 37h0m57-20h0m57-84h0m56-166h0m57-166h0m57 38h0m56 84h0m57 85h0m56 19h0m57 22h0m57 74h0m56 1h0m57-2h0m57 13h0m56-7h0m57 66h0m57-6h0m56-34h0m57 15h0m56-23h0m57-23h0m57 8h0m56-7h0m57-28h0m57-6h0m56 39h0m57 31h0m57-20h0m56 21h0m57-17h0m57 49h0m56-25h0m57-20h0m56-1h0m57-17h0m57 20h0m56 12h0m57-14h0m57-38h0m56 11h0m57 35h0m57-21h0m56 28h0m57 18h0m56-34h0m57 8h0m57 16h0m56-23h0m57 31h0m57-47h0m56 40h0m57-43h0m57-38h0m56-112h0m57-168h0m57-256h0m56-156h0m57 285h0m56 217h0m57 150h0m57 57h0m56 49h0m57 23h0m57-2h0m56 45h0m57-28h0m57 12h0m56-6h0m57-8h0m56 5h0m57 47h0m57-15h0m56-39h0m57-5h0m57-9h0m56-7h0m57-15h0m57 22h0m56-5h0m57-37h0m57 24h0m56 19h0m57 8h0m56 33h0m57-10h0m57 19h0m56-16h0m57 34h0m57-35h0m56 14h0m57 15h0m57-13h0m56 9h0m57 26h0m56-20h0m57-60h0m57 7h0m56-22h0m57 64h0m57-37h0m56-33h0m57-14h0m57-9h0m56 20h0m57-19h0m57-69h0m56-130h0m57-95h0m56 85h0m57 113h0m57 124h0m56 65h0m57-23h0m57 54h0m56-69h0m57 66h0m57 19h0m56 11h0m57-44h0m56 26h0m57 4h0m57-28h0m56 7h0m57-40h0m57 37h0m56-24h0m57 46h0m57-11h0m56 8h0" stroke="#0000ff" stroke-opacity="0.410" stroke-width="52.0" stroke-linecap="round" fill="none"/>
<path d="M1076 8417h0m56-11h0m57 1h0m57-7h0m56 37h0m57-50h0m57 43h0m56-23h0m57-8h0m56 58h0m57-40h0m57 34h0m56-51h0m57-54h0m57-30h0m56-56h0m57-155h0m57-207h0m56 133h0m57 27h0m57 106h0m56 52h0m57 35h0m56 7h0m57 9h0m57 24h0m56-7h0m57 5h0m57-9h0m56 14h0m57 0h0m57 19h0m56-19h0m57 3h0m56-5h0m57-22h0m57-26h0m56-6h0m57 52h0m57-5h0m56 34h0m57 23h0m57-18h0m56 4h0m57 0h0m57-34h0m56 3h0m57 24h0m56-47h0m57 12h0m57-59h0m56 48h0m57 5h0m57 28h0m56 19h0m57-9h0m57 7h0m56 3h0m57-5h0m56-29h0m57 40h0m57-31h0m56-10h0m57 14h0m57-10h0m56-64h0m57-121h0m57-187h0m56-281h0m57-114h0m57 318h0m56 220h0m57 85h0m56 88h0m57 51h0m57 24h0m56 43h0m57-3h0m57 35h0m56-40h0m57 35h0m57-17h0m56 21h0m57 2h0m56-9h0m57-89h0m57 50h0m56-14h0m57-14h0m57 6h0m56-14h0m57-44h0m57 68h0m56-6h0m57-25h0m57 23h0m56 35h0m57-9h0m56-13h0m57 50h0m57 11h0m56-25h0m57 4h0m57 23h0m56 1h0m57-17h0m57-9h0m56-13h0m57-24h0m56-6h0m57 42h0m57-47h0m56-19h0m57-19h0m57-41h0m56 39h0m57 0h0m57-3h0m56-136h0m57-42h0m57-154h0m56 128h0m57 161h0m56 91h0m57 32h0m57 27h0m56-8h0m57 12h0m57 22h0m56-40h0m57 26h0m57-16h0m56-6h0m57 62h0m56-62h0m57 25h0m57 11h0m56-21h0m57 34h0m57-21h0m56-10h0m57-4h0" stroke="#0000ff" stroke-opacity="0.410" stroke-width="52.0" stroke-linecap="round" fill="none"/>
<path d="M1080 8379h0m57 17h0m57 6h0m56 9h0m57 3h0m57 18h0m56-35h0m57 71h0m57-63h0m56-51h0m57 46h0m56 29h0m57-64h0m57-15h0m56-43h0m57-10h0m57-243h0m56-127h0m57 46h0m57 135h0m56 29h0m57 71h0m57 30h0m56 68h0m57-59h0m56 40h0m57 19h0m57-5h0m56-20h0m57 12h0m57 13h0m56 7h0m57 7h0m57 11h0m56-30h0m57-10h0m56-8h0m57-38h0m57 43h0m56-7h0m57 18h0m57 42h0m56 7h0m57-61h0m57-6h0m56 29h0m57-44h0m57 31h0m56-37h0m57 14h0m56 8h0m57 12h0m57 19h0m56-45h0m57 72h0m57-37h0m56 50h0m57-26h0m57-9h0m56 0h0m57-2h0m56 2h0m57 11h0m57-17h0m56-27h0m57-46h0m57-135h0m56-198h0m57-271h0m57-50h0m56 254h0m57 298h0m57 82h0m56 60h0m57 49h0m56 21h0m57 16h0m57-89h0m56 98h0m57-18h0m57 5h0m56-3h0m57 13h0m57 7h0m56 3h0m57-8h0m56-17h0m57-48h0m57 39h0m56-31h0m57-3h0m57-12h0m56 13h0m57 4h0m57 19h0m56 5h0m57 10h0m57 13h0m56-4h0m57 41h0m56 13h0m57-68h0m57 85h0m56-38h0m57-15h0m57 39h0m56 7h0m57-15h0m57-31h0m56-13h0m57-61h0m56 8h0m57 29h0m57-41h0m56-25h0m57 22h0m57-22h0m56-3h0m57-132h0m57-89h0m56-120h0m57 202h0m57 94h0m56 138h0m57 10h0m56-10h0m57 19h0m57-1h0m56 11h0m57 34h0m57-46h0m56 44h0m57-18h0m57 11h0m56-28h0m57 16h0m56-18h0m57 23h0m57 11h0m56-19h0m57-4h0m57 41h0" stroke="#0000ff" stroke-opacity="0.410" stroke-width="52.0" stroke-linecap="round" fill="none"/>
<path d="M1085 8412h0m57-2h0m56-6h0m57 9h0m57-14h0m56 30h0m57-6h0m57-9h0m56-27h0m57 0h0m57 15h0m56 35h0m57-53h0m56-28h0m57-40h0m57-63h0m56-223h0m57-100h0m57 67h0m56 101h0m57 51h0m57 65h0m56 51h0m57-10h0m57 29h0m56-10h0m57 21h0m56-14h0m57-1h0m57 35h0m56-9h0m57 5h0m57 27h0m56-53h0m57-31h0m57 39h0m56-11h0m57 26h0m56 1h0m57 1h0m57-10h0m56 15h0m57 9h0m57-15h0m56 29h0m57-32h0m57-48h0m56 7h0m57 12h0m57-14h0m56 6h0m57 25h0m56 22h0m57-33h0m57 36h0m56-3h0m57 10h0m57 8h0m56 4h0m57 1h0m57-13h0m56 1h0m57-1h0m56-27h0m57 7h0m57-101h0m56-128h0m57-173h0m57-312h0m56 41h0m57 295h0m57 210h0m56 103h0m57 45h0m57 11h0m56 44h0m57-10h0m56 56h0m57-60h0m57 18h0m56 46h0m57-21h0m57 4h0m56-19h0m57 50h0m57-51h0m56-7h0m57-24h0m56-18h0m57 11h0m57 19h0m56-44h0m57 19h0m57-12h0m56 45h0m57-11h0m57 6h0m56 44h0m57-60h0m57 54h0m56 22h0m57 44h0m56-53h0m57 15h0m57 10h0m56 25h0m57 0h0m57-83h0m56-22h0m57-6h0m57 24h0m56-71h0m57 32h0m56 30h0m57-44h0m57-7h0m56-9h0m57-29h0m57-60h0m56-156h0m57-34h0m57 152h0m56 118h0m57 67h0m57 16h0m56 34h0m57-40h0m56 43h0m57 9h0m57-15h0m56 27h0m57-7h0m57 29h0m56-54h0m57 3h0m57 12h0m56 0h0m57 47h0m56-20h0m57-29h0m57 35h0m56-18h0" stroke="#0000ff" stroke-opacity="0.410" stroke-width="52.0" stroke-linecap="round" fill="none"/>
<path d="M1090 8367h0m57 61h0m56-53h0m57 94h0m56-64h0m57 37h0m57-28h0m56-37h0m57 21h0m57 8h0m56-32h0m57-9h0m57 13h0m56-18h0m57-77h0m56-26h0m57-263h0m57-51h0m56 65h0m57 93h0m57 76h0m56 55h0m57 18h0m57 3h0m56-6h0m57 23h0m57 23h0m56-24h0m57-46h0m56 73h0m57 49h0m57-5h0m56-69h0m57 16h0m57 5h0m56-77h0m57 69h0m57-14h0m56 21h0m57 74h0m56 51h0m57-104h0m57-16h0m56-3h0m57 10h0m57 1h0m56-10h0m57 1h0m57 5h0m56-49h0m57 37h0m57 7h0m56 15h0m57-1h0m56-7h0m57 27h0m57-14h0m56 28h0m57-20h0m57-11h0m56 28h0m57-36h0m57 63h0m56-83h0m57-38h0m56-27h0m57-157h0m57-185h0m56-273h0m57 30h0m57 309h0m56 200h0m57 83h0m57 30h0m56 65h0m57-19h0m57 55h0m56-23h0m57 23h0m56-30h0m57-2h0m57 47h0m56-14h0m57 21h0m57-7h0m56-33h0m57-9h0m57-35h0m56 23h0m57 39h0m56-27h0m57-48h0m57 16h0m56 26h0m57-5h0m57 54h0m56-49h0m57 53h0m57-31h0m56 24h0m57 42h0m57 7h0m56-58h0m57 27h0m56 25h0m57-4h0m57-35h0m56 13h0m57-55h0m57-16h0m56 24h0m57 0h0m57 9h0m56-61h0m57 11h0m56 4h0m57-16h0m57-37h0m56-117h0m57-81h0m57-93h0m56 164h0m57 212h0m57 25h0m56 29h0m57 13h0m57 0h0m56-30h0m57 38h0m56-51h0m57 38h0m57-3h0m56-4h0m57 9h0m57 27h0m56-12h0m57-42h0m57 26h0m56-1h0m57 20h0m56 28h0m57-39h0" stroke="#0000ff" stroke-opacity="0.410" stroke-width="52.0" stroke-linecap="round" fill="none"/>
<path d="M1095 8388h0m56 45h0m57-27h0m57 126h0m56-150h0m57 50h0m56-34h0m57-17h0m57 1h0m56 43h0m57-45h0m57-4h0m56-7h0m57 2h0m57-19h0m56-139h0m57-209h0m56-35h0m57 55h0m57 58h0m56 78h0m57 43h0m57 37h0m56 24h0m57-36h0m57 59h0m56 10h0m57 1h0m57 19h0m56-33h0m57 48h0m56-55h0m57 36h0m57 4h0m56-58h0m57-4h0m57 15h0m56-40h0m57 47h0m57 69h0m56-46h0m57-1h0m56 59h0m57-43h0m57 16h0m56-18h0m57-22h0m57 5h0m56-11h0m57 1h0m57-57h0m56 58h0m57 3h0m57-11h0m56 71h0m57-75h0m56 54h0m57 0h0m57-24h0m56 23h0m57-27h0m57 30h0m56-15h0m57 42h0m57-98h0m56-77h0m57-152h0m56-134h0m57-297h0m57 64h0m56 264h0m57 211h0m57 108h0m56 35h0m57 43h0m57 29h0m56 0h0m57 16h0m57-9h0m56-31h0m57 40h0m56-31h0m57 32h0m57 14h0m56-13h0m57-68h0m57 56h0m56-44h0m57-21h0m57 6h0m56 22h0m57-18h0m56-6h0m57 39h0m57-56h0m56 50h0m57 23h0m57 10h0m56 5h0m57 28h0m57-70h0m56 47h0m57-16h0m57 42h0m56-18h0m57 84h0m56-84h0m57-12h0m57-18h0m56-2h0m57-72h0m57 43h0m56 14h0m57-47h0m57 17h0m56-43h0m57-46h0m56-16h0m57-74h0m57-97h0m56-46h0m57 154h0m57 170h0m56 34h0m57 46h0m57-5h0m56 7h0m57-40h0m57 38h0m56 54h0m57-55h0m56 8h0m57-1h0m57 21h0m56 27h0m57-37h0m57 48h0m56-48h0m57-12h0m57-24h0m56 73h0" stroke="#0000ff" stroke-opacity="0.410" stroke-width="52.0" stroke-linecap="round" fill="none"/>
<path d="M1099 8406h0m57-29h0m57-17h0m56 3h0m57 60h0m57 0h0m56-1h0m57-35h0m56 26h0m57 20h0m57-33h0m56 6h0m57-41h0m57 10h0m56-73h0m57-107h0m57-221h0m56-2h0m57 64h0m56 49h0m57 83h0m57 81h0m56-7h0m57 22h0m57-2h0m56 36h0m57-6h0m57 36h0m56-50h0m57 4h0m57 82h0m56-78h0m57 10h0m56-18h0m57-14h0m57 40h0m56-47h0m57 13h0m57 21h0m56 35h0m57-40h0m57 55h0m56 7h0m57-23h0m56-37h0m57 21h0m57-8h0m56 23h0m57-72h0m57 16h0m56 60h0m57-4h0m57-87h0m56 30h0m57 48h0m57-6h0m56 10h0m57 23h0m56-39h0m57 16h0m57 19h0m56-10h0m57-33h0m57 49h0m56-71h0m57-95h0m57-118h0m56-257h0m57-240h0m56 45h0m57 370h0m57 163h0m56 168h0m57 1h0m57 4h0m56-3h0m57 44h0m57-3h0m56 8h0m57 2h0m57 44h0m56-3h0m57-27h0m56-5h0m57 2h0m57-17h0m56-51h0m57 44h0m57-66h0m56 18h0m57 2h0m57 31h0m56-2h0m57 33h0m56-25h0m57-34h0m57 56h0m56-16h0m57 29h0m57-18h0m56-8h0m57 36h0m57-14h0m56 57h0m57-32h0m57 18h0m56-18h0m57-43h0m56 7h0m57-68h0m57 56h0m56-61h0m57 27h0m57 8h0m56-47h0m57-14h0m57 8h0m56-45h0m57-105h0m56-110h0m57-14h0m57 148h0m56 203h0m57-23h0m57 30h0m56 13h0m57 36h0m57-41h0m56 50h0m57-61h0m57 15h0m56 30h0m57-3h0m56-15h0m57 21h0m57-8h0m56 27h0m57-1h0m57-40h0m56-10h0m57 14h0" stroke="#0000ff" stroke-opacity="0.410" stroke-width="52.0" stroke-linecap="round" fill="none"/>
<path d="M1104 8413h0m57-3h0m56-8h0m57-15h0m57 29h0m56 41h0m57-25h0m57-26h0m56 34h0m57-105h0m56 34h0m57 15h0m57-33h0m56 25h0m57-60h0m57-117h0m56-208h0m57-43h0m57 77h0m56 84h0m57 53h0m56 60h0m57 6h0m57 63h0m56-11h0m57 6h0m57-1h0m56-8h0m57-24h0m57 41h0m56 23h0m57-31h0m57 19h0m56-20h0m57 10h0m56-24h0m57 24h0m57-1h0m56 10h0m57 22h0m57 3h0m56 26h0m57-55h0m57 7h0m56 2h0m57-38h0m56-81h0m57 77h0m57 18h0m56-5h0m57 12h0m57-3h0m56 27h0m57-21h0m57 32h0m56 10h0m57-1h0m57-14h0m56-30h0m57 16h0m56 21h0m57-16h0m57 4h0m56-36h0m57 3h0m57-118h0m56-149h0m57-227h0m57-286h0m56 167h0m57 334h0m56 151h0m57 111h0m57 32h0m56 33h0m57 11h0m57 18h0m56 5h0m57-8h0m57 27h0m56-45h0m57 26h0m57-12h0m56 31h0m57-1h0m56-43h0m57-52h0m57 34h0m56 5h0m57 5h0m57 8h0m56-19h0m57-29h0m57 22h0m56-1h0m57 15h0m56-4h0m57 20h0m57 118h0m56-111h0m57 53h0m57-9h0m56-22h0m57 37h0m57 5h0m56 9h0m57-25h0m57-32h0m56-2h0m57-22h0m56-12h0m57-16h0m57-10h0m56 12h0m57 4h0m57-34h0m56-29h0m57-38h0m57-100h0m56-62h0m57-59h0m56 171h0m57 132h0m57 63h0m56-6h0m57 19h0m57 7h0m56 2h0m57-17h0m57 65h0m56-34h0m57-33h0m57 63h0m56-32h0m57 1h0m56-27h0m57 65h0m57-23h0m56-11h0m57 22h0m57-19h0" stroke="#0000ff" stroke-opacity="0.410" stroke-width="52.0" stroke-linecap="round" fill="none"/>
<path d="M1109 8420h0m56-47h0m57 19h0m57 17h0m56 43h0m57-69h0m57 1h0m56 16h0m57-5h0m57 12h0m56-1h0m57 21h0m56-52h0m57-7h0m57-117h0m56-24h0m57-281h0m57 28h0m56 22h0m57 100h0m57 90h0m56 88h0m57-39h0m56 36h0m57-11h0m57 43h0m56-7h0m57-23h0m57 69h0m56-15h0m57-10h0m57-21h0m56-39h0m57 17h0m57 42h0m56-48h0m57 9h0m56-24h0m57 71h0m57-21h0m56 5h0m57-2h0m57 12h0m56 12h0m57-29h0m57 24h0m56-59h0m57 7h0m56-5h0m57 26h0m57-13h0m56 23h0m57 10h0m57-15h0m56 35h0m57 22h0m57-21h0m56-7h0m57 19h0m57-44h0m56-13h0m57 49h0m56-20h0m57-16h0m57-50h0m56-69h0m57-110h0m57-308h0m56-226h0m57 217h0m57 248h0m56 158h0m57 73h0m56 33h0m57 77h0m57-17h0m56 60h0m57-43h0m57 23h0m56-27h0m57 4h0m57 9h0m56-27h0m57-11h0m57 34h0m56 2h0m57 23h0m56-57h0m57 11h0m57-4h0m56 5h0m57-44h0m57 39h0m56 7h0m57-9h0m57 9h0m56-10h0m57 13h0m56 1h0m57 54h0m57 8h0m56 15h0m57 20h0m57-43h0m56-9h0m57 19h0m57-18h0m56-81h0m57 35h0m57-7h0m56 22h0m57-71h0m56 85h0m57-86h0m57 0h0m56 6h0m57 33h0m57-99h0m56-126h0m57-76h0m57 28h0m56 162h0m57 74h0m56 48h0m57 30h0m57-15h0m56 79h0m57-4h0m57-36h0m56 59h0m57-57h0m57-5h0m56 6h0m57 2h0m57-8h0m56 15h0m57-62h0m56 44h0m57 38h0m57-15h0m56 2h0" stroke="#0000ff" stroke-opacity="0.410" stroke-width="52.0" stroke-linecap="round" fill="none"/>
<path d="M1113 8419h0m57-51h0m57 1h0m56 71h0m57-58h0m57 8h0m56 48h0m57-22h0m57-29h0m56-1h0m57 17h0m57-6h0m56-31h0m57-34h0m56-52h0m57-76h0m57-265h0m56 35h0m57 82h0m57 64h0m56 74h0m57 25h0m57 8h0m56 61h0m57-38h0m56-1h0m57 30h0m57 36h0m56-9h0m57 3h0m57-47h0m56 26h0m57 31h0m57-9h0m56-34h0m57 36h0m57-27h0m56 2h0m57-13h0m56-3h0m57 43h0m57 44h0m56-18h0m57-36h0m57-23h0m56-18h0m57 3h0m57 24h0m56-26h0m57 54h0m56-56h0m57 21h0m57 6h0m56 26h0m57-5h0m57 21h0m56-19h0m57 28h0m57-53h0m56 18h0m57 57h0m57-17h0m56 33h0m57-51h0m56-97h0m57-98h0m57-163h0m56-258h0m57-215h0m57 225h0m56 284h0m57 160h0m57 83h0m56 43h0m57 52h0m56-8h0m57 25h0m57-1h0m56-3h0m57 6h0m57-24h0m56 28h0m57 14h0m57-40h0m56 33h0m57 6h0m57-66h0m56 16h0m57-36h0m56 17h0m57 13h0m57-49h0m56 36h0m57 6h0m57 0h0m56 12h0m57 31h0m57 10h0m56-25h0m57 34h0m56 6h0m57-2h0m57-14h0m56 27h0m57-66h0m57 89h0m56-25h0m57-44h0m57-13h0m56 3h0m57-8h0m57 15h0m56 1h0m57-46h0m56 7h0m57-28h0m57-22h0m56-32h0m57-91h0m57-121h0m56 13h0m57 111h0m57 257h0m56-30h0m57-4h0m56 7h0m57 17h0m57 1h0m56 19h0m57 35h0m57-50h0m56 37h0m57-11h0m57-19h0m56 27h0m57-36h0m57 11h0m56 20h0m57-3h0m56 9h0m57-50h0" stroke="#0000ff" stroke-opacity="0.410" stroke-width="52.0" stroke-linecap="round" fill="none"/>
<path d="M1118 8410h0m57-11h0m56 35h0m57-43h0m57 1h0m56 11h0m57 27h0m57 8h0m56-18h0m57-7h0m57-19h0m56-33h0m57 13h0m57-34h0m56-68h0m57-129h0m56-208h0m57 58h0m57 89h0m56 43h0m57 35h0m57 73h0m56 28h0m57-5h0m57-7h0m56 65h0m57-40h0m56 22h0m57-11h0m57 131h0m56-132h0m57 20h0m57-35h0m56 28h0m57-31h0m57 16h0m56 7h0m57 2h0m57 29h0m56-22h0m57 33h0m56 4h0m57-12h0m57-6h0m56-21h0m57 10h0m57-19h0m56-25h0m57 22h0m57-3h0m56 6h0m57 0h0m56 14h0m57 3h0m57-14h0m56 23h0m57 35h0m57-31h0m56-7h0m57-11h0m57 52h0m56-2h0m57-40h0m57 14h0m56-127h0m57-47h0m56-160h0m57-287h0m57-176h0m56 229h0m57 282h0m57 172h0m56 36h0m57 20h0m57 51h0m56 30h0m57 33h0m56-10h0m57-3h0m57-17h0m56 70h0m57-69h0m57 31h0m56-13h0m57 31h0m57-74h0m56 13h0m57 3h0m57-46h0m56-15h0m57 35h0m56-24h0m57 12h0m57 34h0m56 25h0m57-54h0m57 22h0m56 25h0m57-61h0m57 107h0m56-20h0m57 22h0m56-43h0m57 10h0m57 16h0m56 18h0m57-41h0m57-23h0m56 8h0m57-9h0m57-20h0m56 17h0m57-30h0m57-8h0m56 34h0m57-65h0m56 6h0m57-54h0m57-101h0m56-128h0m57 101h0m57 101h0m56 112h0m57 48h0m57 0h0m56 22h0m57 17h0m56 37h0m57-40h0m57 34h0m56-23h0m57-29h0m57 16h0m56 20h0m57-5h0m57-9h0m56-1h0m57 34h0m57-43h0m56 28h0m57 15h0" stroke="#0000ff" stroke-opacity="0.410" stroke-width="52.0" stroke-linecap="round" fill="none"/>
<path d="M1123 8378h0m57 11h0m56-7h0m57-9h0m56 40h0m57 3h0m57 12h0m56-30h0m57 1h0m57 7h0m56-6h0m57-22h0m57-14h0m56 11h0m57-109h0m57-128h0m56-240h0m57 78h0m56 90h0m57 177h0m57-49h0m56 19h0m57 27h0m57 13h0m56 48h0m57-29h0m57 27h0m56-14h0m57 28h0m56 12h0m57-2h0m57 12h0m56 4h0m57-38h0m57-45h0m56 9h0m57 18h0m57-4h0m56 6h0m57 36h0m57 13h0m56-4h0m57-13h0m56-1h0m57-17h0m57-17h0m56 42h0m57-13h0m57-38h0m56 7h0m57 26h0m57 8h0m56-13h0m57 2h0m56 37h0m57-38h0m57 15h0m56-19h0m57-10h0m57 60h0m56-49h0m57-1h0m57 40h0m56-34h0m57-160h0m57 15h0m56-213h0m57-268h0m56-97h0m57 231h0m57 254h0m56 171h0m57 35h0m57 21h0m56 29h0m57 18h0m57 44h0m56 8h0m57-23h0m56 2h0m57-13h0m57 47h0m56-26h0m57 21h0m57-25h0m56-32h0m57-26h0m57-39h0m56 32h0m57 5h0m57-45h0m56 0h0m57 32h0m56 24h0m57-1h0m57 24h0m56 0h0m57 35h0m57-59h0m56 0h0m57 80h0m57-38h0m56 21h0m57-8h0m56-4h0m57 73h0m57-64h0m56 54h0m57-143h0m57 92h0m56-93h0m57 26h0m57 15h0m56-52h0m57-9h0m57 4h0m56-1h0m57-90h0m56-102h0m57-85h0m57 87h0m56 129h0m57 114h0m57 30h0m56 3h0m57 17h0m57 7h0m56 24h0m57-2h0m56 0h0m57-3h0m57 9h0m56 13h0m57-28h0m57 25h0m56-55h0m57 25h0m57-5h0m56 25h0m57 13h0m57-33h0" stroke="#0000ff" stroke-opacity="0.410" stroke-width="52.0" stroke-linecap="round" fill="none"/>
</g></g>
<path d="M66.7 -0.1V862.9M949.6 -0.1V862.9M66.7 1.2H949.6M66.7 124.1H949.6M66.7 247.0H949.6M66.7 369.9H949.6M66.7 492.9H949.6M66.7 615.8H949.6M66.7 738.7H949.6M66.7 861.6H949.6" stroke="#000" stroke-width="2.60" fill="none" stroke-linecap="square"/>
<path d="M138.1 2.5v4.0M138.1 122.8v-4.0M257.6 2.5v4.0M257.6 122.8v-4.0M377.1 2.5v4.0M377.1 122.8v-4.0M496.6 2.5v4.0M496.6 122.8v-4.0M616.1 2.5v4.0M616.1 122.8v-4.0M735.6 2.5v4.0M735.6 122.8v-4.0M855.1 2.5v4.0M855.1 122.8v-4.0M68.0 109.4h4.0M948.3 109.4h-4.0M68.0 60.2h4.0M948.3 60.2h-4.0M68.0 11.0h4.0M948.3 11.0h-4.0M141.7 125.4v4.0M141.7 245.7v-4.0M260.0 125.4v4.0M260.0 245.7v-4.0M378.3 125.4v4.0M378.3 245.7v-4.0M496.6 125.4v4.0M496.6 245.7v-4.0M614.9 125.4v4.0M614.9 245.7v-4.0M733.2 125.4v4.0M733.2 245.7v-4.0M851.5 125.4v4.0M851.5 245.7v-4.0M68.0 232.3h4.0M948.3 232.3h-4.0M68.0 183.1h4.0M948.3 183.1h-4.0M68.0 133.9h4.0M948.3 133.9h-4.0M142.5 248.3v4.0M142.5 368.6v-4.0M260.5 248.3v4.0M260.5 368.6v-4.0M378.5 248.3v4.0M378.5 368.6v-4.0M496.5 248.3v4.0M496.5 368.6v-4.0M614.5 248.3v4.0M614.5 368.6v-4.0M732.5 248.3v4.0M732.5 368.6v-4.0M850.5 248.3v4.0M850.5 368.6v-4.0M68.0 355.2h4.0M948.3 355.2h-4.0M68.0 306.0h4.0M948.3 306.0h-4.0M68.0 256.9h4.0M948.3 256.9h-4.0M142.5 371.2v4.0M142.5 491.6v-4.0M260.5 371.2v4.0M260.5 491.6v-4.0M378.5 371.2v4.0M378.5 491.6v-4.0M496.5 371.2v4.0M496.5 491.6v-4.0M614.5 371.2v4.0M614.5 491.6v-4.0M732.5 371.2v4.0M732.5 491.6v-4.0M850.5 371.2v4.0M850.5 491.6v-4.0M68.0 478.1h4.0M948.3 478.1h-4.0M68.0 428.9h4.0M948.3 428.9h-4.0M68.0 379.8h4.0M948.3 379.8h-4.0M142.5 494.2v4.0M142.5 614.5v-4.0M260.5 494.2v4.0M260.5 614.5v-4.0M378.5 494.2v4.0M378.5 614.5v-4.0M496.5 494.2v4.0M496.5 614.5v-4.0M614.5 494.2v4.0M614.5 614.5v-4.0M732.5 494.2v4.0M732.5 614.5v-4.0M850.5 494.2v4.0M850.5 614.5v-4.0M68.0 601.0h4.0M948.3 601.0h-4.0M68.0 551.9h4.0M948.3 551.9h-4.0M68.0 502.7h4.0M948.3 502.7h-4.0M142.5 617.1v4.0M142.5 737.4v-4.0M260.5 617.1v4.0M260.5 737.4v-4.0M378.5 617.1v4.0M378.5 737.4v-4.0M496.5 617.1v4.0M496.5 737.4v-4.0M614.5 617.1v4.0M614.5 737.4v-4.0M732.5 617.1v4.0M732.5 737.4v-4.0M850.5 617.1v4.0M850.5 737.4v-4.0M68.0 723.9h4.0M948.3 723.9h-4.0M68.0 674.8h4.0M948.3 674.8h-4.0M68.0 625.6h4.0M948.3 625.6h-4.0M142.5 740.0v4.0M142.5 860.3v-4.0M260.5 740.0v4.0M260.5 860.3v-4.0M378.5 740.0v4.0M378.5 860.3v-4.0M496.5 740.0v4.0M496.5 860.3v-4.0M614.5 740.0v4.0M614.5 860.3v-4.0M732.5 740.0v4.0M732.5 860.3v-4.0M850.5 740.0v4.0M850.5 860.3v-4.0M68.0 846.9h4.0M948.3 846.9h-4.0M68.0 797.7h4.0M948.3 797.7h-4.0M68.0 748.5h4.0M948.3 748.5h-4.0" stroke="#000" stroke-width="1.1" fill="none"/>
<text x="61.0" y="116.9" font-size="21.6" text-anchor="end" textLength="29.2" lengthAdjust="spacingAndGlyphs" stroke="#000" stroke-width="0.35">0.0</text>
<text x="61.0" y="67.7" font-size="21.6" text-anchor="end" textLength="29.2" lengthAdjust="spacingAndGlyphs" stroke="#000" stroke-width="0.35">0.5</text>
<text x="61.0" y="18.5" font-size="21.6" text-anchor="end" textLength="29.2" lengthAdjust="spacingAndGlyphs" stroke="#000" stroke-width="0.35">1.0</text>
<text x="61.0" y="239.8" font-size="21.6" text-anchor="end" textLength="29.2" lengthAdjust="spacingAndGlyphs" stroke="#000" stroke-width="0.35">0.0</text>
<text x="61.0" y="190.6" font-size="21.6" text-anchor="end" textLength="29.2" lengthAdjust="spacingAndGlyphs" stroke="#000" stroke-width="0.35">0.5</text>
<text x="61.0" y="141.4" font-size="21.6" text-anchor="end" textLength="29.2" lengthAdjust="spacingAndGlyphs" stroke="#000" stroke-width="0.35">1.0</text>
<text x="61.0" y="362.7" font-size="21.6" text-anchor="end" textLength="29.2" lengthAdjust="spacingAndGlyphs" stroke="#000" stroke-width="0.35">0.0</text>
<text x="61.0" y="313.5" font-size="21.6" text-anchor="end" textLength="29.2" lengthAdjust="spacingAndGlyphs" stroke="#000" stroke-width="0.35">0.5</text>
<text x="61.0" y="264.4" font-size="21.6" text-anchor="end" textLength="29.2" lengthAdjust="spacingAndGlyphs" stroke="#000" stroke-width="0.35">1.0</text>
<text x="61.0" y="485.6" font-size="21.6" text-anchor="end" textLength="29.2" lengthAdjust="spacingAndGlyphs" stroke="#000" stroke-width="0.35">0.0</text>
<text x="61.0" y="436.4" font-size="21.6" text-anchor="end" textLength="29.2" lengthAdjust="spacingAndGlyphs" stroke="#000" stroke-width="0.35">0.5</text>
<text x="61.0" y="387.3" font-size="21.6" text-anchor="end" textLength="29.2" lengthAdjust="spacingAndGlyphs" stroke="#000" stroke-width="0.35">1.0</text>
<text x="61.0" y="608.5" font-size="21.6" text-anchor="end" textLength="29.2" lengthAdjust="spacingAndGlyphs" stroke="#000" stroke-width="0.35">0.0</text>
<text x="61.0" y="559.4" font-size="21.6" text-anchor="end" textLength="29.2" lengthAdjust="spacingAndGlyphs" stroke="#000" stroke-width="0.35">0.5</text>
<text x="61.0" y="510.2" font-size="21.6" text-anchor="end" textLength="29.2" lengthAdjust="spacingAndGlyphs" stroke="#000" stroke-width="0.35">1.0</text>
<text x="61.0" y="731.4" font-size="21.6" text-anchor="end" textLength="29.2" lengthAdjust="spacingAndGlyphs" stroke="#000" stroke-width="0.35">0.0</text>
<text x="61.0" y="682.3" font-size="21.6" text-anchor="end" textLength="29.2" lengthAdjust="spacingAndGlyphs" stroke="#000" stroke-width="0.35">0.5</text>
<text x="61.0" y="633.1" font-size="21.6" text-anchor="end" textLength="29.2" lengthAdjust="spacingAndGlyphs" stroke="#000" stroke-width="0.35">1.0</text>
<text x="61.0" y="854.4" font-size="21.6" text-anchor="end" textLength="29.2" lengthAdjust="spacingAndGlyphs" stroke="#000" stroke-width="0.35">0.0</text>
<text x="61.0" y="805.2" font-size="21.6" text-anchor="end" textLength="29.2" lengthAdjust="spacingAndGlyphs" stroke="#000" stroke-width="0.35">0.5</text>
<text x="61.0" y="756.0" font-size="21.6" text-anchor="end" textLength="29.2" lengthAdjust="spacingAndGlyphs" stroke="#000" stroke-width="0.35">1.0</text>
<text x="141.7" y="881.3" font-size="21.6" text-anchor="middle" textLength="39.5" lengthAdjust="spacingAndGlyphs" stroke="#000" stroke-width="0.35">−75</text>
<text x="259.7" y="881.3" font-size="21.6" text-anchor="middle" textLength="39.5" lengthAdjust="spacingAndGlyphs" stroke="#000" stroke-width="0.35">−50</text>
<text x="377.7" y="881.3" font-size="21.6" text-anchor="middle" textLength="39.5" lengthAdjust="spacingAndGlyphs" stroke="#000" stroke-width="0.35">−25</text>
<text x="496.5" y="881.3" font-size="21.6" text-anchor="middle" textLength="10.2" lengthAdjust="spacingAndGlyphs" stroke="#000" stroke-width="0.35">0</text>
<text x="614.5" y="881.3" font-size="21.6" text-anchor="middle" textLength="22.0" lengthAdjust="spacingAndGlyphs" stroke="#000" stroke-width="0.35">25</text>
<text x="732.5" y="881.3" font-size="21.6" text-anchor="middle" textLength="22.0" lengthAdjust="spacingAndGlyphs" stroke="#000" stroke-width="0.35">50</text>
<text x="850.5" y="881.3" font-size="21.6" text-anchor="middle" textLength="22.0" lengthAdjust="spacingAndGlyphs" stroke="#000" stroke-width="0.35">75</text>
<text transform="matrix(0.4578 0 0 0.3875 124.23 43.01)" font-weight="bold" font-size="100" style="font-family:'Liberation Serif',serif">a</text>
<text transform="matrix(0.4216 0 0 0.4000 124.78 166.90)" font-weight="bold" font-size="100" style="font-family:'Liberation Serif',serif">b</text>
<text transform="matrix(0.4385 0 0 0.3896 125.48 289.31)" font-weight="bold" font-size="100" style="font-family:'Liberation Serif',serif">c</text>
<text transform="matrix(0.4460 0 0 0.4000 122.42 412.30)" font-weight="bold" font-size="100" style="font-family:'Liberation Serif',serif">d</text>
<text transform="matrix(0.4667 0 0 0.3833 124.70 535.12)" font-weight="bold" font-size="100" style="font-family:'Liberation Serif',serif">e</text>
<text transform="matrix(0.4667 0 0 0.4159 129.53 659.22)" font-weight="bold" font-size="100" style="font-family:'Liberation Serif',serif">f</text>
<text transform="matrix(0.4500 0 0 0.3562 123.85 774.02)" font-weight="bold" font-size="100" style="font-family:'Liberation Serif',serif">g</text>
<text x="807.5" y="50.2" font-size="25.2" textLength="46" lengthAdjust="spacingAndGlyphs">CPT</text>
<text x="804" y="173.1" font-size="25.2" textLength="95" lengthAdjust="spacingAndGlyphs">Ramsey</text>
<text x="803" y="295.3" font-size="25.2" font-style="italic">N</text>
<text x="827" y="295.3" font-size="25.2" textLength="17" lengthAdjust="spacingAndGlyphs">=</text>
<text x="851" y="295.3" font-size="25.2">1</text>
<text x="803" y="418.2" font-size="25.2" font-style="italic">N</text>
<text x="827" y="418.2" font-size="25.2" textLength="17" lengthAdjust="spacingAndGlyphs">=</text>
<text x="851" y="418.2" font-size="25.2">3</text>
<text x="803" y="541.2" font-size="25.2" font-style="italic">N</text>
<text x="827" y="541.2" font-size="25.2" textLength="17" lengthAdjust="spacingAndGlyphs">=</text>
<text x="851" y="541.2" font-size="25.2">7</text>
<text x="803" y="664.1" font-size="25.2" font-style="italic">N</text>
<text x="827" y="664.1" font-size="25.2" textLength="17" lengthAdjust="spacingAndGlyphs">=</text>
<text x="851" y="664.1" font-size="25.2">15</text>
<text x="803" y="787.0" font-size="25.2" font-style="italic">N</text>
<text x="827" y="787.0" font-size="25.2" textLength="17" lengthAdjust="spacingAndGlyphs">=</text>
<text x="851" y="787.0" font-size="25.2">31</text>
<path d="M175.2 30.1H225.1" stroke="#ff0000" stroke-width="2.8"/>
<circle cx="200.2" cy="64.9" r="2.8" fill="#0000ff" fill-opacity="0.410"/>
<text x="244" y="38.4" font-size="25.2" textLength="119" lengthAdjust="spacingAndGlyphs">Numerical</text>
<text x="244" y="73.6" font-size="25.2" textLength="156" lengthAdjust="spacingAndGlyphs">Experimental</text>
<text transform="translate(20.1,430.5) rotate(-90)" font-size="26.5" text-anchor="middle" textLength="192" lengthAdjust="spacingAndGlyphs">Normalized TS</text>
<text x="436" y="911.7" font-size="33" font-style="italic" style="font-family:'Liberation Serif',serif">δ</text>
<path d="M464.3 888.3L454.3 918.5" stroke="#000" stroke-width="1.9"/>
<text x="467.3" y="911.7" font-size="33" style="font-family:'Liberation Serif',serif">2</text>
<text x="481.5" y="911.7" font-size="33" font-style="italic" textLength="20.5" lengthAdjust="spacingAndGlyphs" style="font-family:'Liberation Serif',serif">π</text>
<text x="510.5" y="911.7" font-size="33" textLength="84.5" lengthAdjust="spacingAndGlyphs">(kHz)</text>
</svg></body></html>
